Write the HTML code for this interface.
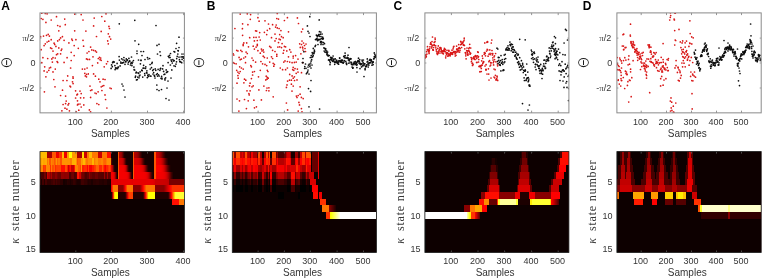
<!DOCTYPE html><html><head><meta charset="utf-8"><style>html,body{margin:0;padding:0;background:#fff;width:764px;height:280px;overflow:hidden}svg{display:block}text{font-family:"Liberation Sans",sans-serif}</style></head><body>
<svg width="764" height="280" viewBox="0 0 764 280">
<defs><filter id="bl" x="-5%" y="-5%" width="110%" height="110%"><feGaussianBlur stdDeviation="0.5"/></filter><filter id="gb" x="0" y="0" width="100%" height="100%"><feGaussianBlur stdDeviation="0.35"/></filter></defs>
<rect width="764" height="280" fill="#fff"/>
<g filter="url(#gb)">
<text x="1.2" y="9.7" font-size="12" font-weight="bold" fill="#000">A</text>
<clipPath id="cA"><rect x="40.00" y="12.90" width="144.40" height="99.95"/></clipPath>
<g clip-path="url(#cA)">
<circle cx="41.8" cy="13.2" r="0.85" fill="#d81616"/>
<circle cx="45.3" cy="13.4" r="0.85" fill="#d81616"/>
<circle cx="47.1" cy="13.8" r="0.85" fill="#d81616"/>
<circle cx="74.7" cy="14.1" r="0.85" fill="#d81616"/>
<circle cx="81.2" cy="14.6" r="0.85" fill="#d81616"/>
<circle cx="106.0" cy="13.8" r="0.85" fill="#d81616"/>
<circle cx="56.5" cy="16.7" r="0.85" fill="#d81616"/>
<circle cx="101.8" cy="16.5" r="0.85" fill="#d81616"/>
<circle cx="51.2" cy="20.0" r="0.85" fill="#d81616"/>
<circle cx="64.7" cy="19.1" r="0.85" fill="#d81616"/>
<circle cx="94.2" cy="18.1" r="0.85" fill="#d81616"/>
<circle cx="83.0" cy="20.0" r="0.85" fill="#d81616"/>
<circle cx="104.8" cy="21.2" r="0.85" fill="#d81616"/>
<circle cx="41.2" cy="18.5" r="0.85" fill="#d81616"/>
<circle cx="42.9" cy="19.3" r="0.85" fill="#d81616"/>
<circle cx="45.9" cy="22.4" r="0.85" fill="#d81616"/>
<circle cx="57.7" cy="25.5" r="0.85" fill="#d81616"/>
<circle cx="60.0" cy="26.4" r="0.85" fill="#d81616"/>
<circle cx="65.3" cy="24.7" r="0.85" fill="#d81616"/>
<circle cx="93.6" cy="25.9" r="0.85" fill="#d81616"/>
<circle cx="108.9" cy="26.4" r="0.85" fill="#d81616"/>
<circle cx="109.5" cy="28.5" r="0.85" fill="#d81616"/>
<circle cx="58.8" cy="30.8" r="0.85" fill="#d81616"/>
<circle cx="74.7" cy="30.8" r="0.85" fill="#d81616"/>
<circle cx="85.9" cy="31.1" r="0.85" fill="#d81616"/>
<circle cx="101.2" cy="31.4" r="0.85" fill="#d81616"/>
<circle cx="108.3" cy="33.8" r="0.85" fill="#d81616"/>
<circle cx="40.6" cy="36.7" r="0.85" fill="#d81616"/>
<circle cx="43.5" cy="36.1" r="0.85" fill="#d81616"/>
<circle cx="46.5" cy="35.3" r="0.85" fill="#d81616"/>
<circle cx="48.2" cy="34.4" r="0.85" fill="#d81616"/>
<circle cx="49.4" cy="36.1" r="0.85" fill="#d81616"/>
<circle cx="62.4" cy="36.7" r="0.85" fill="#d81616"/>
<circle cx="60.6" cy="37.9" r="0.85" fill="#d81616"/>
<circle cx="59.4" cy="39.7" r="0.85" fill="#d81616"/>
<circle cx="57.7" cy="40.9" r="0.85" fill="#d81616"/>
<circle cx="51.2" cy="39.7" r="0.85" fill="#d81616"/>
<circle cx="48.8" cy="41.2" r="0.85" fill="#d81616"/>
<circle cx="47.1" cy="42.0" r="0.85" fill="#d81616"/>
<circle cx="45.3" cy="43.8" r="0.85" fill="#d81616"/>
<circle cx="54.1" cy="43.2" r="0.85" fill="#d81616"/>
<circle cx="54.7" cy="44.4" r="0.85" fill="#d81616"/>
<circle cx="64.1" cy="40.3" r="0.85" fill="#d81616"/>
<circle cx="71.8" cy="39.1" r="0.85" fill="#d81616"/>
<circle cx="72.4" cy="40.3" r="0.85" fill="#d81616"/>
<circle cx="75.9" cy="39.7" r="0.85" fill="#d81616"/>
<circle cx="83.0" cy="40.3" r="0.85" fill="#d81616"/>
<circle cx="96.5" cy="36.5" r="0.85" fill="#d81616"/>
<circle cx="68.9" cy="42.9" r="0.85" fill="#d81616"/>
<circle cx="109.5" cy="36.7" r="0.85" fill="#d81616"/>
<circle cx="110.7" cy="39.1" r="0.85" fill="#d81616"/>
<circle cx="107.7" cy="40.9" r="0.85" fill="#d81616"/>
<circle cx="108.3" cy="43.8" r="0.85" fill="#d81616"/>
<circle cx="44.1" cy="45.6" r="0.85" fill="#d81616"/>
<circle cx="55.9" cy="46.4" r="0.85" fill="#d81616"/>
<circle cx="74.2" cy="45.6" r="0.85" fill="#d81616"/>
<circle cx="83.6" cy="46.2" r="0.85" fill="#d81616"/>
<circle cx="90.6" cy="47.1" r="0.85" fill="#d81616"/>
<circle cx="41.2" cy="49.7" r="0.85" fill="#d81616"/>
<circle cx="50.6" cy="47.9" r="0.85" fill="#d81616"/>
<circle cx="51.8" cy="48.5" r="0.85" fill="#d81616"/>
<circle cx="58.8" cy="47.9" r="0.85" fill="#d81616"/>
<circle cx="61.8" cy="49.1" r="0.85" fill="#d81616"/>
<circle cx="61.2" cy="50.3" r="0.85" fill="#d81616"/>
<circle cx="53.0" cy="51.1" r="0.85" fill="#d81616"/>
<circle cx="78.3" cy="48.3" r="0.85" fill="#d81616"/>
<circle cx="71.2" cy="52.3" r="0.85" fill="#d81616"/>
<circle cx="87.1" cy="53.0" r="0.85" fill="#d81616"/>
<circle cx="88.9" cy="51.5" r="0.85" fill="#d81616"/>
<circle cx="91.8" cy="49.9" r="0.85" fill="#d81616"/>
<circle cx="93.6" cy="50.3" r="0.85" fill="#d81616"/>
<circle cx="95.4" cy="50.9" r="0.85" fill="#d81616"/>
<circle cx="96.5" cy="52.1" r="0.85" fill="#d81616"/>
<circle cx="57.7" cy="53.8" r="0.85" fill="#d81616"/>
<circle cx="56.5" cy="54.7" r="0.85" fill="#d81616"/>
<circle cx="60.6" cy="53.8" r="0.85" fill="#d81616"/>
<circle cx="74.2" cy="55.6" r="0.85" fill="#d81616"/>
<circle cx="42.9" cy="57.7" r="0.85" fill="#d81616"/>
<circle cx="47.7" cy="58.5" r="0.85" fill="#d81616"/>
<circle cx="51.8" cy="58.9" r="0.85" fill="#d81616"/>
<circle cx="53.0" cy="57.7" r="0.85" fill="#d81616"/>
<circle cx="55.3" cy="58.0" r="0.85" fill="#d81616"/>
<circle cx="67.1" cy="57.7" r="0.85" fill="#d81616"/>
<circle cx="86.5" cy="58.9" r="0.85" fill="#d81616"/>
<circle cx="87.7" cy="59.4" r="0.85" fill="#d81616"/>
<circle cx="89.5" cy="59.4" r="0.85" fill="#d81616"/>
<circle cx="93.0" cy="56.8" r="0.85" fill="#d81616"/>
<circle cx="98.3" cy="58.5" r="0.85" fill="#d81616"/>
<circle cx="99.5" cy="57.4" r="0.85" fill="#d81616"/>
<circle cx="100.7" cy="58.0" r="0.85" fill="#d81616"/>
<circle cx="100.1" cy="59.7" r="0.85" fill="#d81616"/>
<circle cx="101.2" cy="60.3" r="0.85" fill="#d81616"/>
<circle cx="107.7" cy="61.5" r="0.85" fill="#d81616"/>
<circle cx="41.8" cy="62.7" r="0.85" fill="#d81616"/>
<circle cx="52.4" cy="62.1" r="0.85" fill="#d81616"/>
<circle cx="57.1" cy="61.5" r="0.85" fill="#d81616"/>
<circle cx="57.7" cy="62.4" r="0.85" fill="#d81616"/>
<circle cx="64.1" cy="62.4" r="0.85" fill="#d81616"/>
<circle cx="71.2" cy="60.5" r="0.85" fill="#d81616"/>
<circle cx="97.7" cy="62.9" r="0.85" fill="#d81616"/>
<circle cx="106.5" cy="63.8" r="0.85" fill="#d81616"/>
<circle cx="44.7" cy="66.8" r="0.85" fill="#d81616"/>
<circle cx="49.4" cy="68.0" r="0.85" fill="#d81616"/>
<circle cx="50.6" cy="67.4" r="0.85" fill="#d81616"/>
<circle cx="55.3" cy="69.1" r="0.85" fill="#d81616"/>
<circle cx="48.8" cy="70.3" r="0.85" fill="#d81616"/>
<circle cx="44.1" cy="70.9" r="0.85" fill="#d81616"/>
<circle cx="47.1" cy="72.1" r="0.85" fill="#d81616"/>
<circle cx="53.0" cy="71.9" r="0.85" fill="#d81616"/>
<circle cx="70.6" cy="68.0" r="0.85" fill="#d81616"/>
<circle cx="82.4" cy="69.1" r="0.85" fill="#d81616"/>
<circle cx="84.8" cy="69.1" r="0.85" fill="#d81616"/>
<circle cx="87.1" cy="68.0" r="0.85" fill="#d81616"/>
<circle cx="92.4" cy="65.6" r="0.85" fill="#d81616"/>
<circle cx="104.2" cy="66.8" r="0.85" fill="#d81616"/>
<circle cx="84.8" cy="73.3" r="0.85" fill="#d81616"/>
<circle cx="86.5" cy="74.4" r="0.85" fill="#d81616"/>
<circle cx="88.3" cy="73.9" r="0.85" fill="#d81616"/>
<circle cx="93.6" cy="73.9" r="0.85" fill="#d81616"/>
<circle cx="95.4" cy="76.2" r="0.85" fill="#d81616"/>
<circle cx="45.9" cy="76.8" r="0.85" fill="#d81616"/>
<circle cx="67.7" cy="75.9" r="0.85" fill="#d81616"/>
<circle cx="73.0" cy="76.8" r="0.85" fill="#d81616"/>
<circle cx="85.3" cy="75.9" r="0.85" fill="#d81616"/>
<circle cx="86.5" cy="76.8" r="0.85" fill="#d81616"/>
<circle cx="53.8" cy="79.5" r="0.85" fill="#d81616"/>
<circle cx="63.1" cy="80.5" r="0.85" fill="#d81616"/>
<circle cx="66.9" cy="80.5" r="0.85" fill="#d81616"/>
<circle cx="73.1" cy="78.2" r="0.85" fill="#d81616"/>
<circle cx="72.5" cy="81.8" r="0.85" fill="#d81616"/>
<circle cx="73.1" cy="83.6" r="0.85" fill="#d81616"/>
<circle cx="70.0" cy="86.1" r="0.85" fill="#d81616"/>
<circle cx="70.6" cy="86.8" r="0.85" fill="#d81616"/>
<circle cx="55.0" cy="86.8" r="0.85" fill="#d81616"/>
<circle cx="44.4" cy="91.8" r="0.85" fill="#d81616"/>
<circle cx="62.5" cy="90.2" r="0.85" fill="#d81616"/>
<circle cx="60.6" cy="95.5" r="0.85" fill="#d81616"/>
<circle cx="65.6" cy="96.1" r="0.85" fill="#d81616"/>
<circle cx="75.6" cy="90.8" r="0.85" fill="#d81616"/>
<circle cx="80.0" cy="91.1" r="0.85" fill="#d81616"/>
<circle cx="76.9" cy="94.9" r="0.85" fill="#d81616"/>
<circle cx="77.5" cy="94.2" r="0.85" fill="#d81616"/>
<circle cx="81.2" cy="93.6" r="0.85" fill="#d81616"/>
<circle cx="75.6" cy="98.0" r="0.85" fill="#d81616"/>
<circle cx="80.6" cy="97.8" r="0.85" fill="#d81616"/>
<circle cx="83.8" cy="97.8" r="0.85" fill="#d81616"/>
<circle cx="77.5" cy="100.8" r="0.85" fill="#d81616"/>
<circle cx="66.2" cy="101.1" r="0.85" fill="#d81616"/>
<circle cx="65.6" cy="103.6" r="0.85" fill="#d81616"/>
<circle cx="68.8" cy="103.6" r="0.85" fill="#d81616"/>
<circle cx="63.1" cy="104.5" r="0.85" fill="#d81616"/>
<circle cx="68.1" cy="104.9" r="0.85" fill="#d81616"/>
<circle cx="78.1" cy="104.2" r="0.85" fill="#d81616"/>
<circle cx="80.0" cy="104.0" r="0.85" fill="#d81616"/>
<circle cx="83.8" cy="104.9" r="0.85" fill="#d81616"/>
<circle cx="77.5" cy="104.9" r="0.85" fill="#d81616"/>
<circle cx="81.2" cy="107.0" r="0.85" fill="#d81616"/>
<circle cx="65.0" cy="108.2" r="0.85" fill="#d81616"/>
<circle cx="61.9" cy="110.8" r="0.85" fill="#d81616"/>
<circle cx="66.9" cy="109.2" r="0.85" fill="#d81616"/>
<circle cx="69.4" cy="110.8" r="0.85" fill="#d81616"/>
<circle cx="76.2" cy="111.8" r="0.85" fill="#d81616"/>
<circle cx="78.8" cy="110.2" r="0.85" fill="#d81616"/>
<circle cx="89.4" cy="109.9" r="0.85" fill="#d81616"/>
<circle cx="90.6" cy="111.8" r="0.85" fill="#d81616"/>
<circle cx="90.0" cy="86.1" r="0.85" fill="#d81616"/>
<circle cx="90.6" cy="90.5" r="0.85" fill="#d81616"/>
<circle cx="91.9" cy="89.9" r="0.85" fill="#d81616"/>
<circle cx="95.0" cy="93.0" r="0.85" fill="#d81616"/>
<circle cx="96.2" cy="93.6" r="0.85" fill="#d81616"/>
<circle cx="98.1" cy="91.8" r="0.85" fill="#d81616"/>
<circle cx="101.9" cy="90.5" r="0.85" fill="#d81616"/>
<circle cx="102.5" cy="86.1" r="0.85" fill="#d81616"/>
<circle cx="101.2" cy="86.8" r="0.85" fill="#d81616"/>
<circle cx="103.8" cy="85.5" r="0.85" fill="#d81616"/>
<circle cx="98.8" cy="79.2" r="0.85" fill="#d81616"/>
<circle cx="100.0" cy="81.8" r="0.85" fill="#d81616"/>
<circle cx="103.1" cy="79.2" r="0.85" fill="#d81616"/>
<circle cx="105.0" cy="79.5" r="0.85" fill="#d81616"/>
<circle cx="90.6" cy="97.4" r="0.85" fill="#d81616"/>
<circle cx="96.9" cy="103.6" r="0.85" fill="#d81616"/>
<circle cx="98.8" cy="104.5" r="0.85" fill="#d81616"/>
<circle cx="105.0" cy="94.9" r="0.85" fill="#d81616"/>
<circle cx="105.6" cy="99.5" r="0.85" fill="#d81616"/>
<circle cx="106.9" cy="108.0" r="0.85" fill="#d81616"/>
<circle cx="110.0" cy="88.0" r="0.85" fill="#d81616"/>
<circle cx="111.2" cy="88.6" r="0.85" fill="#d81616"/>
<circle cx="111.1" cy="68.4" r="0.85" fill="#111111"/>
<circle cx="111.6" cy="64.9" r="0.85" fill="#111111"/>
<circle cx="112.3" cy="66.7" r="0.85" fill="#111111"/>
<circle cx="112.6" cy="62.7" r="0.85" fill="#111111"/>
<circle cx="113.2" cy="61.7" r="0.85" fill="#111111"/>
<circle cx="113.6" cy="61.9" r="0.85" fill="#111111"/>
<circle cx="114.3" cy="62.0" r="0.85" fill="#111111"/>
<circle cx="114.9" cy="65.6" r="0.85" fill="#111111"/>
<circle cx="115.1" cy="69.6" r="0.85" fill="#111111"/>
<circle cx="115.6" cy="67.9" r="0.85" fill="#111111"/>
<circle cx="116.1" cy="68.6" r="0.85" fill="#111111"/>
<circle cx="116.6" cy="68.0" r="0.85" fill="#111111"/>
<circle cx="117.1" cy="63.4" r="0.85" fill="#111111"/>
<circle cx="117.6" cy="68.6" r="0.85" fill="#111111"/>
<circle cx="118.0" cy="67.3" r="0.85" fill="#111111"/>
<circle cx="118.4" cy="67.0" r="0.85" fill="#111111"/>
<circle cx="119.1" cy="56.6" r="0.85" fill="#111111"/>
<circle cx="119.4" cy="60.1" r="0.85" fill="#111111"/>
<circle cx="120.1" cy="65.9" r="0.85" fill="#111111"/>
<circle cx="120.7" cy="62.0" r="0.85" fill="#111111"/>
<circle cx="121.0" cy="63.2" r="0.85" fill="#111111"/>
<circle cx="121.7" cy="58.8" r="0.85" fill="#111111"/>
<circle cx="122.1" cy="62.8" r="0.85" fill="#111111"/>
<circle cx="122.6" cy="62.8" r="0.85" fill="#111111"/>
<circle cx="123.0" cy="59.8" r="0.85" fill="#111111"/>
<circle cx="123.6" cy="62.4" r="0.85" fill="#111111"/>
<circle cx="123.9" cy="57.5" r="0.85" fill="#111111"/>
<circle cx="124.6" cy="60.3" r="0.85" fill="#111111"/>
<circle cx="125.0" cy="64.3" r="0.85" fill="#111111"/>
<circle cx="125.6" cy="61.7" r="0.85" fill="#111111"/>
<circle cx="125.8" cy="61.7" r="0.85" fill="#111111"/>
<circle cx="126.3" cy="58.9" r="0.85" fill="#111111"/>
<circle cx="127.1" cy="60.4" r="0.85" fill="#111111"/>
<circle cx="127.3" cy="59.9" r="0.85" fill="#111111"/>
<circle cx="128.1" cy="64.1" r="0.85" fill="#111111"/>
<circle cx="128.5" cy="62.2" r="0.85" fill="#111111"/>
<circle cx="128.9" cy="58.4" r="0.85" fill="#111111"/>
<circle cx="129.4" cy="60.8" r="0.85" fill="#111111"/>
<circle cx="129.8" cy="61.2" r="0.85" fill="#111111"/>
<circle cx="130.5" cy="65.0" r="0.85" fill="#111111"/>
<circle cx="130.9" cy="63.3" r="0.85" fill="#111111"/>
<circle cx="131.4" cy="62.5" r="0.85" fill="#111111"/>
<circle cx="131.9" cy="65.6" r="0.85" fill="#111111"/>
<circle cx="132.1" cy="63.4" r="0.85" fill="#111111"/>
<circle cx="132.7" cy="62.0" r="0.85" fill="#111111"/>
<circle cx="133.4" cy="60.5" r="0.85" fill="#111111"/>
<circle cx="133.9" cy="67.1" r="0.85" fill="#111111"/>
<circle cx="134.1" cy="69.7" r="0.85" fill="#111111"/>
<circle cx="134.7" cy="70.0" r="0.85" fill="#111111"/>
<circle cx="135.3" cy="77.3" r="0.85" fill="#111111"/>
<circle cx="135.6" cy="76.2" r="0.85" fill="#111111"/>
<circle cx="136.3" cy="72.2" r="0.85" fill="#111111"/>
<circle cx="136.5" cy="79.9" r="0.85" fill="#111111"/>
<circle cx="137.3" cy="79.5" r="0.85" fill="#111111"/>
<circle cx="137.8" cy="77.1" r="0.85" fill="#111111"/>
<circle cx="138.0" cy="72.8" r="0.85" fill="#111111"/>
<circle cx="138.6" cy="73.3" r="0.85" fill="#111111"/>
<circle cx="139.0" cy="77.8" r="0.85" fill="#111111"/>
<circle cx="139.4" cy="75.9" r="0.85" fill="#111111"/>
<circle cx="140.1" cy="71.9" r="0.85" fill="#111111"/>
<circle cx="140.4" cy="63.8" r="0.85" fill="#111111"/>
<circle cx="141.0" cy="60.5" r="0.85" fill="#111111"/>
<circle cx="141.7" cy="70.2" r="0.85" fill="#111111"/>
<circle cx="142.2" cy="70.7" r="0.85" fill="#111111"/>
<circle cx="142.7" cy="77.1" r="0.85" fill="#111111"/>
<circle cx="143.1" cy="68.2" r="0.85" fill="#111111"/>
<circle cx="143.6" cy="65.3" r="0.85" fill="#111111"/>
<circle cx="144.0" cy="68.2" r="0.85" fill="#111111"/>
<circle cx="144.7" cy="73.6" r="0.85" fill="#111111"/>
<circle cx="144.9" cy="75.3" r="0.85" fill="#111111"/>
<circle cx="145.5" cy="68.4" r="0.85" fill="#111111"/>
<circle cx="145.8" cy="66.8" r="0.85" fill="#111111"/>
<circle cx="146.5" cy="72.7" r="0.85" fill="#111111"/>
<circle cx="146.9" cy="70.8" r="0.85" fill="#111111"/>
<circle cx="147.3" cy="77.6" r="0.85" fill="#111111"/>
<circle cx="147.8" cy="75.2" r="0.85" fill="#111111"/>
<circle cx="148.3" cy="76.4" r="0.85" fill="#111111"/>
<circle cx="149.0" cy="74.7" r="0.85" fill="#111111"/>
<circle cx="149.6" cy="58.5" r="0.85" fill="#111111"/>
<circle cx="150.1" cy="64.5" r="0.85" fill="#111111"/>
<circle cx="150.3" cy="69.0" r="0.85" fill="#111111"/>
<circle cx="150.9" cy="76.2" r="0.85" fill="#111111"/>
<circle cx="151.5" cy="67.7" r="0.85" fill="#111111"/>
<circle cx="151.8" cy="63.5" r="0.85" fill="#111111"/>
<circle cx="152.2" cy="62.4" r="0.85" fill="#111111"/>
<circle cx="152.7" cy="70.5" r="0.85" fill="#111111"/>
<circle cx="153.4" cy="69.5" r="0.85" fill="#111111"/>
<circle cx="153.7" cy="72.6" r="0.85" fill="#111111"/>
<circle cx="154.2" cy="75.4" r="0.85" fill="#111111"/>
<circle cx="154.7" cy="76.2" r="0.85" fill="#111111"/>
<circle cx="155.2" cy="68.9" r="0.85" fill="#111111"/>
<circle cx="155.8" cy="70.3" r="0.85" fill="#111111"/>
<circle cx="156.4" cy="74.5" r="0.85" fill="#111111"/>
<circle cx="156.8" cy="85.0" r="0.85" fill="#111111"/>
<circle cx="157.3" cy="73.6" r="0.85" fill="#111111"/>
<circle cx="157.6" cy="76.1" r="0.85" fill="#111111"/>
<circle cx="158.1" cy="69.4" r="0.85" fill="#111111"/>
<circle cx="158.5" cy="74.8" r="0.85" fill="#111111"/>
<circle cx="159.2" cy="76.0" r="0.85" fill="#111111"/>
<circle cx="159.9" cy="70.3" r="0.85" fill="#111111"/>
<circle cx="160.4" cy="68.8" r="0.85" fill="#111111"/>
<circle cx="160.6" cy="68.3" r="0.85" fill="#111111"/>
<circle cx="161.0" cy="78.3" r="0.85" fill="#111111"/>
<circle cx="161.6" cy="76.3" r="0.85" fill="#111111"/>
<circle cx="161.9" cy="78.2" r="0.85" fill="#111111"/>
<circle cx="162.6" cy="68.9" r="0.85" fill="#111111"/>
<circle cx="163.0" cy="65.7" r="0.85" fill="#111111"/>
<circle cx="163.6" cy="71.4" r="0.85" fill="#111111"/>
<circle cx="164.0" cy="74.5" r="0.85" fill="#111111"/>
<circle cx="164.8" cy="74.2" r="0.85" fill="#111111"/>
<circle cx="164.9" cy="78.9" r="0.85" fill="#111111"/>
<circle cx="165.6" cy="77.8" r="0.85" fill="#111111"/>
<circle cx="166.2" cy="69.9" r="0.85" fill="#111111"/>
<circle cx="166.5" cy="72.5" r="0.85" fill="#111111"/>
<circle cx="166.9" cy="72.1" r="0.85" fill="#111111"/>
<circle cx="167.7" cy="71.6" r="0.85" fill="#111111"/>
<circle cx="168.1" cy="62.6" r="0.85" fill="#111111"/>
<circle cx="168.3" cy="56.3" r="0.85" fill="#111111"/>
<circle cx="169.1" cy="57.4" r="0.85" fill="#111111"/>
<circle cx="169.5" cy="55.4" r="0.85" fill="#111111"/>
<circle cx="170.1" cy="57.5" r="0.85" fill="#111111"/>
<circle cx="170.4" cy="65.0" r="0.85" fill="#111111"/>
<circle cx="171.1" cy="59.9" r="0.85" fill="#111111"/>
<circle cx="171.6" cy="61.2" r="0.85" fill="#111111"/>
<circle cx="171.8" cy="69.9" r="0.85" fill="#111111"/>
<circle cx="172.3" cy="63.0" r="0.85" fill="#111111"/>
<circle cx="172.9" cy="59.5" r="0.85" fill="#111111"/>
<circle cx="173.5" cy="60.9" r="0.85" fill="#111111"/>
<circle cx="174.0" cy="65.8" r="0.85" fill="#111111"/>
<circle cx="174.2" cy="60.6" r="0.85" fill="#111111"/>
<circle cx="174.7" cy="51.9" r="0.85" fill="#111111"/>
<circle cx="175.3" cy="66.3" r="0.85" fill="#111111"/>
<circle cx="176.0" cy="64.1" r="0.85" fill="#111111"/>
<circle cx="176.5" cy="61.8" r="0.85" fill="#111111"/>
<circle cx="176.7" cy="58.6" r="0.85" fill="#111111"/>
<circle cx="177.2" cy="56.4" r="0.85" fill="#111111"/>
<circle cx="177.8" cy="54.0" r="0.85" fill="#111111"/>
<circle cx="178.3" cy="50.8" r="0.85" fill="#111111"/>
<circle cx="179.0" cy="57.1" r="0.85" fill="#111111"/>
<circle cx="179.4" cy="59.7" r="0.85" fill="#111111"/>
<circle cx="179.8" cy="61.6" r="0.85" fill="#111111"/>
<circle cx="180.1" cy="61.5" r="0.85" fill="#111111"/>
<circle cx="180.8" cy="62.0" r="0.85" fill="#111111"/>
<circle cx="181.2" cy="56.9" r="0.85" fill="#111111"/>
<circle cx="181.7" cy="62.7" r="0.85" fill="#111111"/>
<circle cx="182.1" cy="59.3" r="0.85" fill="#111111"/>
<circle cx="182.7" cy="56.9" r="0.85" fill="#111111"/>
<circle cx="183.3" cy="56.8" r="0.85" fill="#111111"/>
<circle cx="183.7" cy="58.2" r="0.85" fill="#111111"/>
<circle cx="184.1" cy="60.8" r="0.85" fill="#111111"/>
<circle cx="119.3" cy="23.8" r="0.85" fill="#111111"/>
<circle cx="134.8" cy="20.3" r="0.85" fill="#111111"/>
<circle cx="156.0" cy="25.5" r="0.85" fill="#111111"/>
<circle cx="179.0" cy="37.2" r="0.85" fill="#111111"/>
<circle cx="135.0" cy="40.8" r="0.85" fill="#111111"/>
<circle cx="138.7" cy="44.3" r="0.85" fill="#111111"/>
<circle cx="157.0" cy="45.4" r="0.85" fill="#111111"/>
<circle cx="159.0" cy="44.3" r="0.85" fill="#111111"/>
<circle cx="176.6" cy="43.3" r="0.85" fill="#111111"/>
<circle cx="137.0" cy="51.0" r="0.85" fill="#111111"/>
<circle cx="141.0" cy="51.5" r="0.85" fill="#111111"/>
<circle cx="143.5" cy="51.5" r="0.85" fill="#111111"/>
<circle cx="137.0" cy="53.5" r="0.85" fill="#111111"/>
<circle cx="142.0" cy="55.5" r="0.85" fill="#111111"/>
<circle cx="157.5" cy="54.0" r="0.85" fill="#111111"/>
<circle cx="160.0" cy="51.8" r="0.85" fill="#111111"/>
<circle cx="160.5" cy="55.5" r="0.85" fill="#111111"/>
<circle cx="170.5" cy="53.5" r="0.85" fill="#111111"/>
<circle cx="174.0" cy="51.5" r="0.85" fill="#111111"/>
<circle cx="176.0" cy="48.5" r="0.85" fill="#111111"/>
<circle cx="179.0" cy="47.5" r="0.85" fill="#111111"/>
<circle cx="178.0" cy="50.5" r="0.85" fill="#111111"/>
<circle cx="182.0" cy="54.0" r="0.85" fill="#111111"/>
<circle cx="184.0" cy="54.0" r="0.85" fill="#111111"/>
<circle cx="131.5" cy="57.0" r="0.85" fill="#111111"/>
<circle cx="138.5" cy="60.0" r="0.85" fill="#111111"/>
<circle cx="141.0" cy="60.0" r="0.85" fill="#111111"/>
<circle cx="145.0" cy="59.5" r="0.85" fill="#111111"/>
<circle cx="147.5" cy="57.5" r="0.85" fill="#111111"/>
<circle cx="148.0" cy="59.0" r="0.85" fill="#111111"/>
<circle cx="122.0" cy="84.0" r="0.85" fill="#111111"/>
<circle cx="123.0" cy="86.0" r="0.85" fill="#111111"/>
<circle cx="124.0" cy="90.0" r="0.85" fill="#111111"/>
<circle cx="125.0" cy="97.0" r="0.85" fill="#111111"/>
<circle cx="157.0" cy="89.5" r="0.85" fill="#111111"/>
<circle cx="159.0" cy="90.5" r="0.85" fill="#111111"/>
<circle cx="161.5" cy="89.5" r="0.85" fill="#111111"/>
<circle cx="162.0" cy="79.0" r="0.85" fill="#111111"/>
<circle cx="165.0" cy="80.0" r="0.85" fill="#111111"/>
<circle cx="168.0" cy="81.0" r="0.85" fill="#111111"/>
<circle cx="171.0" cy="78.0" r="0.85" fill="#111111"/>
<circle cx="166.0" cy="98.5" r="0.85" fill="#111111"/>
<circle cx="169.0" cy="100.0" r="0.85" fill="#111111"/>
<circle cx="167.0" cy="88.0" r="0.85" fill="#111111"/>
<circle cx="153.0" cy="74.0" r="0.85" fill="#111111"/>
<circle cx="150.0" cy="76.0" r="0.85" fill="#111111"/>
<circle cx="155.0" cy="78.0" r="0.85" fill="#111111"/>
<circle cx="147.0" cy="73.0" r="0.85" fill="#111111"/>
<circle cx="140.0" cy="75.0" r="0.85" fill="#111111"/>
<circle cx="136.0" cy="73.0" r="0.85" fill="#111111"/>
</g>
<rect x="40.00" y="12.90" width="144.40" height="99.95" fill="none" stroke="#8a8a8a" stroke-width="1"/>
<line x1="75.80" y1="112.85" x2="75.80" y2="110.65" stroke="#8a8a8a" stroke-width="0.9"/>
<line x1="75.80" y1="12.90" x2="75.80" y2="15.10" stroke="#8a8a8a" stroke-width="0.9"/>
<line x1="111.40" y1="112.85" x2="111.40" y2="110.65" stroke="#8a8a8a" stroke-width="0.9"/>
<line x1="111.40" y1="12.90" x2="111.40" y2="15.10" stroke="#8a8a8a" stroke-width="0.9"/>
<line x1="147.50" y1="112.85" x2="147.50" y2="110.65" stroke="#8a8a8a" stroke-width="0.9"/>
<line x1="147.50" y1="12.90" x2="147.50" y2="15.10" stroke="#8a8a8a" stroke-width="0.9"/>
<line x1="183.60" y1="112.85" x2="183.60" y2="110.65" stroke="#8a8a8a" stroke-width="0.9"/>
<line x1="183.60" y1="12.90" x2="183.60" y2="15.10" stroke="#8a8a8a" stroke-width="0.9"/>
<line x1="40.00" y1="38.10" x2="41.50" y2="38.10" stroke="#8a8a8a" stroke-width="0.8"/>
<line x1="184.40" y1="38.10" x2="182.90" y2="38.10" stroke="#8a8a8a" stroke-width="0.8"/>
<line x1="40.00" y1="63.00" x2="41.50" y2="63.00" stroke="#8a8a8a" stroke-width="0.8"/>
<line x1="184.40" y1="63.00" x2="182.90" y2="63.00" stroke="#8a8a8a" stroke-width="0.8"/>
<line x1="40.00" y1="88.00" x2="41.50" y2="88.00" stroke="#8a8a8a" stroke-width="0.8"/>
<line x1="184.40" y1="88.00" x2="182.90" y2="88.00" stroke="#8a8a8a" stroke-width="0.8"/>
<text x="75.20" y="124.6" font-size="9" fill="#353535" text-anchor="middle">100</text>
<text x="110.80" y="124.6" font-size="9" fill="#353535" text-anchor="middle">200</text>
<text x="146.90" y="124.6" font-size="9" fill="#353535" text-anchor="middle">300</text>
<text x="183.00" y="124.6" font-size="9" fill="#353535" text-anchor="middle">400</text>
<text x="34.30" y="40.9" font-size="9" fill="#353535" text-anchor="end"><tspan style="font-family:'Liberation Serif',serif" font-size="8.6">&#960;</tspan>/2</text>
<text x="35.40" y="66.2" font-size="9" fill="#353535" text-anchor="end">0</text>
<text x="34.30" y="90.9" font-size="9" fill="#353535" text-anchor="end">-<tspan style="font-family:'Liberation Serif',serif" font-size="8.6">&#960;</tspan>/2</text>
<text x="110.40" y="136.7" font-size="10" fill="#353535" text-anchor="middle">Samples</text>
<path d="M6.60,62.60 m-5.3,0 a5.3,4.6 0 1,0 10.6,0 a5.3,4.6 0 1,0 -10.6,0 z M6.60,62.60 m-4.5,0 a4.5,3.5 0 1,1 9.0,0 a4.5,3.5 0 1,1 -9.0,0 z" fill="#1e1e1e" fill-rule="evenodd"/>
<rect x="6.10" y="60.20" width="1.0" height="4.8" fill="#1e1e1e"/>
<clipPath id="hA"><rect x="40.00" y="151.60" width="144.40" height="100.90"/></clipPath>
<g clip-path="url(#hA)"><g filter="url(#bl)" shape-rendering="crispEdges">
<rect x="38.00" y="149.60" width="149.00" height="104.90" fill="#0b0103"/>
<rect x="38" y="149.60" width="9" height="8.73" fill="#ffbb00"/>
<rect x="47" y="149.60" width="5" height="8.73" fill="#aa0000"/>
<rect x="52" y="149.60" width="4" height="8.73" fill="#ff5500"/>
<rect x="56" y="149.60" width="3" height="8.73" fill="#ee0000"/>
<rect x="59" y="149.60" width="3" height="8.73" fill="#ff3300"/>
<rect x="62" y="149.60" width="2" height="8.73" fill="#ffbb00"/>
<rect x="64" y="149.60" width="3" height="8.73" fill="#ee0000"/>
<rect x="67" y="149.60" width="2" height="8.73" fill="#ff9900"/>
<rect x="69" y="149.60" width="3" height="8.73" fill="#ffff00"/>
<rect x="72" y="149.60" width="5" height="8.73" fill="#ff9900"/>
<rect x="77" y="149.60" width="5" height="8.73" fill="#aa0000"/>
<rect x="82" y="149.60" width="2" height="8.73" fill="#ffdd00"/>
<rect x="84" y="149.60" width="3" height="8.73" fill="#cc0000"/>
<rect x="87" y="149.60" width="2" height="8.73" fill="#ff7700"/>
<rect x="89" y="149.60" width="3" height="8.73" fill="#ffbb00"/>
<rect x="92" y="149.60" width="6" height="8.73" fill="#ff7700"/>
<rect x="98" y="149.60" width="4" height="8.73" fill="#cc0000"/>
<rect x="102" y="149.60" width="5" height="8.73" fill="#ff7700"/>
<rect x="107" y="149.60" width="4" height="8.73" fill="#ff1100"/>
<rect x="111" y="149.60" width="7" height="8.73" fill="#140000"/>
<rect x="118" y="149.60" width="1" height="8.73" fill="#ff5500"/>
<rect x="119" y="149.60" width="1" height="8.73" fill="#ad0000"/>
<rect x="120" y="149.60" width="1" height="8.73" fill="#a60000"/>
<rect x="121" y="149.60" width="1" height="8.73" fill="#950000"/>
<rect x="122" y="149.60" width="1" height="8.73" fill="#700000"/>
<rect x="123" y="149.60" width="1" height="8.73" fill="#400000"/>
<rect x="124" y="149.60" width="1" height="8.73" fill="#1c0000"/>
<rect x="125" y="149.60" width="8" height="8.73" fill="#140000"/>
<rect x="133" y="149.60" width="1" height="8.73" fill="#ff5500"/>
<rect x="134" y="149.60" width="1" height="8.73" fill="#ae0000"/>
<rect x="135" y="149.60" width="1" height="8.73" fill="#ab0000"/>
<rect x="136" y="149.60" width="1" height="8.73" fill="#a50000"/>
<rect x="137" y="149.60" width="1" height="8.73" fill="#9a0000"/>
<rect x="138" y="149.60" width="1" height="8.73" fill="#850000"/>
<rect x="139" y="149.60" width="1" height="8.73" fill="#680000"/>
<rect x="140" y="149.60" width="1" height="8.73" fill="#460000"/>
<rect x="141" y="149.60" width="1" height="8.73" fill="#290000"/>
<rect x="142" y="149.60" width="1" height="8.73" fill="#160000"/>
<rect x="143" y="149.60" width="11" height="8.73" fill="#140000"/>
<rect x="154" y="149.60" width="2" height="8.73" fill="#ff5500"/>
<rect x="156" y="149.60" width="1" height="8.73" fill="#d20000"/>
<rect x="157" y="149.60" width="1" height="8.73" fill="#cd0000"/>
<rect x="158" y="149.60" width="1" height="8.73" fill="#c40000"/>
<rect x="159" y="149.60" width="1" height="8.73" fill="#b60000"/>
<rect x="160" y="149.60" width="1" height="8.73" fill="#a10000"/>
<rect x="161" y="149.60" width="1" height="8.73" fill="#870000"/>
<rect x="162" y="149.60" width="1" height="8.73" fill="#680000"/>
<rect x="163" y="149.60" width="1" height="8.73" fill="#4b0000"/>
<rect x="164" y="149.60" width="1" height="8.73" fill="#320000"/>
<rect x="165" y="149.60" width="1" height="8.73" fill="#1f0000"/>
<rect x="166" y="149.60" width="21" height="8.73" fill="#140000"/>
<rect x="38" y="158.33" width="4" height="6.73" fill="#ffa200"/>
<rect x="42" y="158.33" width="1" height="6.73" fill="#ffb100"/>
<rect x="43" y="158.33" width="2" height="6.73" fill="#ffa300"/>
<rect x="45" y="158.33" width="2" height="6.73" fill="#ffab00"/>
<rect x="47" y="158.33" width="1" height="6.73" fill="#ff7500"/>
<rect x="48" y="158.33" width="1" height="6.73" fill="#ff9000"/>
<rect x="49" y="158.33" width="2" height="6.73" fill="#ff5400"/>
<rect x="51" y="158.33" width="1" height="6.73" fill="#ff8500"/>
<rect x="52" y="158.33" width="2" height="6.73" fill="#ff7800"/>
<rect x="54" y="158.33" width="1" height="6.73" fill="#ff5800"/>
<rect x="55" y="158.33" width="1" height="6.73" fill="#ff6b00"/>
<rect x="56" y="158.33" width="1" height="6.73" fill="#ff9300"/>
<rect x="57" y="158.33" width="1" height="6.73" fill="#ff6700"/>
<rect x="58" y="158.33" width="2" height="6.73" fill="#ff7b00"/>
<rect x="60" y="158.33" width="2" height="6.73" fill="#ff5300"/>
<rect x="62" y="158.33" width="2" height="6.73" fill="#ff9200"/>
<rect x="64" y="158.33" width="3" height="6.73" fill="#ff9300"/>
<rect x="67" y="158.33" width="1" height="6.73" fill="#ff9000"/>
<rect x="68" y="158.33" width="2" height="6.73" fill="#ff9100"/>
<rect x="70" y="158.33" width="2" height="6.73" fill="#ff7d00"/>
<rect x="72" y="158.33" width="2" height="6.73" fill="#ffb000"/>
<rect x="74" y="158.33" width="2" height="6.73" fill="#ffb300"/>
<rect x="76" y="158.33" width="1" height="6.73" fill="#ff8e00"/>
<rect x="77" y="158.33" width="1" height="6.73" fill="#ff5200"/>
<rect x="78" y="158.33" width="3" height="6.73" fill="#ff6500"/>
<rect x="81" y="158.33" width="2" height="6.73" fill="#ff9e00"/>
<rect x="83" y="158.33" width="2" height="6.73" fill="#ffba00"/>
<rect x="85" y="158.33" width="1" height="6.73" fill="#ff9300"/>
<rect x="86" y="158.33" width="2" height="6.73" fill="#ff7500"/>
<rect x="88" y="158.33" width="2" height="6.73" fill="#ff8c00"/>
<rect x="90" y="158.33" width="1" height="6.73" fill="#ff8e00"/>
<rect x="91" y="158.33" width="1" height="6.73" fill="#ff8800"/>
<rect x="92" y="158.33" width="2" height="6.73" fill="#ffb500"/>
<rect x="94" y="158.33" width="1" height="6.73" fill="#ff7c00"/>
<rect x="95" y="158.33" width="1" height="6.73" fill="#ff8f00"/>
<rect x="96" y="158.33" width="2" height="6.73" fill="#ff9600"/>
<rect x="98" y="158.33" width="3" height="6.73" fill="#ff7a00"/>
<rect x="101" y="158.33" width="2" height="6.73" fill="#ff8600"/>
<rect x="103" y="158.33" width="1" height="6.73" fill="#ff6d00"/>
<rect x="104" y="158.33" width="2" height="6.73" fill="#ff6500"/>
<rect x="106" y="158.33" width="1" height="6.73" fill="#ff7c00"/>
<rect x="107" y="158.33" width="3" height="6.73" fill="#ff8e00"/>
<rect x="110" y="158.33" width="1" height="6.73" fill="#ff9000"/>
<rect x="111" y="158.33" width="1" height="6.73" fill="#5b0000"/>
<rect x="112" y="158.33" width="1" height="6.73" fill="#230000"/>
<rect x="113" y="158.33" width="5" height="6.73" fill="#140000"/>
<rect x="118" y="158.33" width="1" height="6.73" fill="#ff5500"/>
<rect x="119" y="158.33" width="1" height="6.73" fill="#d90000"/>
<rect x="120" y="158.33" width="1" height="6.73" fill="#d80000"/>
<rect x="121" y="158.33" width="1" height="6.73" fill="#d40000"/>
<rect x="122" y="158.33" width="1" height="6.73" fill="#ca0000"/>
<rect x="123" y="158.33" width="1" height="6.73" fill="#b00000"/>
<rect x="124" y="158.33" width="1" height="6.73" fill="#7f0000"/>
<rect x="125" y="158.33" width="1" height="6.73" fill="#450000"/>
<rect x="126" y="158.33" width="1" height="6.73" fill="#1d0000"/>
<rect x="127" y="158.33" width="6" height="6.73" fill="#140000"/>
<rect x="133" y="158.33" width="1" height="6.73" fill="#ff5500"/>
<rect x="134" y="158.33" width="2" height="6.73" fill="#d90000"/>
<rect x="136" y="158.33" width="1" height="6.73" fill="#d80000"/>
<rect x="137" y="158.33" width="1" height="6.73" fill="#d50000"/>
<rect x="138" y="158.33" width="1" height="6.73" fill="#d00000"/>
<rect x="139" y="158.33" width="1" height="6.73" fill="#c70000"/>
<rect x="140" y="158.33" width="1" height="6.73" fill="#b40000"/>
<rect x="141" y="158.33" width="1" height="6.73" fill="#960000"/>
<rect x="142" y="158.33" width="1" height="6.73" fill="#6e0000"/>
<rect x="143" y="158.33" width="1" height="6.73" fill="#460000"/>
<rect x="144" y="158.33" width="1" height="6.73" fill="#270000"/>
<rect x="145" y="158.33" width="9" height="6.73" fill="#140000"/>
<rect x="154" y="158.33" width="2" height="6.73" fill="#ff5500"/>
<rect x="156" y="158.33" width="1" height="6.73" fill="#f20000"/>
<rect x="157" y="158.33" width="1" height="6.73" fill="#f10000"/>
<rect x="158" y="158.33" width="1" height="6.73" fill="#ee0000"/>
<rect x="159" y="158.33" width="1" height="6.73" fill="#e90000"/>
<rect x="160" y="158.33" width="1" height="6.73" fill="#e00000"/>
<rect x="161" y="158.33" width="1" height="6.73" fill="#d30000"/>
<rect x="162" y="158.33" width="1" height="6.73" fill="#be0000"/>
<rect x="163" y="158.33" width="1" height="6.73" fill="#a30000"/>
<rect x="164" y="158.33" width="1" height="6.73" fill="#810000"/>
<rect x="165" y="158.33" width="1" height="6.73" fill="#5f0000"/>
<rect x="166" y="158.33" width="1" height="6.73" fill="#410000"/>
<rect x="167" y="158.33" width="1" height="6.73" fill="#2a0000"/>
<rect x="168" y="158.33" width="1" height="6.73" fill="#190000"/>
<rect x="169" y="158.33" width="18" height="6.73" fill="#140000"/>
<rect x="38" y="165.05" width="3" height="6.73" fill="#ff7000"/>
<rect x="41" y="165.05" width="2" height="6.73" fill="#ff8600"/>
<rect x="43" y="165.05" width="1" height="6.73" fill="#ff3500"/>
<rect x="44" y="165.05" width="1" height="6.73" fill="#ff4200"/>
<rect x="45" y="165.05" width="1" height="6.73" fill="#ff3900"/>
<rect x="46" y="165.05" width="2" height="6.73" fill="#ff8600"/>
<rect x="48" y="165.05" width="2" height="6.73" fill="#ff8400"/>
<rect x="50" y="165.05" width="1" height="6.73" fill="#ff3200"/>
<rect x="51" y="165.05" width="1" height="6.73" fill="#ff7d00"/>
<rect x="52" y="165.05" width="2" height="6.73" fill="#ff4e00"/>
<rect x="54" y="165.05" width="1" height="6.73" fill="#ff6200"/>
<rect x="55" y="165.05" width="1" height="6.73" fill="#ff2a00"/>
<rect x="56" y="165.05" width="2" height="6.73" fill="#ff4300"/>
<rect x="58" y="165.05" width="3" height="6.73" fill="#ff4500"/>
<rect x="61" y="165.05" width="2" height="6.73" fill="#ff0700"/>
<rect x="63" y="165.05" width="2" height="6.73" fill="#ff0b00"/>
<rect x="65" y="165.05" width="2" height="6.73" fill="#ff4c00"/>
<rect x="67" y="165.05" width="1" height="6.73" fill="#ff1d00"/>
<rect x="68" y="165.05" width="1" height="6.73" fill="#c60000"/>
<rect x="69" y="165.05" width="1" height="6.73" fill="#f80000"/>
<rect x="70" y="165.05" width="1" height="6.73" fill="#ff1300"/>
<rect x="71" y="165.05" width="3" height="6.73" fill="#c80000"/>
<rect x="74" y="165.05" width="1" height="6.73" fill="#ff0800"/>
<rect x="75" y="165.05" width="3" height="6.73" fill="#ff8200"/>
<rect x="78" y="165.05" width="2" height="6.73" fill="#ff6000"/>
<rect x="80" y="165.05" width="1" height="6.73" fill="#ff4100"/>
<rect x="81" y="165.05" width="1" height="6.73" fill="#ff9600"/>
<rect x="82" y="165.05" width="2" height="6.73" fill="#ff1c00"/>
<rect x="84" y="165.05" width="3" height="6.73" fill="#ff2a00"/>
<rect x="87" y="165.05" width="1" height="6.73" fill="#ff0500"/>
<rect x="88" y="165.05" width="1" height="6.73" fill="#ff3e00"/>
<rect x="89" y="165.05" width="3" height="6.73" fill="#f90000"/>
<rect x="92" y="165.05" width="2" height="6.73" fill="#ff1b00"/>
<rect x="94" y="165.05" width="1" height="6.73" fill="#ff3400"/>
<rect x="95" y="165.05" width="1" height="6.73" fill="#ff3d00"/>
<rect x="96" y="165.05" width="3" height="6.73" fill="#ff6200"/>
<rect x="99" y="165.05" width="3" height="6.73" fill="#ff2700"/>
<rect x="102" y="165.05" width="1" height="6.73" fill="#ff5900"/>
<rect x="103" y="165.05" width="1" height="6.73" fill="#ff3200"/>
<rect x="104" y="165.05" width="1" height="6.73" fill="#ff1000"/>
<rect x="105" y="165.05" width="1" height="6.73" fill="#f90000"/>
<rect x="106" y="165.05" width="2" height="6.73" fill="#ff2300"/>
<rect x="108" y="165.05" width="1" height="6.73" fill="#ff3a00"/>
<rect x="109" y="165.05" width="1" height="6.73" fill="#ff4e00"/>
<rect x="110" y="165.05" width="1" height="6.73" fill="#ff2d00"/>
<rect x="111" y="165.05" width="1" height="6.73" fill="#df0000"/>
<rect x="112" y="165.05" width="1" height="6.73" fill="#b30000"/>
<rect x="113" y="165.05" width="1" height="6.73" fill="#660000"/>
<rect x="114" y="165.05" width="1" height="6.73" fill="#270000"/>
<rect x="115" y="165.05" width="3" height="6.73" fill="#140000"/>
<rect x="118" y="165.05" width="1" height="6.73" fill="#ff5500"/>
<rect x="119" y="165.05" width="2" height="6.73" fill="#f50000"/>
<rect x="121" y="165.05" width="1" height="6.73" fill="#f40000"/>
<rect x="122" y="165.05" width="1" height="6.73" fill="#f30000"/>
<rect x="123" y="165.05" width="1" height="6.73" fill="#f10000"/>
<rect x="124" y="165.05" width="1" height="6.73" fill="#e90000"/>
<rect x="125" y="165.05" width="1" height="6.73" fill="#d50000"/>
<rect x="126" y="165.05" width="1" height="6.73" fill="#a80000"/>
<rect x="127" y="165.05" width="1" height="6.73" fill="#660000"/>
<rect x="128" y="165.05" width="1" height="6.73" fill="#2f0000"/>
<rect x="129" y="165.05" width="4" height="6.73" fill="#140000"/>
<rect x="133" y="165.05" width="1" height="6.73" fill="#ff5500"/>
<rect x="134" y="165.05" width="3" height="6.73" fill="#f50000"/>
<rect x="137" y="165.05" width="2" height="6.73" fill="#f40000"/>
<rect x="139" y="165.05" width="1" height="6.73" fill="#f30000"/>
<rect x="140" y="165.05" width="1" height="6.73" fill="#f10000"/>
<rect x="141" y="165.05" width="1" height="6.73" fill="#ed0000"/>
<rect x="142" y="165.05" width="1" height="6.73" fill="#e50000"/>
<rect x="143" y="165.05" width="1" height="6.73" fill="#d50000"/>
<rect x="144" y="165.05" width="1" height="6.73" fill="#b90000"/>
<rect x="145" y="165.05" width="1" height="6.73" fill="#900000"/>
<rect x="146" y="165.05" width="1" height="6.73" fill="#620000"/>
<rect x="147" y="165.05" width="1" height="6.73" fill="#390000"/>
<rect x="148" y="165.05" width="1" height="6.73" fill="#1e0000"/>
<rect x="149" y="165.05" width="5" height="6.73" fill="#140000"/>
<rect x="154" y="165.05" width="2" height="6.73" fill="#ff5500"/>
<rect x="156" y="165.05" width="1" height="6.73" fill="#ff0300"/>
<rect x="157" y="165.05" width="1" height="6.73" fill="#ff0200"/>
<rect x="158" y="165.05" width="1" height="6.73" fill="#ff0100"/>
<rect x="159" y="165.05" width="1" height="6.73" fill="#fe0000"/>
<rect x="160" y="165.05" width="1" height="6.73" fill="#fb0000"/>
<rect x="161" y="165.05" width="1" height="6.73" fill="#f60000"/>
<rect x="162" y="165.05" width="1" height="6.73" fill="#ed0000"/>
<rect x="163" y="165.05" width="1" height="6.73" fill="#df0000"/>
<rect x="164" y="165.05" width="1" height="6.73" fill="#ca0000"/>
<rect x="165" y="165.05" width="1" height="6.73" fill="#ad0000"/>
<rect x="166" y="165.05" width="1" height="6.73" fill="#8b0000"/>
<rect x="167" y="165.05" width="1" height="6.73" fill="#660000"/>
<rect x="168" y="165.05" width="1" height="6.73" fill="#460000"/>
<rect x="169" y="165.05" width="1" height="6.73" fill="#2d0000"/>
<rect x="170" y="165.05" width="1" height="6.73" fill="#1c0000"/>
<rect x="171" y="165.05" width="16" height="6.73" fill="#140000"/>
<rect x="38" y="171.78" width="3" height="6.73" fill="#2e0000"/>
<rect x="41" y="171.78" width="2" height="6.73" fill="#4a0000"/>
<rect x="43" y="171.78" width="1" height="6.73" fill="#4d0000"/>
<rect x="44" y="171.78" width="2" height="6.73" fill="#710000"/>
<rect x="46" y="171.78" width="1" height="6.73" fill="#480000"/>
<rect x="47" y="171.78" width="1" height="6.73" fill="#c90000"/>
<rect x="48" y="171.78" width="2" height="6.73" fill="#ae0000"/>
<rect x="50" y="171.78" width="1" height="6.73" fill="#860000"/>
<rect x="51" y="171.78" width="1" height="6.73" fill="#a80000"/>
<rect x="52" y="171.78" width="3" height="6.73" fill="#760000"/>
<rect x="55" y="171.78" width="2" height="6.73" fill="#8d0000"/>
<rect x="57" y="171.78" width="1" height="6.73" fill="#760000"/>
<rect x="58" y="171.78" width="3" height="6.73" fill="#690000"/>
<rect x="61" y="171.78" width="3" height="6.73" fill="#930000"/>
<rect x="64" y="171.78" width="2" height="6.73" fill="#8c0000"/>
<rect x="66" y="171.78" width="3" height="6.73" fill="#900000"/>
<rect x="69" y="171.78" width="2" height="6.73" fill="#4c0000"/>
<rect x="71" y="171.78" width="1" height="6.73" fill="#670000"/>
<rect x="72" y="171.78" width="2" height="6.73" fill="#6e0000"/>
<rect x="74" y="171.78" width="2" height="6.73" fill="#4e0000"/>
<rect x="76" y="171.78" width="1" height="6.73" fill="#580000"/>
<rect x="77" y="171.78" width="1" height="6.73" fill="#ff0900"/>
<rect x="78" y="171.78" width="1" height="6.73" fill="#ff1500"/>
<rect x="79" y="171.78" width="2" height="6.73" fill="#ce0000"/>
<rect x="81" y="171.78" width="1" height="6.73" fill="#820000"/>
<rect x="82" y="171.78" width="2" height="6.73" fill="#710000"/>
<rect x="84" y="171.78" width="1" height="6.73" fill="#600000"/>
<rect x="85" y="171.78" width="2" height="6.73" fill="#4c0000"/>
<rect x="87" y="171.78" width="2" height="6.73" fill="#5c0000"/>
<rect x="89" y="171.78" width="1" height="6.73" fill="#890000"/>
<rect x="90" y="171.78" width="2" height="6.73" fill="#6b0000"/>
<rect x="92" y="171.78" width="3" height="6.73" fill="#5b0000"/>
<rect x="95" y="171.78" width="3" height="6.73" fill="#6d0000"/>
<rect x="98" y="171.78" width="3" height="6.73" fill="#580000"/>
<rect x="101" y="171.78" width="3" height="6.73" fill="#550000"/>
<rect x="104" y="171.78" width="1" height="6.73" fill="#9a0000"/>
<rect x="105" y="171.78" width="2" height="6.73" fill="#5d0000"/>
<rect x="107" y="171.78" width="1" height="6.73" fill="#9c0000"/>
<rect x="108" y="171.78" width="2" height="6.73" fill="#5e0000"/>
<rect x="110" y="171.78" width="1" height="6.73" fill="#6f0000"/>
<rect x="111" y="171.78" width="1" height="6.73" fill="#f40000"/>
<rect x="112" y="171.78" width="1" height="6.73" fill="#f20000"/>
<rect x="113" y="171.78" width="1" height="6.73" fill="#e90000"/>
<rect x="114" y="171.78" width="1" height="6.73" fill="#ce0000"/>
<rect x="115" y="171.78" width="1" height="6.73" fill="#8f0000"/>
<rect x="116" y="171.78" width="1" height="6.73" fill="#420000"/>
<rect x="117" y="171.78" width="1" height="6.73" fill="#160000"/>
<rect x="118" y="171.78" width="1" height="6.73" fill="#ff5500"/>
<rect x="119" y="171.78" width="5" height="6.73" fill="#f50000"/>
<rect x="124" y="171.78" width="1" height="6.73" fill="#f40000"/>
<rect x="125" y="171.78" width="1" height="6.73" fill="#f30000"/>
<rect x="126" y="171.78" width="1" height="6.73" fill="#f10000"/>
<rect x="127" y="171.78" width="1" height="6.73" fill="#e90000"/>
<rect x="128" y="171.78" width="1" height="6.73" fill="#d50000"/>
<rect x="129" y="171.78" width="1" height="6.73" fill="#a80000"/>
<rect x="130" y="171.78" width="1" height="6.73" fill="#660000"/>
<rect x="131" y="171.78" width="1" height="6.73" fill="#2f0000"/>
<rect x="132" y="171.78" width="1" height="6.73" fill="#140000"/>
<rect x="133" y="171.78" width="1" height="6.73" fill="#ff5500"/>
<rect x="134" y="171.78" width="8" height="6.73" fill="#f50000"/>
<rect x="142" y="171.78" width="2" height="6.73" fill="#f40000"/>
<rect x="144" y="171.78" width="1" height="6.73" fill="#f20000"/>
<rect x="145" y="171.78" width="1" height="6.73" fill="#ef0000"/>
<rect x="146" y="171.78" width="1" height="6.73" fill="#e80000"/>
<rect x="147" y="171.78" width="1" height="6.73" fill="#db0000"/>
<rect x="148" y="171.78" width="1" height="6.73" fill="#c30000"/>
<rect x="149" y="171.78" width="1" height="6.73" fill="#9e0000"/>
<rect x="150" y="171.78" width="1" height="6.73" fill="#700000"/>
<rect x="151" y="171.78" width="1" height="6.73" fill="#440000"/>
<rect x="152" y="171.78" width="1" height="6.73" fill="#250000"/>
<rect x="153" y="171.78" width="1" height="6.73" fill="#140000"/>
<rect x="154" y="171.78" width="2" height="6.73" fill="#ff5500"/>
<rect x="156" y="171.78" width="2" height="6.73" fill="#f50000"/>
<rect x="158" y="171.78" width="2" height="6.73" fill="#f40000"/>
<rect x="160" y="171.78" width="1" height="6.73" fill="#f30000"/>
<rect x="161" y="171.78" width="1" height="6.73" fill="#f20000"/>
<rect x="162" y="171.78" width="1" height="6.73" fill="#f10000"/>
<rect x="163" y="171.78" width="1" height="6.73" fill="#ee0000"/>
<rect x="164" y="171.78" width="1" height="6.73" fill="#e90000"/>
<rect x="165" y="171.78" width="1" height="6.73" fill="#e00000"/>
<rect x="166" y="171.78" width="1" height="6.73" fill="#d20000"/>
<rect x="167" y="171.78" width="1" height="6.73" fill="#be0000"/>
<rect x="168" y="171.78" width="1" height="6.73" fill="#a20000"/>
<rect x="169" y="171.78" width="1" height="6.73" fill="#810000"/>
<rect x="170" y="171.78" width="1" height="6.73" fill="#5f0000"/>
<rect x="171" y="171.78" width="1" height="6.73" fill="#410000"/>
<rect x="172" y="171.78" width="1" height="6.73" fill="#2a0000"/>
<rect x="173" y="171.78" width="1" height="6.73" fill="#190000"/>
<rect x="174" y="171.78" width="13" height="6.73" fill="#140000"/>
<rect x="38" y="178.51" width="3" height="6.73" fill="#4a0000"/>
<rect x="41" y="178.51" width="1" height="6.73" fill="#1d0000"/>
<rect x="42" y="178.51" width="2" height="6.73" fill="#420000"/>
<rect x="44" y="178.51" width="1" height="6.73" fill="#250000"/>
<rect x="45" y="178.51" width="2" height="6.73" fill="#460000"/>
<rect x="47" y="178.51" width="2" height="6.73" fill="#320000"/>
<rect x="49" y="178.51" width="2" height="6.73" fill="#300000"/>
<rect x="51" y="178.51" width="2" height="6.73" fill="#3c0000"/>
<rect x="53" y="178.51" width="2" height="6.73" fill="#4a0000"/>
<rect x="55" y="178.51" width="1" height="6.73" fill="#370000"/>
<rect x="56" y="178.51" width="1" height="6.73" fill="#480000"/>
<rect x="57" y="178.51" width="3" height="6.73" fill="#3b0000"/>
<rect x="60" y="178.51" width="3" height="6.73" fill="#2e0000"/>
<rect x="63" y="178.51" width="1" height="6.73" fill="#170000"/>
<rect x="64" y="178.51" width="1" height="6.73" fill="#190000"/>
<rect x="65" y="178.51" width="2" height="6.73" fill="#1f0000"/>
<rect x="67" y="178.51" width="1" height="6.73" fill="#2b0000"/>
<rect x="68" y="178.51" width="2" height="6.73" fill="#260000"/>
<rect x="70" y="178.51" width="1" height="6.73" fill="#1a0000"/>
<rect x="71" y="178.51" width="2" height="6.73" fill="#250000"/>
<rect x="73" y="178.51" width="2" height="6.73" fill="#360000"/>
<rect x="75" y="178.51" width="1" height="6.73" fill="#2e0000"/>
<rect x="76" y="178.51" width="1" height="6.73" fill="#200000"/>
<rect x="77" y="178.51" width="3" height="6.73" fill="#1d0000"/>
<rect x="80" y="178.51" width="1" height="6.73" fill="#250000"/>
<rect x="81" y="178.51" width="3" height="6.73" fill="#410000"/>
<rect x="84" y="178.51" width="3" height="6.73" fill="#350000"/>
<rect x="87" y="178.51" width="1" height="6.73" fill="#2a0000"/>
<rect x="88" y="178.51" width="1" height="6.73" fill="#220000"/>
<rect x="89" y="178.51" width="2" height="6.73" fill="#250000"/>
<rect x="91" y="178.51" width="2" height="6.73" fill="#1b0000"/>
<rect x="93" y="178.51" width="3" height="6.73" fill="#2b0000"/>
<rect x="96" y="178.51" width="3" height="6.73" fill="#2f0000"/>
<rect x="99" y="178.51" width="3" height="6.73" fill="#280000"/>
<rect x="102" y="178.51" width="2" height="6.73" fill="#210000"/>
<rect x="104" y="178.51" width="3" height="6.73" fill="#2b0000"/>
<rect x="107" y="178.51" width="3" height="6.73" fill="#1e0000"/>
<rect x="110" y="178.51" width="1" height="6.73" fill="#180000"/>
<rect x="111" y="178.51" width="5" height="6.73" fill="#e70000"/>
<rect x="116" y="178.51" width="1" height="6.73" fill="#e60000"/>
<rect x="117" y="178.51" width="1" height="6.73" fill="#e20000"/>
<rect x="118" y="178.51" width="13" height="6.73" fill="#e70000"/>
<rect x="131" y="178.51" width="1" height="6.73" fill="#e50000"/>
<rect x="132" y="178.51" width="1" height="6.73" fill="#e10000"/>
<rect x="133" y="178.51" width="18" height="6.73" fill="#e70000"/>
<rect x="151" y="178.51" width="1" height="6.73" fill="#e60000"/>
<rect x="152" y="178.51" width="1" height="6.73" fill="#e40000"/>
<rect x="153" y="178.51" width="1" height="6.73" fill="#e10000"/>
<rect x="154" y="178.51" width="1" height="6.73" fill="#db0000"/>
<rect x="155" y="178.51" width="8" height="6.73" fill="#cc0000"/>
<rect x="163" y="178.51" width="2" height="6.73" fill="#cb0000"/>
<rect x="165" y="178.51" width="1" height="6.73" fill="#c90000"/>
<rect x="166" y="178.51" width="1" height="6.73" fill="#c80000"/>
<rect x="167" y="178.51" width="1" height="6.73" fill="#c40000"/>
<rect x="168" y="178.51" width="1" height="6.73" fill="#bf0000"/>
<rect x="169" y="178.51" width="15" height="6.73" fill="#7a0000"/>
<rect x="184" y="178.51" width="3" height="6.73" fill="#140000"/>
<rect x="111" y="185.23" width="1" height="6.73" fill="#f70000"/>
<rect x="112" y="185.23" width="1" height="6.73" fill="#ff3800"/>
<rect x="113" y="185.23" width="5" height="6.73" fill="#ff7700"/>
<rect x="118" y="185.23" width="5" height="6.73" fill="#880000"/>
<rect x="123" y="185.23" width="1" height="6.73" fill="#a20000"/>
<rect x="124" y="185.23" width="1" height="6.73" fill="#d70000"/>
<rect x="125" y="185.23" width="1" height="6.73" fill="#ff0d00"/>
<rect x="126" y="185.23" width="1" height="6.73" fill="#ff4200"/>
<rect x="127" y="185.23" width="6" height="6.73" fill="#ff7700"/>
<rect x="133" y="185.23" width="7" height="6.73" fill="#880000"/>
<rect x="140" y="185.23" width="1" height="6.73" fill="#9c0000"/>
<rect x="141" y="185.23" width="1" height="6.73" fill="#c10000"/>
<rect x="142" y="185.23" width="1" height="6.73" fill="#e60000"/>
<rect x="143" y="185.23" width="1" height="6.73" fill="#ff0c00"/>
<rect x="144" y="185.23" width="1" height="6.73" fill="#ff3100"/>
<rect x="145" y="185.23" width="1" height="6.73" fill="#ff5600"/>
<rect x="146" y="185.23" width="9" height="6.73" fill="#ff7700"/>
<rect x="155" y="185.23" width="9" height="6.73" fill="#880000"/>
<rect x="164" y="185.23" width="1" height="6.73" fill="#950000"/>
<rect x="165" y="185.23" width="1" height="6.73" fill="#a80000"/>
<rect x="166" y="185.23" width="1" height="6.73" fill="#bc0000"/>
<rect x="167" y="185.23" width="1" height="6.73" fill="#cf0000"/>
<rect x="168" y="185.23" width="1" height="6.73" fill="#e20000"/>
<rect x="169" y="185.23" width="1" height="6.73" fill="#f50000"/>
<rect x="170" y="185.23" width="1" height="6.73" fill="#ff0a00"/>
<rect x="171" y="185.23" width="1" height="6.73" fill="#ff1d00"/>
<rect x="172" y="185.23" width="1" height="6.73" fill="#ff3000"/>
<rect x="173" y="185.23" width="14" height="6.73" fill="#ff3300"/>
<rect x="111" y="191.96" width="1" height="6.73" fill="#220000"/>
<rect x="112" y="191.96" width="1" height="6.73" fill="#a70000"/>
<rect x="113" y="191.96" width="1" height="6.73" fill="#ff4100"/>
<rect x="114" y="191.96" width="1" height="6.73" fill="#ffd900"/>
<rect x="115" y="191.96" width="3" height="6.73" fill="#ffff00"/>
<rect x="118" y="191.96" width="7" height="6.73" fill="#220000"/>
<rect x="125" y="191.96" width="1" height="6.73" fill="#350000"/>
<rect x="126" y="191.96" width="1" height="6.73" fill="#810000"/>
<rect x="127" y="191.96" width="1" height="6.73" fill="#cd0000"/>
<rect x="128" y="191.96" width="1" height="6.73" fill="#ff1b00"/>
<rect x="129" y="191.96" width="4" height="6.73" fill="#ff4100"/>
<rect x="133" y="191.96" width="10" height="6.73" fill="#220000"/>
<rect x="143" y="191.96" width="1" height="6.73" fill="#3f0000"/>
<rect x="144" y="191.96" width="1" height="6.73" fill="#970000"/>
<rect x="145" y="191.96" width="1" height="6.73" fill="#f00000"/>
<rect x="146" y="191.96" width="1" height="6.73" fill="#ff4900"/>
<rect x="147" y="191.96" width="1" height="6.73" fill="#ffa200"/>
<rect x="148" y="191.96" width="1" height="6.73" fill="#fffb00"/>
<rect x="149" y="191.96" width="6" height="6.73" fill="#ffff00"/>
<rect x="155" y="191.96" width="13" height="6.73" fill="#220000"/>
<rect x="168" y="191.96" width="1" height="6.73" fill="#350000"/>
<rect x="169" y="191.96" width="1" height="6.73" fill="#7a0000"/>
<rect x="170" y="191.96" width="1" height="6.73" fill="#c00000"/>
<rect x="171" y="191.96" width="1" height="6.73" fill="#ff0600"/>
<rect x="172" y="191.96" width="1" height="6.73" fill="#ff4b00"/>
<rect x="173" y="191.96" width="1" height="6.73" fill="#ff9100"/>
<rect x="174" y="191.96" width="1" height="6.73" fill="#ffd600"/>
<rect x="175" y="191.96" width="1" height="6.73" fill="#ffff2b"/>
<rect x="176" y="191.96" width="11" height="6.73" fill="#ffff33"/>
<rect x="111" y="198.69" width="61" height="6.73" fill="#0e0000"/>
<rect x="172" y="198.69" width="7" height="6.73" fill="#ff1100"/>
<rect x="179" y="198.69" width="5" height="6.73" fill="#ff7700"/>
<rect x="184" y="198.69" width="3" height="6.73" fill="#0e0000"/>
</g></g>
<rect x="40.00" y="151.60" width="144.40" height="100.90" fill="none" stroke="#1a1a1a" stroke-width="0.8"/>
<line x1="75.80" y1="152.00" x2="75.80" y2="153.60" stroke="#5a5a5a" stroke-width="0.8"/>
<line x1="75.80" y1="252.10" x2="75.80" y2="250.50" stroke="#5a5a5a" stroke-width="0.8"/>
<line x1="111.40" y1="152.00" x2="111.40" y2="153.60" stroke="#5a5a5a" stroke-width="0.8"/>
<line x1="111.40" y1="252.10" x2="111.40" y2="250.50" stroke="#5a5a5a" stroke-width="0.8"/>
<line x1="147.50" y1="152.00" x2="147.50" y2="153.60" stroke="#5a5a5a" stroke-width="0.8"/>
<line x1="147.50" y1="252.10" x2="147.50" y2="250.50" stroke="#5a5a5a" stroke-width="0.8"/>
<line x1="183.60" y1="152.00" x2="183.60" y2="153.60" stroke="#5a5a5a" stroke-width="0.8"/>
<line x1="183.60" y1="252.10" x2="183.60" y2="250.50" stroke="#5a5a5a" stroke-width="0.8"/>
<text x="75.20" y="264.2" font-size="9" fill="#353535" text-anchor="middle">100</text>
<text x="110.80" y="264.2" font-size="9" fill="#353535" text-anchor="middle">200</text>
<text x="146.90" y="264.2" font-size="9" fill="#353535" text-anchor="middle">300</text>
<text x="183.00" y="264.2" font-size="9" fill="#353535" text-anchor="middle">400</text>
<text x="35.70" y="185.07" font-size="9" fill="#353535" text-anchor="end">5</text>
<text x="35.70" y="218.70" font-size="9" fill="#353535" text-anchor="end">10</text>
<text x="35.70" y="252.34" font-size="9" fill="#353535" text-anchor="end">15</text>
<text x="110.40" y="276.0" font-size="10" fill="#353535" text-anchor="middle">Samples</text>
<text transform="translate(18.90,201.65) rotate(-90)" font-size="12" fill="#353535" text-anchor="middle" letter-spacing="0.82" style="font-family:'Liberation Serif',serif"><tspan font-style="italic">&#954;</tspan><tspan dx="2.2"> state number</tspan></text>
<text x="206.7" y="9.7" font-size="12" font-weight="bold" fill="#000">B</text>
<clipPath id="cB"><rect x="232.30" y="12.90" width="144.10" height="99.95"/></clipPath>
<g clip-path="url(#cB)">
<circle cx="240.2" cy="14.1" r="0.85" fill="#d81616"/>
<circle cx="247.3" cy="13.8" r="0.85" fill="#d81616"/>
<circle cx="250.6" cy="14.6" r="0.85" fill="#d81616"/>
<circle cx="277.3" cy="13.4" r="0.85" fill="#d81616"/>
<circle cx="257.9" cy="17.7" r="0.85" fill="#d81616"/>
<circle cx="250.3" cy="19.3" r="0.85" fill="#d81616"/>
<circle cx="259.1" cy="21.2" r="0.85" fill="#d81616"/>
<circle cx="265.0" cy="20.8" r="0.85" fill="#d81616"/>
<circle cx="276.8" cy="18.5" r="0.85" fill="#d81616"/>
<circle cx="278.5" cy="19.1" r="0.85" fill="#d81616"/>
<circle cx="287.4" cy="17.7" r="0.85" fill="#d81616"/>
<circle cx="297.4" cy="17.9" r="0.85" fill="#d81616"/>
<circle cx="284.4" cy="20.5" r="0.85" fill="#d81616"/>
<circle cx="242.6" cy="23.8" r="0.85" fill="#d81616"/>
<circle cx="247.9" cy="24.7" r="0.85" fill="#d81616"/>
<circle cx="268.5" cy="24.0" r="0.85" fill="#d81616"/>
<circle cx="272.6" cy="24.7" r="0.85" fill="#d81616"/>
<circle cx="276.2" cy="25.0" r="0.85" fill="#d81616"/>
<circle cx="275.6" cy="27.1" r="0.85" fill="#d81616"/>
<circle cx="277.3" cy="27.9" r="0.85" fill="#d81616"/>
<circle cx="279.1" cy="28.5" r="0.85" fill="#d81616"/>
<circle cx="280.9" cy="30.6" r="0.85" fill="#d81616"/>
<circle cx="298.5" cy="23.5" r="0.85" fill="#d81616"/>
<circle cx="234.9" cy="28.5" r="0.85" fill="#d81616"/>
<circle cx="242.4" cy="28.7" r="0.85" fill="#d81616"/>
<circle cx="269.7" cy="28.7" r="0.85" fill="#d81616"/>
<circle cx="267.3" cy="30.3" r="0.85" fill="#d81616"/>
<circle cx="264.4" cy="32.3" r="0.85" fill="#d81616"/>
<circle cx="255.6" cy="30.8" r="0.85" fill="#d81616"/>
<circle cx="256.7" cy="31.1" r="0.85" fill="#d81616"/>
<circle cx="259.7" cy="32.6" r="0.85" fill="#d81616"/>
<circle cx="288.5" cy="31.8" r="0.85" fill="#d81616"/>
<circle cx="301.5" cy="31.8" r="0.85" fill="#d81616"/>
<circle cx="302.7" cy="29.1" r="0.85" fill="#d81616"/>
<circle cx="242.6" cy="35.3" r="0.85" fill="#d81616"/>
<circle cx="266.7" cy="34.6" r="0.85" fill="#d81616"/>
<circle cx="275.0" cy="34.1" r="0.85" fill="#d81616"/>
<circle cx="279.7" cy="34.6" r="0.85" fill="#d81616"/>
<circle cx="249.7" cy="37.7" r="0.85" fill="#d81616"/>
<circle cx="253.8" cy="37.3" r="0.85" fill="#d81616"/>
<circle cx="256.1" cy="37.3" r="0.85" fill="#d81616"/>
<circle cx="259.1" cy="37.0" r="0.85" fill="#d81616"/>
<circle cx="271.5" cy="37.7" r="0.85" fill="#d81616"/>
<circle cx="276.2" cy="38.5" r="0.85" fill="#d81616"/>
<circle cx="281.5" cy="36.7" r="0.85" fill="#d81616"/>
<circle cx="283.2" cy="37.7" r="0.85" fill="#d81616"/>
<circle cx="279.1" cy="39.1" r="0.85" fill="#d81616"/>
<circle cx="280.3" cy="39.7" r="0.85" fill="#d81616"/>
<circle cx="254.4" cy="40.9" r="0.85" fill="#d81616"/>
<circle cx="257.3" cy="40.5" r="0.85" fill="#d81616"/>
<circle cx="260.3" cy="40.0" r="0.85" fill="#d81616"/>
<circle cx="275.0" cy="40.9" r="0.85" fill="#d81616"/>
<circle cx="243.8" cy="42.9" r="0.85" fill="#d81616"/>
<circle cx="246.7" cy="42.9" r="0.85" fill="#d81616"/>
<circle cx="243.2" cy="44.4" r="0.85" fill="#d81616"/>
<circle cx="278.5" cy="42.6" r="0.85" fill="#d81616"/>
<circle cx="282.1" cy="43.6" r="0.85" fill="#d81616"/>
<circle cx="299.7" cy="43.8" r="0.85" fill="#d81616"/>
<circle cx="257.3" cy="44.4" r="0.85" fill="#d81616"/>
<circle cx="243.2" cy="45.6" r="0.85" fill="#d81616"/>
<circle cx="248.5" cy="46.8" r="0.85" fill="#d81616"/>
<circle cx="253.2" cy="46.2" r="0.85" fill="#d81616"/>
<circle cx="256.1" cy="47.1" r="0.85" fill="#d81616"/>
<circle cx="257.3" cy="45.6" r="0.85" fill="#d81616"/>
<circle cx="269.7" cy="46.4" r="0.85" fill="#d81616"/>
<circle cx="270.9" cy="47.4" r="0.85" fill="#d81616"/>
<circle cx="277.9" cy="47.1" r="0.85" fill="#d81616"/>
<circle cx="279.7" cy="46.8" r="0.85" fill="#d81616"/>
<circle cx="281.5" cy="47.6" r="0.85" fill="#d81616"/>
<circle cx="284.4" cy="46.4" r="0.85" fill="#d81616"/>
<circle cx="285.6" cy="46.8" r="0.85" fill="#d81616"/>
<circle cx="300.3" cy="47.4" r="0.85" fill="#d81616"/>
<circle cx="302.7" cy="47.9" r="0.85" fill="#d81616"/>
<circle cx="236.7" cy="50.3" r="0.85" fill="#d81616"/>
<circle cx="237.9" cy="50.9" r="0.85" fill="#d81616"/>
<circle cx="240.8" cy="50.3" r="0.85" fill="#d81616"/>
<circle cx="242.0" cy="51.5" r="0.85" fill="#d81616"/>
<circle cx="246.1" cy="52.1" r="0.85" fill="#d81616"/>
<circle cx="247.3" cy="53.5" r="0.85" fill="#d81616"/>
<circle cx="254.4" cy="49.1" r="0.85" fill="#d81616"/>
<circle cx="257.9" cy="50.7" r="0.85" fill="#d81616"/>
<circle cx="261.4" cy="49.1" r="0.85" fill="#d81616"/>
<circle cx="263.2" cy="49.9" r="0.85" fill="#d81616"/>
<circle cx="262.0" cy="50.9" r="0.85" fill="#d81616"/>
<circle cx="263.8" cy="52.1" r="0.85" fill="#d81616"/>
<circle cx="272.6" cy="50.3" r="0.85" fill="#d81616"/>
<circle cx="275.0" cy="51.5" r="0.85" fill="#d81616"/>
<circle cx="283.8" cy="50.3" r="0.85" fill="#d81616"/>
<circle cx="286.8" cy="50.9" r="0.85" fill="#d81616"/>
<circle cx="289.7" cy="49.7" r="0.85" fill="#d81616"/>
<circle cx="290.9" cy="52.1" r="0.85" fill="#d81616"/>
<circle cx="300.9" cy="53.8" r="0.85" fill="#d81616"/>
<circle cx="233.2" cy="53.8" r="0.85" fill="#d81616"/>
<circle cx="233.8" cy="55.0" r="0.85" fill="#d81616"/>
<circle cx="239.1" cy="57.4" r="0.85" fill="#d81616"/>
<circle cx="240.2" cy="59.7" r="0.85" fill="#d81616"/>
<circle cx="241.4" cy="59.1" r="0.85" fill="#d81616"/>
<circle cx="243.8" cy="58.0" r="0.85" fill="#d81616"/>
<circle cx="245.5" cy="56.8" r="0.85" fill="#d81616"/>
<circle cx="252.0" cy="58.0" r="0.85" fill="#d81616"/>
<circle cx="260.3" cy="53.2" r="0.85" fill="#d81616"/>
<circle cx="263.2" cy="56.2" r="0.85" fill="#d81616"/>
<circle cx="264.4" cy="57.4" r="0.85" fill="#d81616"/>
<circle cx="267.3" cy="58.0" r="0.85" fill="#d81616"/>
<circle cx="271.5" cy="56.8" r="0.85" fill="#d81616"/>
<circle cx="272.6" cy="58.5" r="0.85" fill="#d81616"/>
<circle cx="276.8" cy="54.4" r="0.85" fill="#d81616"/>
<circle cx="276.8" cy="56.2" r="0.85" fill="#d81616"/>
<circle cx="283.2" cy="53.2" r="0.85" fill="#d81616"/>
<circle cx="288.5" cy="56.8" r="0.85" fill="#d81616"/>
<circle cx="293.2" cy="56.2" r="0.85" fill="#d81616"/>
<circle cx="295.6" cy="55.6" r="0.85" fill="#d81616"/>
<circle cx="293.2" cy="58.0" r="0.85" fill="#d81616"/>
<circle cx="233.2" cy="62.7" r="0.85" fill="#d81616"/>
<circle cx="234.4" cy="63.3" r="0.85" fill="#d81616"/>
<circle cx="236.1" cy="63.8" r="0.85" fill="#d81616"/>
<circle cx="245.5" cy="62.7" r="0.85" fill="#d81616"/>
<circle cx="253.2" cy="60.3" r="0.85" fill="#d81616"/>
<circle cx="255.6" cy="62.1" r="0.85" fill="#d81616"/>
<circle cx="260.9" cy="61.5" r="0.85" fill="#d81616"/>
<circle cx="262.6" cy="63.8" r="0.85" fill="#d81616"/>
<circle cx="265.0" cy="64.4" r="0.85" fill="#d81616"/>
<circle cx="266.7" cy="65.6" r="0.85" fill="#d81616"/>
<circle cx="269.7" cy="62.1" r="0.85" fill="#d81616"/>
<circle cx="273.2" cy="63.3" r="0.85" fill="#d81616"/>
<circle cx="274.4" cy="64.4" r="0.85" fill="#d81616"/>
<circle cx="273.8" cy="66.2" r="0.85" fill="#d81616"/>
<circle cx="283.8" cy="62.1" r="0.85" fill="#d81616"/>
<circle cx="285.0" cy="60.9" r="0.85" fill="#d81616"/>
<circle cx="287.4" cy="61.5" r="0.85" fill="#d81616"/>
<circle cx="289.7" cy="62.1" r="0.85" fill="#d81616"/>
<circle cx="292.1" cy="62.7" r="0.85" fill="#d81616"/>
<circle cx="294.4" cy="62.4" r="0.85" fill="#d81616"/>
<circle cx="296.2" cy="62.1" r="0.85" fill="#d81616"/>
<circle cx="298.0" cy="59.1" r="0.85" fill="#d81616"/>
<circle cx="302.7" cy="62.7" r="0.85" fill="#d81616"/>
<circle cx="239.7" cy="66.8" r="0.85" fill="#d81616"/>
<circle cx="241.4" cy="68.0" r="0.85" fill="#d81616"/>
<circle cx="243.2" cy="69.1" r="0.85" fill="#d81616"/>
<circle cx="236.7" cy="70.3" r="0.85" fill="#d81616"/>
<circle cx="237.9" cy="72.1" r="0.85" fill="#d81616"/>
<circle cx="239.1" cy="73.3" r="0.85" fill="#d81616"/>
<circle cx="240.2" cy="71.5" r="0.85" fill="#d81616"/>
<circle cx="250.8" cy="65.6" r="0.85" fill="#d81616"/>
<circle cx="251.4" cy="66.8" r="0.85" fill="#d81616"/>
<circle cx="252.6" cy="72.1" r="0.85" fill="#d81616"/>
<circle cx="254.4" cy="71.5" r="0.85" fill="#d81616"/>
<circle cx="260.3" cy="70.3" r="0.85" fill="#d81616"/>
<circle cx="267.3" cy="70.3" r="0.85" fill="#d81616"/>
<circle cx="267.9" cy="71.5" r="0.85" fill="#d81616"/>
<circle cx="280.3" cy="68.0" r="0.85" fill="#d81616"/>
<circle cx="282.6" cy="69.7" r="0.85" fill="#d81616"/>
<circle cx="285.6" cy="69.7" r="0.85" fill="#d81616"/>
<circle cx="287.4" cy="68.0" r="0.85" fill="#d81616"/>
<circle cx="293.2" cy="67.4" r="0.85" fill="#d81616"/>
<circle cx="292.7" cy="69.7" r="0.85" fill="#d81616"/>
<circle cx="293.8" cy="70.3" r="0.85" fill="#d81616"/>
<circle cx="295.0" cy="68.6" r="0.85" fill="#d81616"/>
<circle cx="297.4" cy="69.1" r="0.85" fill="#d81616"/>
<circle cx="298.0" cy="72.1" r="0.85" fill="#d81616"/>
<circle cx="296.2" cy="73.3" r="0.85" fill="#d81616"/>
<circle cx="301.5" cy="72.7" r="0.85" fill="#d81616"/>
<circle cx="237.9" cy="75.6" r="0.85" fill="#d81616"/>
<circle cx="252.6" cy="75.0" r="0.85" fill="#d81616"/>
<circle cx="258.5" cy="76.8" r="0.85" fill="#d81616"/>
<circle cx="266.2" cy="76.2" r="0.85" fill="#d81616"/>
<circle cx="267.3" cy="77.4" r="0.85" fill="#d81616"/>
<circle cx="289.7" cy="74.4" r="0.85" fill="#d81616"/>
<circle cx="292.1" cy="75.9" r="0.85" fill="#d81616"/>
<circle cx="294.4" cy="76.8" r="0.85" fill="#d81616"/>
<circle cx="238.2" cy="78.2" r="0.85" fill="#d81616"/>
<circle cx="244.5" cy="79.2" r="0.85" fill="#d81616"/>
<circle cx="245.8" cy="80.2" r="0.85" fill="#d81616"/>
<circle cx="251.4" cy="78.6" r="0.85" fill="#d81616"/>
<circle cx="265.8" cy="79.9" r="0.85" fill="#d81616"/>
<circle cx="267.0" cy="79.2" r="0.85" fill="#d81616"/>
<circle cx="268.2" cy="78.2" r="0.85" fill="#d81616"/>
<circle cx="237.0" cy="83.2" r="0.85" fill="#d81616"/>
<circle cx="243.9" cy="82.8" r="0.85" fill="#d81616"/>
<circle cx="250.1" cy="83.2" r="0.85" fill="#d81616"/>
<circle cx="249.5" cy="85.8" r="0.85" fill="#d81616"/>
<circle cx="252.0" cy="86.8" r="0.85" fill="#d81616"/>
<circle cx="253.2" cy="85.8" r="0.85" fill="#d81616"/>
<circle cx="263.9" cy="86.1" r="0.85" fill="#d81616"/>
<circle cx="267.0" cy="88.0" r="0.85" fill="#d81616"/>
<circle cx="268.9" cy="87.8" r="0.85" fill="#d81616"/>
<circle cx="266.4" cy="90.5" r="0.85" fill="#d81616"/>
<circle cx="268.9" cy="90.8" r="0.85" fill="#d81616"/>
<circle cx="258.9" cy="89.9" r="0.85" fill="#d81616"/>
<circle cx="247.0" cy="90.8" r="0.85" fill="#d81616"/>
<circle cx="250.1" cy="90.8" r="0.85" fill="#d81616"/>
<circle cx="248.9" cy="93.6" r="0.85" fill="#d81616"/>
<circle cx="249.2" cy="94.9" r="0.85" fill="#d81616"/>
<circle cx="273.2" cy="96.8" r="0.85" fill="#d81616"/>
<circle cx="237.0" cy="99.0" r="0.85" fill="#d81616"/>
<circle cx="239.5" cy="100.8" r="0.85" fill="#d81616"/>
<circle cx="244.5" cy="99.5" r="0.85" fill="#d81616"/>
<circle cx="248.2" cy="100.8" r="0.85" fill="#d81616"/>
<circle cx="253.9" cy="100.2" r="0.85" fill="#d81616"/>
<circle cx="261.4" cy="99.9" r="0.85" fill="#d81616"/>
<circle cx="246.4" cy="108.6" r="0.85" fill="#d81616"/>
<circle cx="254.5" cy="107.8" r="0.85" fill="#d81616"/>
<circle cx="256.4" cy="106.8" r="0.85" fill="#d81616"/>
<circle cx="238.9" cy="111.1" r="0.85" fill="#d81616"/>
<circle cx="287.6" cy="81.1" r="0.85" fill="#d81616"/>
<circle cx="289.5" cy="80.2" r="0.85" fill="#d81616"/>
<circle cx="291.4" cy="80.2" r="0.85" fill="#d81616"/>
<circle cx="294.5" cy="80.5" r="0.85" fill="#d81616"/>
<circle cx="297.0" cy="79.9" r="0.85" fill="#d81616"/>
<circle cx="293.2" cy="78.2" r="0.85" fill="#d81616"/>
<circle cx="287.0" cy="84.9" r="0.85" fill="#d81616"/>
<circle cx="286.4" cy="87.4" r="0.85" fill="#d81616"/>
<circle cx="291.4" cy="84.2" r="0.85" fill="#d81616"/>
<circle cx="293.2" cy="86.1" r="0.85" fill="#d81616"/>
<circle cx="300.1" cy="86.8" r="0.85" fill="#d81616"/>
<circle cx="292.0" cy="91.1" r="0.85" fill="#d81616"/>
<circle cx="296.4" cy="96.1" r="0.85" fill="#d81616"/>
<circle cx="297.0" cy="97.4" r="0.85" fill="#d81616"/>
<circle cx="298.2" cy="95.5" r="0.85" fill="#d81616"/>
<circle cx="300.1" cy="94.2" r="0.85" fill="#d81616"/>
<circle cx="301.4" cy="97.4" r="0.85" fill="#d81616"/>
<circle cx="303.2" cy="98.6" r="0.85" fill="#d81616"/>
<circle cx="286.4" cy="103.0" r="0.85" fill="#d81616"/>
<circle cx="298.9" cy="102.4" r="0.85" fill="#d81616"/>
<circle cx="299.5" cy="104.9" r="0.85" fill="#d81616"/>
<circle cx="287.6" cy="109.9" r="0.85" fill="#d81616"/>
<circle cx="301.4" cy="108.6" r="0.85" fill="#d81616"/>
<circle cx="298.2" cy="111.1" r="0.85" fill="#d81616"/>
<circle cx="302.0" cy="111.8" r="0.85" fill="#d81616"/>
<circle cx="302.0" cy="41.0" r="0.85" fill="#d81616"/>
<circle cx="303.5" cy="43.0" r="0.85" fill="#d81616"/>
<circle cx="304.5" cy="45.5" r="0.85" fill="#d81616"/>
<circle cx="302.5" cy="47.0" r="0.85" fill="#d81616"/>
<circle cx="305.0" cy="48.5" r="0.85" fill="#d81616"/>
<circle cx="306.0" cy="44.0" r="0.85" fill="#d81616"/>
<circle cx="303.0" cy="50.0" r="0.85" fill="#d81616"/>
<circle cx="305.5" cy="51.5" r="0.85" fill="#d81616"/>
<circle cx="301.5" cy="44.5" r="0.85" fill="#d81616"/>
<circle cx="302.4" cy="62.6" r="0.85" fill="#111111"/>
<circle cx="303.0" cy="58.5" r="0.85" fill="#111111"/>
<circle cx="303.1" cy="62.6" r="0.85" fill="#111111"/>
<circle cx="303.9" cy="51.7" r="0.85" fill="#111111"/>
<circle cx="304.6" cy="68.3" r="0.85" fill="#111111"/>
<circle cx="304.8" cy="66.5" r="0.85" fill="#111111"/>
<circle cx="305.5" cy="64.0" r="0.85" fill="#111111"/>
<circle cx="306.0" cy="68.3" r="0.85" fill="#111111"/>
<circle cx="306.4" cy="73.7" r="0.85" fill="#111111"/>
<circle cx="307.2" cy="72.6" r="0.85" fill="#111111"/>
<circle cx="307.7" cy="71.8" r="0.85" fill="#111111"/>
<circle cx="308.0" cy="67.0" r="0.85" fill="#111111"/>
<circle cx="308.5" cy="65.1" r="0.85" fill="#111111"/>
<circle cx="309.3" cy="64.0" r="0.85" fill="#111111"/>
<circle cx="309.9" cy="66.5" r="0.85" fill="#111111"/>
<circle cx="310.1" cy="65.0" r="0.85" fill="#111111"/>
<circle cx="310.3" cy="57.5" r="0.85" fill="#111111"/>
<circle cx="310.7" cy="63.0" r="0.85" fill="#111111"/>
<circle cx="311.1" cy="61.1" r="0.85" fill="#111111"/>
<circle cx="311.2" cy="55.6" r="0.85" fill="#111111"/>
<circle cx="311.7" cy="59.7" r="0.85" fill="#111111"/>
<circle cx="311.9" cy="57.3" r="0.85" fill="#111111"/>
<circle cx="312.2" cy="52.5" r="0.85" fill="#111111"/>
<circle cx="312.6" cy="53.9" r="0.85" fill="#111111"/>
<circle cx="312.6" cy="56.7" r="0.85" fill="#111111"/>
<circle cx="313.2" cy="55.7" r="0.85" fill="#111111"/>
<circle cx="313.3" cy="48.4" r="0.85" fill="#111111"/>
<circle cx="313.7" cy="53.0" r="0.85" fill="#111111"/>
<circle cx="313.9" cy="53.6" r="0.85" fill="#111111"/>
<circle cx="314.2" cy="52.1" r="0.85" fill="#111111"/>
<circle cx="314.4" cy="50.2" r="0.85" fill="#111111"/>
<circle cx="314.6" cy="51.5" r="0.85" fill="#111111"/>
<circle cx="315.1" cy="46.4" r="0.85" fill="#111111"/>
<circle cx="315.5" cy="39.5" r="0.85" fill="#111111"/>
<circle cx="315.6" cy="45.3" r="0.85" fill="#111111"/>
<circle cx="316.0" cy="39.6" r="0.85" fill="#111111"/>
<circle cx="316.4" cy="35.2" r="0.85" fill="#111111"/>
<circle cx="316.5" cy="39.2" r="0.85" fill="#111111"/>
<circle cx="316.7" cy="38.9" r="0.85" fill="#111111"/>
<circle cx="317.2" cy="36.8" r="0.85" fill="#111111"/>
<circle cx="317.4" cy="35.7" r="0.85" fill="#111111"/>
<circle cx="317.6" cy="39.0" r="0.85" fill="#111111"/>
<circle cx="317.8" cy="40.4" r="0.85" fill="#111111"/>
<circle cx="318.1" cy="36.0" r="0.85" fill="#111111"/>
<circle cx="318.7" cy="35.1" r="0.85" fill="#111111"/>
<circle cx="318.9" cy="34.7" r="0.85" fill="#111111"/>
<circle cx="318.9" cy="34.6" r="0.85" fill="#111111"/>
<circle cx="319.4" cy="31.7" r="0.85" fill="#111111"/>
<circle cx="319.6" cy="39.6" r="0.85" fill="#111111"/>
<circle cx="319.8" cy="36.3" r="0.85" fill="#111111"/>
<circle cx="320.4" cy="39.0" r="0.85" fill="#111111"/>
<circle cx="320.6" cy="41.7" r="0.85" fill="#111111"/>
<circle cx="320.8" cy="41.5" r="0.85" fill="#111111"/>
<circle cx="321.3" cy="43.0" r="0.85" fill="#111111"/>
<circle cx="321.6" cy="41.7" r="0.85" fill="#111111"/>
<circle cx="321.7" cy="38.4" r="0.85" fill="#111111"/>
<circle cx="322.1" cy="34.0" r="0.85" fill="#111111"/>
<circle cx="322.3" cy="38.8" r="0.85" fill="#111111"/>
<circle cx="322.6" cy="37.1" r="0.85" fill="#111111"/>
<circle cx="322.9" cy="39.1" r="0.85" fill="#111111"/>
<circle cx="323.0" cy="42.5" r="0.85" fill="#111111"/>
<circle cx="323.3" cy="38.5" r="0.85" fill="#111111"/>
<circle cx="323.5" cy="42.5" r="0.85" fill="#111111"/>
<circle cx="323.9" cy="47.9" r="0.85" fill="#111111"/>
<circle cx="324.2" cy="51.1" r="0.85" fill="#111111"/>
<circle cx="324.5" cy="43.7" r="0.85" fill="#111111"/>
<circle cx="324.8" cy="48.3" r="0.85" fill="#111111"/>
<circle cx="325.1" cy="52.2" r="0.85" fill="#111111"/>
<circle cx="325.4" cy="49.2" r="0.85" fill="#111111"/>
<circle cx="325.7" cy="48.8" r="0.85" fill="#111111"/>
<circle cx="325.9" cy="50.6" r="0.85" fill="#111111"/>
<circle cx="326.4" cy="52.5" r="0.85" fill="#111111"/>
<circle cx="326.8" cy="51.1" r="0.85" fill="#111111"/>
<circle cx="326.9" cy="54.7" r="0.85" fill="#111111"/>
<circle cx="327.1" cy="53.7" r="0.85" fill="#111111"/>
<circle cx="327.6" cy="52.1" r="0.85" fill="#111111"/>
<circle cx="327.9" cy="55.1" r="0.85" fill="#111111"/>
<circle cx="328.0" cy="55.4" r="0.85" fill="#111111"/>
<circle cx="328.2" cy="56.0" r="0.85" fill="#111111"/>
<circle cx="328.5" cy="60.0" r="0.85" fill="#111111"/>
<circle cx="329.0" cy="59.5" r="0.85" fill="#111111"/>
<circle cx="329.3" cy="55.5" r="0.85" fill="#111111"/>
<circle cx="329.3" cy="60.2" r="0.85" fill="#111111"/>
<circle cx="329.8" cy="61.1" r="0.85" fill="#111111"/>
<circle cx="330.0" cy="64.6" r="0.85" fill="#111111"/>
<circle cx="330.3" cy="62.7" r="0.85" fill="#111111"/>
<circle cx="330.6" cy="57.3" r="0.85" fill="#111111"/>
<circle cx="330.8" cy="59.2" r="0.85" fill="#111111"/>
<circle cx="331.3" cy="59.9" r="0.85" fill="#111111"/>
<circle cx="331.6" cy="58.4" r="0.85" fill="#111111"/>
<circle cx="331.6" cy="57.7" r="0.85" fill="#111111"/>
<circle cx="332.1" cy="60.2" r="0.85" fill="#111111"/>
<circle cx="332.5" cy="61.3" r="0.85" fill="#111111"/>
<circle cx="332.5" cy="58.0" r="0.85" fill="#111111"/>
<circle cx="333.1" cy="56.0" r="0.85" fill="#111111"/>
<circle cx="333.4" cy="59.4" r="0.85" fill="#111111"/>
<circle cx="333.7" cy="60.5" r="0.85" fill="#111111"/>
<circle cx="333.9" cy="61.5" r="0.85" fill="#111111"/>
<circle cx="334.2" cy="59.0" r="0.85" fill="#111111"/>
<circle cx="334.6" cy="62.0" r="0.85" fill="#111111"/>
<circle cx="334.7" cy="64.3" r="0.85" fill="#111111"/>
<circle cx="334.9" cy="62.5" r="0.85" fill="#111111"/>
<circle cx="335.3" cy="58.9" r="0.85" fill="#111111"/>
<circle cx="335.7" cy="62.2" r="0.85" fill="#111111"/>
<circle cx="335.8" cy="62.3" r="0.85" fill="#111111"/>
<circle cx="336.3" cy="61.8" r="0.85" fill="#111111"/>
<circle cx="336.3" cy="60.4" r="0.85" fill="#111111"/>
<circle cx="336.9" cy="61.9" r="0.85" fill="#111111"/>
<circle cx="336.8" cy="60.3" r="0.85" fill="#111111"/>
<circle cx="337.3" cy="63.0" r="0.85" fill="#111111"/>
<circle cx="337.6" cy="63.4" r="0.85" fill="#111111"/>
<circle cx="337.8" cy="62.9" r="0.85" fill="#111111"/>
<circle cx="338.0" cy="61.7" r="0.85" fill="#111111"/>
<circle cx="338.6" cy="64.2" r="0.85" fill="#111111"/>
<circle cx="338.8" cy="62.1" r="0.85" fill="#111111"/>
<circle cx="339.1" cy="60.6" r="0.85" fill="#111111"/>
<circle cx="339.1" cy="60.8" r="0.85" fill="#111111"/>
<circle cx="339.6" cy="58.1" r="0.85" fill="#111111"/>
<circle cx="339.7" cy="58.1" r="0.85" fill="#111111"/>
<circle cx="340.0" cy="60.8" r="0.85" fill="#111111"/>
<circle cx="340.5" cy="61.4" r="0.85" fill="#111111"/>
<circle cx="340.6" cy="61.7" r="0.85" fill="#111111"/>
<circle cx="341.1" cy="62.2" r="0.85" fill="#111111"/>
<circle cx="341.2" cy="60.2" r="0.85" fill="#111111"/>
<circle cx="341.6" cy="60.9" r="0.85" fill="#111111"/>
<circle cx="341.8" cy="62.3" r="0.85" fill="#111111"/>
<circle cx="342.1" cy="60.2" r="0.85" fill="#111111"/>
<circle cx="342.6" cy="60.3" r="0.85" fill="#111111"/>
<circle cx="342.8" cy="62.7" r="0.85" fill="#111111"/>
<circle cx="343.0" cy="62.3" r="0.85" fill="#111111"/>
<circle cx="343.3" cy="63.1" r="0.85" fill="#111111"/>
<circle cx="343.7" cy="56.3" r="0.85" fill="#111111"/>
<circle cx="344.0" cy="62.0" r="0.85" fill="#111111"/>
<circle cx="344.3" cy="60.7" r="0.85" fill="#111111"/>
<circle cx="344.4" cy="57.7" r="0.85" fill="#111111"/>
<circle cx="344.7" cy="56.0" r="0.85" fill="#111111"/>
<circle cx="345.1" cy="53.1" r="0.85" fill="#111111"/>
<circle cx="345.2" cy="55.5" r="0.85" fill="#111111"/>
<circle cx="345.8" cy="57.9" r="0.85" fill="#111111"/>
<circle cx="345.8" cy="61.3" r="0.85" fill="#111111"/>
<circle cx="346.2" cy="63.1" r="0.85" fill="#111111"/>
<circle cx="346.6" cy="64.5" r="0.85" fill="#111111"/>
<circle cx="346.7" cy="63.4" r="0.85" fill="#111111"/>
<circle cx="347.0" cy="58.2" r="0.85" fill="#111111"/>
<circle cx="347.4" cy="57.4" r="0.85" fill="#111111"/>
<circle cx="347.5" cy="58.1" r="0.85" fill="#111111"/>
<circle cx="348.0" cy="55.2" r="0.85" fill="#111111"/>
<circle cx="348.4" cy="58.1" r="0.85" fill="#111111"/>
<circle cx="348.4" cy="59.9" r="0.85" fill="#111111"/>
<circle cx="348.9" cy="63.2" r="0.85" fill="#111111"/>
<circle cx="349.2" cy="60.7" r="0.85" fill="#111111"/>
<circle cx="349.4" cy="59.8" r="0.85" fill="#111111"/>
<circle cx="349.6" cy="59.0" r="0.85" fill="#111111"/>
<circle cx="350.1" cy="62.0" r="0.85" fill="#111111"/>
<circle cx="350.2" cy="59.0" r="0.85" fill="#111111"/>
<circle cx="350.7" cy="58.6" r="0.85" fill="#111111"/>
<circle cx="350.9" cy="58.9" r="0.85" fill="#111111"/>
<circle cx="351.2" cy="63.0" r="0.85" fill="#111111"/>
<circle cx="351.5" cy="62.3" r="0.85" fill="#111111"/>
<circle cx="351.5" cy="64.2" r="0.85" fill="#111111"/>
<circle cx="352.0" cy="64.7" r="0.85" fill="#111111"/>
<circle cx="352.1" cy="67.1" r="0.85" fill="#111111"/>
<circle cx="352.8" cy="68.2" r="0.85" fill="#111111"/>
<circle cx="353.0" cy="67.7" r="0.85" fill="#111111"/>
<circle cx="353.0" cy="64.7" r="0.85" fill="#111111"/>
<circle cx="353.3" cy="63.8" r="0.85" fill="#111111"/>
<circle cx="353.5" cy="63.3" r="0.85" fill="#111111"/>
<circle cx="354.1" cy="63.2" r="0.85" fill="#111111"/>
<circle cx="354.2" cy="62.1" r="0.85" fill="#111111"/>
<circle cx="354.5" cy="63.5" r="0.85" fill="#111111"/>
<circle cx="355.1" cy="64.6" r="0.85" fill="#111111"/>
<circle cx="355.2" cy="61.7" r="0.85" fill="#111111"/>
<circle cx="355.5" cy="63.8" r="0.85" fill="#111111"/>
<circle cx="355.6" cy="61.7" r="0.85" fill="#111111"/>
<circle cx="356.2" cy="62.3" r="0.85" fill="#111111"/>
<circle cx="356.5" cy="63.2" r="0.85" fill="#111111"/>
<circle cx="356.7" cy="65.1" r="0.85" fill="#111111"/>
<circle cx="356.9" cy="67.6" r="0.85" fill="#111111"/>
<circle cx="357.0" cy="64.6" r="0.85" fill="#111111"/>
<circle cx="357.6" cy="62.0" r="0.85" fill="#111111"/>
<circle cx="357.8" cy="61.2" r="0.85" fill="#111111"/>
<circle cx="358.1" cy="60.7" r="0.85" fill="#111111"/>
<circle cx="358.5" cy="58.2" r="0.85" fill="#111111"/>
<circle cx="358.8" cy="61.1" r="0.85" fill="#111111"/>
<circle cx="359.1" cy="61.3" r="0.85" fill="#111111"/>
<circle cx="359.1" cy="63.2" r="0.85" fill="#111111"/>
<circle cx="359.4" cy="61.8" r="0.85" fill="#111111"/>
<circle cx="359.7" cy="59.7" r="0.85" fill="#111111"/>
<circle cx="359.9" cy="64.0" r="0.85" fill="#111111"/>
<circle cx="360.4" cy="63.4" r="0.85" fill="#111111"/>
<circle cx="360.8" cy="64.2" r="0.85" fill="#111111"/>
<circle cx="360.9" cy="64.7" r="0.85" fill="#111111"/>
<circle cx="361.1" cy="63.8" r="0.85" fill="#111111"/>
<circle cx="361.5" cy="66.9" r="0.85" fill="#111111"/>
<circle cx="362.0" cy="63.5" r="0.85" fill="#111111"/>
<circle cx="362.1" cy="60.1" r="0.85" fill="#111111"/>
<circle cx="362.3" cy="61.1" r="0.85" fill="#111111"/>
<circle cx="362.7" cy="65.9" r="0.85" fill="#111111"/>
<circle cx="363.1" cy="64.9" r="0.85" fill="#111111"/>
<circle cx="363.1" cy="62.3" r="0.85" fill="#111111"/>
<circle cx="363.4" cy="60.0" r="0.85" fill="#111111"/>
<circle cx="363.9" cy="63.6" r="0.85" fill="#111111"/>
<circle cx="364.0" cy="65.4" r="0.85" fill="#111111"/>
<circle cx="364.5" cy="63.8" r="0.85" fill="#111111"/>
<circle cx="364.8" cy="63.8" r="0.85" fill="#111111"/>
<circle cx="365.1" cy="68.6" r="0.85" fill="#111111"/>
<circle cx="365.1" cy="69.7" r="0.85" fill="#111111"/>
<circle cx="365.7" cy="66.7" r="0.85" fill="#111111"/>
<circle cx="366.0" cy="66.6" r="0.85" fill="#111111"/>
<circle cx="366.2" cy="66.0" r="0.85" fill="#111111"/>
<circle cx="366.6" cy="66.2" r="0.85" fill="#111111"/>
<circle cx="366.6" cy="64.9" r="0.85" fill="#111111"/>
<circle cx="367.1" cy="62.0" r="0.85" fill="#111111"/>
<circle cx="367.3" cy="58.9" r="0.85" fill="#111111"/>
<circle cx="367.7" cy="61.4" r="0.85" fill="#111111"/>
<circle cx="368.0" cy="64.7" r="0.85" fill="#111111"/>
<circle cx="368.1" cy="63.3" r="0.85" fill="#111111"/>
<circle cx="368.3" cy="67.0" r="0.85" fill="#111111"/>
<circle cx="368.9" cy="65.1" r="0.85" fill="#111111"/>
<circle cx="368.9" cy="63.1" r="0.85" fill="#111111"/>
<circle cx="369.4" cy="62.8" r="0.85" fill="#111111"/>
<circle cx="369.5" cy="60.2" r="0.85" fill="#111111"/>
<circle cx="370.0" cy="62.5" r="0.85" fill="#111111"/>
<circle cx="370.1" cy="59.4" r="0.85" fill="#111111"/>
<circle cx="370.5" cy="62.7" r="0.85" fill="#111111"/>
<circle cx="370.6" cy="60.0" r="0.85" fill="#111111"/>
<circle cx="371.1" cy="60.7" r="0.85" fill="#111111"/>
<circle cx="371.3" cy="61.1" r="0.85" fill="#111111"/>
<circle cx="371.4" cy="59.9" r="0.85" fill="#111111"/>
<circle cx="372.0" cy="65.2" r="0.85" fill="#111111"/>
<circle cx="372.2" cy="62.9" r="0.85" fill="#111111"/>
<circle cx="372.6" cy="62.5" r="0.85" fill="#111111"/>
<circle cx="372.9" cy="61.7" r="0.85" fill="#111111"/>
<circle cx="373.1" cy="64.6" r="0.85" fill="#111111"/>
<circle cx="373.3" cy="62.1" r="0.85" fill="#111111"/>
<circle cx="373.7" cy="58.9" r="0.85" fill="#111111"/>
<circle cx="374.1" cy="58.3" r="0.85" fill="#111111"/>
<circle cx="374.3" cy="52.9" r="0.85" fill="#111111"/>
<circle cx="374.3" cy="56.6" r="0.85" fill="#111111"/>
<circle cx="374.9" cy="57.0" r="0.85" fill="#111111"/>
<circle cx="374.9" cy="54.3" r="0.85" fill="#111111"/>
<circle cx="375.4" cy="57.3" r="0.85" fill="#111111"/>
<circle cx="375.5" cy="55.6" r="0.85" fill="#111111"/>
<circle cx="375.9" cy="56.5" r="0.85" fill="#111111"/>
<circle cx="376.2" cy="56.7" r="0.85" fill="#111111"/>
<circle cx="309.8" cy="16.7" r="0.85" fill="#111111"/>
<circle cx="319.2" cy="19.9" r="0.85" fill="#111111"/>
<circle cx="307.4" cy="25.9" r="0.85" fill="#111111"/>
<circle cx="308.0" cy="31.3" r="0.85" fill="#111111"/>
<circle cx="309.0" cy="33.0" r="0.85" fill="#111111"/>
<circle cx="310.0" cy="36.5" r="0.85" fill="#111111"/>
<circle cx="320.8" cy="32.0" r="0.85" fill="#111111"/>
<circle cx="320.5" cy="34.2" r="0.85" fill="#111111"/>
<circle cx="321.0" cy="36.5" r="0.85" fill="#111111"/>
<circle cx="323.0" cy="38.0" r="0.85" fill="#111111"/>
<circle cx="318.6" cy="39.7" r="0.85" fill="#111111"/>
<circle cx="317.5" cy="40.6" r="0.85" fill="#111111"/>
<circle cx="320.5" cy="42.5" r="0.85" fill="#111111"/>
<circle cx="318.0" cy="44.5" r="0.85" fill="#111111"/>
<circle cx="321.0" cy="44.5" r="0.85" fill="#111111"/>
<circle cx="323.0" cy="44.5" r="0.85" fill="#111111"/>
<circle cx="349.0" cy="47.5" r="0.85" fill="#111111"/>
<circle cx="357.0" cy="72.0" r="0.85" fill="#111111"/>
<circle cx="360.0" cy="68.6" r="0.85" fill="#111111"/>
<circle cx="364.0" cy="76.5" r="0.85" fill="#111111"/>
<circle cx="311.0" cy="80.5" r="0.85" fill="#111111"/>
<circle cx="308.5" cy="88.6" r="0.85" fill="#111111"/>
<circle cx="310.6" cy="91.4" r="0.85" fill="#111111"/>
<circle cx="309.0" cy="106.8" r="0.85" fill="#111111"/>
<circle cx="319.6" cy="109.0" r="0.85" fill="#111111"/>
<circle cx="308.0" cy="70.0" r="0.85" fill="#111111"/>
<circle cx="309.0" cy="74.0" r="0.85" fill="#111111"/>
<circle cx="311.0" cy="68.0" r="0.85" fill="#111111"/>
<circle cx="312.0" cy="65.0" r="0.85" fill="#111111"/>
</g>
<rect x="232.30" y="12.90" width="144.10" height="99.95" fill="none" stroke="#8a8a8a" stroke-width="1"/>
<line x1="258.10" y1="112.85" x2="258.10" y2="110.65" stroke="#8a8a8a" stroke-width="0.9"/>
<line x1="258.10" y1="12.90" x2="258.10" y2="15.10" stroke="#8a8a8a" stroke-width="0.9"/>
<line x1="284.40" y1="112.85" x2="284.40" y2="110.65" stroke="#8a8a8a" stroke-width="0.9"/>
<line x1="284.40" y1="12.90" x2="284.40" y2="15.10" stroke="#8a8a8a" stroke-width="0.9"/>
<line x1="310.40" y1="112.85" x2="310.40" y2="110.65" stroke="#8a8a8a" stroke-width="0.9"/>
<line x1="310.40" y1="12.90" x2="310.40" y2="15.10" stroke="#8a8a8a" stroke-width="0.9"/>
<line x1="337.10" y1="112.85" x2="337.10" y2="110.65" stroke="#8a8a8a" stroke-width="0.9"/>
<line x1="337.10" y1="12.90" x2="337.10" y2="15.10" stroke="#8a8a8a" stroke-width="0.9"/>
<line x1="363.50" y1="112.85" x2="363.50" y2="110.65" stroke="#8a8a8a" stroke-width="0.9"/>
<line x1="363.50" y1="12.90" x2="363.50" y2="15.10" stroke="#8a8a8a" stroke-width="0.9"/>
<line x1="232.30" y1="38.10" x2="233.80" y2="38.10" stroke="#8a8a8a" stroke-width="0.8"/>
<line x1="376.40" y1="38.10" x2="374.90" y2="38.10" stroke="#8a8a8a" stroke-width="0.8"/>
<line x1="232.30" y1="63.00" x2="233.80" y2="63.00" stroke="#8a8a8a" stroke-width="0.8"/>
<line x1="376.40" y1="63.00" x2="374.90" y2="63.00" stroke="#8a8a8a" stroke-width="0.8"/>
<line x1="232.30" y1="88.00" x2="233.80" y2="88.00" stroke="#8a8a8a" stroke-width="0.8"/>
<line x1="376.40" y1="88.00" x2="374.90" y2="88.00" stroke="#8a8a8a" stroke-width="0.8"/>
<text x="257.50" y="124.6" font-size="9" fill="#353535" text-anchor="middle">100</text>
<text x="283.80" y="124.6" font-size="9" fill="#353535" text-anchor="middle">200</text>
<text x="309.80" y="124.6" font-size="9" fill="#353535" text-anchor="middle">300</text>
<text x="336.50" y="124.6" font-size="9" fill="#353535" text-anchor="middle">400</text>
<text x="362.90" y="124.6" font-size="9" fill="#353535" text-anchor="middle">500</text>
<text x="226.60" y="40.9" font-size="9" fill="#353535" text-anchor="end"><tspan style="font-family:'Liberation Serif',serif" font-size="8.6">&#960;</tspan>/2</text>
<text x="227.70" y="66.2" font-size="9" fill="#353535" text-anchor="end">0</text>
<text x="226.60" y="90.9" font-size="9" fill="#353535" text-anchor="end">-<tspan style="font-family:'Liberation Serif',serif" font-size="8.6">&#960;</tspan>/2</text>
<text x="302.55" y="136.7" font-size="10" fill="#353535" text-anchor="middle">Samples</text>
<path d="M198.90,62.60 m-5.3,0 a5.3,4.6 0 1,0 10.6,0 a5.3,4.6 0 1,0 -10.6,0 z M198.90,62.60 m-4.5,0 a4.5,3.5 0 1,1 9.0,0 a4.5,3.5 0 1,1 -9.0,0 z" fill="#1e1e1e" fill-rule="evenodd"/>
<rect x="198.40" y="60.20" width="1.0" height="4.8" fill="#1e1e1e"/>
<clipPath id="hB"><rect x="232.30" y="151.60" width="144.10" height="100.90"/></clipPath>
<g clip-path="url(#hB)"><g filter="url(#bl)" shape-rendering="crispEdges">
<rect x="230.00" y="149.60" width="149.00" height="104.90" fill="#0b0103"/>
<rect x="230" y="149.60" width="4" height="8.73" fill="#ff4d00"/>
<rect x="234" y="149.60" width="2" height="8.73" fill="#900000"/>
<rect x="236" y="149.60" width="4" height="8.73" fill="#ff4d00"/>
<rect x="240" y="149.60" width="2" height="8.73" fill="#c40000"/>
<rect x="242" y="149.60" width="1" height="8.73" fill="#e30000"/>
<rect x="243" y="149.60" width="2" height="8.73" fill="#bb0000"/>
<rect x="245" y="149.60" width="2" height="8.73" fill="#ff4d00"/>
<rect x="247" y="149.60" width="1" height="8.73" fill="#d00000"/>
<rect x="248" y="149.60" width="2" height="8.73" fill="#b60000"/>
<rect x="250" y="149.60" width="1" height="8.73" fill="#7a0000"/>
<rect x="251" y="149.60" width="2" height="8.73" fill="#f00000"/>
<rect x="253" y="149.60" width="2" height="8.73" fill="#ab0000"/>
<rect x="255" y="149.60" width="2" height="8.73" fill="#aa0000"/>
<rect x="257" y="149.60" width="1" height="8.73" fill="#5c0000"/>
<rect x="258" y="149.60" width="2" height="8.73" fill="#ff4d00"/>
<rect x="260" y="149.60" width="2" height="8.73" fill="#b20000"/>
<rect x="262" y="149.60" width="2" height="8.73" fill="#1d0000"/>
<rect x="264" y="149.60" width="2" height="8.73" fill="#b10000"/>
<rect x="266" y="149.60" width="2" height="8.73" fill="#ff4d00"/>
<rect x="268" y="149.60" width="1" height="8.73" fill="#b30000"/>
<rect x="269" y="149.60" width="1" height="8.73" fill="#ff4d00"/>
<rect x="270" y="149.60" width="2" height="8.73" fill="#190000"/>
<rect x="272" y="149.60" width="4" height="8.73" fill="#ff4d00"/>
<rect x="276" y="149.60" width="1" height="8.73" fill="#6d0000"/>
<rect x="277" y="149.60" width="1" height="8.73" fill="#9a0000"/>
<rect x="278" y="149.60" width="6" height="8.73" fill="#4b0000"/>
<rect x="284" y="149.60" width="2" height="8.73" fill="#710000"/>
<rect x="286" y="149.60" width="1" height="8.73" fill="#b50000"/>
<rect x="287" y="149.60" width="3" height="8.73" fill="#d80000"/>
<rect x="290" y="149.60" width="1" height="8.73" fill="#a10000"/>
<rect x="291" y="149.60" width="4" height="8.73" fill="#170000"/>
<rect x="295" y="149.60" width="1" height="8.73" fill="#9e0000"/>
<rect x="296" y="149.60" width="2" height="8.73" fill="#960000"/>
<rect x="298" y="149.60" width="2" height="8.73" fill="#3a0000"/>
<rect x="300" y="149.60" width="2" height="8.73" fill="#c40000"/>
<rect x="302" y="149.60" width="3" height="8.73" fill="#ff4d00"/>
<rect x="305" y="149.60" width="1" height="8.73" fill="#b00000"/>
<rect x="306" y="149.60" width="5" height="8.73" fill="#ff5500"/>
<rect x="312" y="149.60" width="6" height="8.73" fill="#660000"/>
<rect x="318" y="149.60" width="1" height="8.73" fill="#ee0000"/>
<rect x="230" y="158.33" width="4" height="6.73" fill="#ff2d00"/>
<rect x="234" y="158.33" width="2" height="6.73" fill="#f10000"/>
<rect x="236" y="158.33" width="4" height="6.73" fill="#ff2d00"/>
<rect x="240" y="158.33" width="2" height="6.73" fill="#ff0f00"/>
<rect x="242" y="158.33" width="1" height="6.73" fill="#fb0000"/>
<rect x="243" y="158.33" width="2" height="6.73" fill="#ff0b00"/>
<rect x="245" y="158.33" width="2" height="6.73" fill="#ff2d00"/>
<rect x="247" y="158.33" width="1" height="6.73" fill="#ff0d00"/>
<rect x="248" y="158.33" width="2" height="6.73" fill="#ff1100"/>
<rect x="250" y="158.33" width="1" height="6.73" fill="#e20000"/>
<rect x="251" y="158.33" width="2" height="6.73" fill="#ff1a00"/>
<rect x="253" y="158.33" width="2" height="6.73" fill="#ff1100"/>
<rect x="255" y="158.33" width="2" height="6.73" fill="#ff0700"/>
<rect x="257" y="158.33" width="1" height="6.73" fill="#c30000"/>
<rect x="258" y="158.33" width="2" height="6.73" fill="#ff2d00"/>
<rect x="260" y="158.33" width="2" height="6.73" fill="#d70000"/>
<rect x="262" y="158.33" width="2" height="6.73" fill="#660000"/>
<rect x="264" y="158.33" width="2" height="6.73" fill="#ff0400"/>
<rect x="266" y="158.33" width="2" height="6.73" fill="#ff2d00"/>
<rect x="268" y="158.33" width="1" height="6.73" fill="#ff1d00"/>
<rect x="269" y="158.33" width="1" height="6.73" fill="#ff2d00"/>
<rect x="270" y="158.33" width="2" height="6.73" fill="#630000"/>
<rect x="272" y="158.33" width="4" height="6.73" fill="#ff2d00"/>
<rect x="276" y="158.33" width="1" height="6.73" fill="#c40000"/>
<rect x="277" y="158.33" width="1" height="6.73" fill="#ff0000"/>
<rect x="278" y="158.33" width="6" height="6.73" fill="#b60000"/>
<rect x="284" y="158.33" width="2" height="6.73" fill="#ca0000"/>
<rect x="286" y="158.33" width="1" height="6.73" fill="#ff1800"/>
<rect x="287" y="158.33" width="3" height="6.73" fill="#ff0d00"/>
<rect x="290" y="158.33" width="1" height="6.73" fill="#f20000"/>
<rect x="291" y="158.33" width="4" height="6.73" fill="#5d0000"/>
<rect x="295" y="158.33" width="1" height="6.73" fill="#ee0000"/>
<rect x="296" y="158.33" width="2" height="6.73" fill="#ff1100"/>
<rect x="298" y="158.33" width="2" height="6.73" fill="#a00000"/>
<rect x="300" y="158.33" width="2" height="6.73" fill="#ff0000"/>
<rect x="302" y="158.33" width="3" height="6.73" fill="#ff2d00"/>
<rect x="305" y="158.33" width="1" height="6.73" fill="#e30000"/>
<rect x="306" y="158.33" width="1" height="6.73" fill="#ff0d00"/>
<rect x="307" y="158.33" width="2" height="6.73" fill="#ff0200"/>
<rect x="309" y="158.33" width="2" height="6.73" fill="#ff1f00"/>
<rect x="312" y="158.33" width="6" height="6.73" fill="#660000"/>
<rect x="318" y="158.33" width="1" height="6.73" fill="#ee0000"/>
<rect x="230" y="165.05" width="4" height="6.73" fill="#a30000"/>
<rect x="234" y="165.05" width="2" height="6.73" fill="#f20000"/>
<rect x="236" y="165.05" width="4" height="6.73" fill="#a30000"/>
<rect x="240" y="165.05" width="2" height="6.73" fill="#df0000"/>
<rect x="242" y="165.05" width="1" height="6.73" fill="#a70000"/>
<rect x="243" y="165.05" width="2" height="6.73" fill="#e30000"/>
<rect x="245" y="165.05" width="2" height="6.73" fill="#a30000"/>
<rect x="247" y="165.05" width="1" height="6.73" fill="#cf0000"/>
<rect x="248" y="165.05" width="2" height="6.73" fill="#f40000"/>
<rect x="250" y="165.05" width="1" height="6.73" fill="#fb0000"/>
<rect x="251" y="165.05" width="2" height="6.73" fill="#c50000"/>
<rect x="253" y="165.05" width="2" height="6.73" fill="#ff0400"/>
<rect x="255" y="165.05" width="2" height="6.73" fill="#f30000"/>
<rect x="257" y="165.05" width="1" height="6.73" fill="#f70000"/>
<rect x="258" y="165.05" width="2" height="6.73" fill="#a30000"/>
<rect x="260" y="165.05" width="2" height="6.73" fill="#9b0000"/>
<rect x="262" y="165.05" width="2" height="6.73" fill="#c40000"/>
<rect x="264" y="165.05" width="2" height="6.73" fill="#e40000"/>
<rect x="266" y="165.05" width="2" height="6.73" fill="#a30000"/>
<rect x="268" y="165.05" width="1" height="6.73" fill="#ff1000"/>
<rect x="269" y="165.05" width="1" height="6.73" fill="#a30000"/>
<rect x="270" y="165.05" width="2" height="6.73" fill="#d60000"/>
<rect x="272" y="165.05" width="4" height="6.73" fill="#a30000"/>
<rect x="276" y="165.05" width="1" height="6.73" fill="#d40000"/>
<rect x="277" y="165.05" width="1" height="6.73" fill="#ff0000"/>
<rect x="278" y="165.05" width="6" height="6.73" fill="#f50000"/>
<rect x="284" y="165.05" width="2" height="6.73" fill="#d70000"/>
<rect x="286" y="165.05" width="1" height="6.73" fill="#ff0300"/>
<rect x="287" y="165.05" width="3" height="6.73" fill="#c70000"/>
<rect x="290" y="165.05" width="1" height="6.73" fill="#db0000"/>
<rect x="291" y="165.05" width="4" height="6.73" fill="#d60000"/>
<rect x="295" y="165.05" width="1" height="6.73" fill="#d70000"/>
<rect x="296" y="165.05" width="2" height="6.73" fill="#ff2900"/>
<rect x="298" y="165.05" width="2" height="6.73" fill="#f20000"/>
<rect x="300" y="165.05" width="2" height="6.73" fill="#c60000"/>
<rect x="302" y="165.05" width="3" height="6.73" fill="#a30000"/>
<rect x="305" y="165.05" width="1" height="6.73" fill="#b00000"/>
<rect x="306" y="165.05" width="1" height="6.73" fill="#ff2200"/>
<rect x="307" y="165.05" width="2" height="6.73" fill="#e60000"/>
<rect x="309" y="165.05" width="2" height="6.73" fill="#e10000"/>
<rect x="312" y="165.05" width="6" height="6.73" fill="#660000"/>
<rect x="318" y="165.05" width="1" height="6.73" fill="#ee0000"/>
<rect x="230" y="171.78" width="4" height="6.73" fill="#350000"/>
<rect x="234" y="171.78" width="2" height="6.73" fill="#920000"/>
<rect x="236" y="171.78" width="4" height="6.73" fill="#350000"/>
<rect x="240" y="171.78" width="2" height="6.73" fill="#6f0000"/>
<rect x="242" y="171.78" width="1" height="6.73" fill="#430000"/>
<rect x="243" y="171.78" width="2" height="6.73" fill="#740000"/>
<rect x="245" y="171.78" width="2" height="6.73" fill="#350000"/>
<rect x="247" y="171.78" width="1" height="6.73" fill="#600000"/>
<rect x="248" y="171.78" width="2" height="6.73" fill="#840000"/>
<rect x="250" y="171.78" width="1" height="6.73" fill="#a70000"/>
<rect x="251" y="171.78" width="2" height="6.73" fill="#530000"/>
<rect x="253" y="171.78" width="2" height="6.73" fill="#950000"/>
<rect x="255" y="171.78" width="2" height="6.73" fill="#870000"/>
<rect x="257" y="171.78" width="1" height="6.73" fill="#bc0000"/>
<rect x="258" y="171.78" width="2" height="6.73" fill="#350000"/>
<rect x="260" y="171.78" width="2" height="6.73" fill="#440000"/>
<rect x="262" y="171.78" width="2" height="6.73" fill="#d00000"/>
<rect x="264" y="171.78" width="2" height="6.73" fill="#780000"/>
<rect x="266" y="171.78" width="2" height="6.73" fill="#350000"/>
<rect x="268" y="171.78" width="1" height="6.73" fill="#9b0000"/>
<rect x="269" y="171.78" width="1" height="6.73" fill="#350000"/>
<rect x="270" y="171.78" width="2" height="6.73" fill="#ff0000"/>
<rect x="272" y="171.78" width="4" height="6.73" fill="#350000"/>
<rect x="276" y="171.78" width="1" height="6.73" fill="#8a0000"/>
<rect x="277" y="171.78" width="1" height="6.73" fill="#990000"/>
<rect x="278" y="171.78" width="6" height="6.73" fill="#b60000"/>
<rect x="284" y="171.78" width="2" height="6.73" fill="#8a0000"/>
<rect x="286" y="171.78" width="1" height="6.73" fill="#8f0000"/>
<rect x="287" y="171.78" width="3" height="6.73" fill="#590000"/>
<rect x="290" y="171.78" width="1" height="6.73" fill="#760000"/>
<rect x="291" y="171.78" width="4" height="6.73" fill="#ff1000"/>
<rect x="295" y="171.78" width="1" height="6.73" fill="#750000"/>
<rect x="296" y="171.78" width="2" height="6.73" fill="#c10000"/>
<rect x="298" y="171.78" width="2" height="6.73" fill="#cb0000"/>
<rect x="300" y="171.78" width="2" height="6.73" fill="#5d0000"/>
<rect x="302" y="171.78" width="3" height="6.73" fill="#350000"/>
<rect x="305" y="171.78" width="1" height="6.73" fill="#520000"/>
<rect x="306" y="171.78" width="1" height="6.73" fill="#ba0000"/>
<rect x="307" y="171.78" width="2" height="6.73" fill="#7c0000"/>
<rect x="309" y="171.78" width="5" height="6.73" fill="#cc0000"/>
<rect x="318" y="171.78" width="1" height="6.73" fill="#ee0000"/>
<rect x="234" y="178.51" width="2" height="6.73" fill="#350000"/>
<rect x="240" y="178.51" width="2" height="6.73" fill="#210000"/>
<rect x="242" y="178.51" width="1" height="6.73" fill="#100000"/>
<rect x="243" y="178.51" width="2" height="6.73" fill="#240000"/>
<rect x="247" y="178.51" width="1" height="6.73" fill="#1b0000"/>
<rect x="248" y="178.51" width="2" height="6.73" fill="#2b0000"/>
<rect x="250" y="178.51" width="1" height="6.73" fill="#430000"/>
<rect x="251" y="178.51" width="2" height="6.73" fill="#150000"/>
<rect x="253" y="178.51" width="2" height="6.73" fill="#330000"/>
<rect x="255" y="178.51" width="2" height="6.73" fill="#2d0000"/>
<rect x="257" y="178.51" width="1" height="6.73" fill="#560000"/>
<rect x="260" y="178.51" width="2" height="6.73" fill="#120000"/>
<rect x="262" y="178.51" width="2" height="6.73" fill="#7a0000"/>
<rect x="264" y="178.51" width="2" height="6.73" fill="#260000"/>
<rect x="268" y="178.51" width="1" height="6.73" fill="#350000"/>
<rect x="270" y="178.51" width="2" height="6.73" fill="#a90000"/>
<rect x="276" y="178.51" width="1" height="6.73" fill="#360000"/>
<rect x="277" y="178.51" width="1" height="6.73" fill="#370000"/>
<rect x="278" y="178.51" width="6" height="6.73" fill="#4b0000"/>
<rect x="284" y="178.51" width="2" height="6.73" fill="#350000"/>
<rect x="286" y="178.51" width="1" height="6.73" fill="#300000"/>
<rect x="287" y="178.51" width="3" height="6.73" fill="#180000"/>
<rect x="290" y="178.51" width="1" height="6.73" fill="#260000"/>
<rect x="291" y="178.51" width="4" height="6.73" fill="#be0000"/>
<rect x="295" y="178.51" width="1" height="6.73" fill="#260000"/>
<rect x="296" y="178.51" width="2" height="6.73" fill="#4c0000"/>
<rect x="298" y="178.51" width="2" height="6.73" fill="#5e0000"/>
<rect x="300" y="178.51" width="2" height="6.73" fill="#1a0000"/>
<rect x="305" y="178.51" width="1" height="6.73" fill="#170000"/>
<rect x="306" y="178.51" width="1" height="6.73" fill="#480000"/>
<rect x="307" y="178.51" width="2" height="6.73" fill="#280000"/>
<rect x="309" y="178.51" width="1" height="6.73" fill="#1e0000"/>
<rect x="310" y="178.51" width="6" height="6.73" fill="#da0000"/>
<rect x="230" y="185.23" width="4" height="6.73" fill="#010000"/>
<rect x="234" y="185.23" width="2" height="6.73" fill="#0c0000"/>
<rect x="236" y="185.23" width="4" height="6.73" fill="#010000"/>
<rect x="240" y="185.23" width="2" height="6.73" fill="#060000"/>
<rect x="242" y="185.23" width="1" height="6.73" fill="#020000"/>
<rect x="243" y="185.23" width="2" height="6.73" fill="#070000"/>
<rect x="245" y="185.23" width="2" height="6.73" fill="#010000"/>
<rect x="247" y="185.23" width="1" height="6.73" fill="#040000"/>
<rect x="248" y="185.23" width="2" height="6.73" fill="#080000"/>
<rect x="250" y="185.23" width="1" height="6.73" fill="#100000"/>
<rect x="251" y="185.23" width="2" height="6.73" fill="#030000"/>
<rect x="253" y="185.23" width="2" height="6.73" fill="#0b0000"/>
<rect x="255" y="185.23" width="2" height="6.73" fill="#090000"/>
<rect x="257" y="185.23" width="1" height="6.73" fill="#180000"/>
<rect x="258" y="185.23" width="2" height="6.73" fill="#010000"/>
<rect x="260" y="185.23" width="2" height="6.73" fill="#030000"/>
<rect x="262" y="185.23" width="2" height="6.73" fill="#280000"/>
<rect x="264" y="185.23" width="2" height="6.73" fill="#070000"/>
<rect x="266" y="185.23" width="2" height="6.73" fill="#010000"/>
<rect x="268" y="185.23" width="1" height="6.73" fill="#0b0000"/>
<rect x="269" y="185.23" width="1" height="6.73" fill="#010000"/>
<rect x="270" y="185.23" width="2" height="6.73" fill="#3e0000"/>
<rect x="272" y="185.23" width="4" height="6.73" fill="#010000"/>
<rect x="276" y="185.23" width="1" height="6.73" fill="#0d0000"/>
<rect x="277" y="185.23" width="1" height="6.73" fill="#0c0000"/>
<rect x="278" y="185.23" width="6" height="6.73" fill="#110000"/>
<rect x="284" y="185.23" width="2" height="6.73" fill="#0c0000"/>
<rect x="287" y="185.23" width="3" height="6.73" fill="#040000"/>
<rect x="290" y="185.23" width="1" height="6.73" fill="#080000"/>
<rect x="291" y="185.23" width="4" height="6.73" fill="#4a0000"/>
<rect x="295" y="185.23" width="1" height="6.73" fill="#070000"/>
<rect x="296" y="185.23" width="2" height="6.73" fill="#120000"/>
<rect x="298" y="185.23" width="2" height="6.73" fill="#180000"/>
<rect x="300" y="185.23" width="2" height="6.73" fill="#040000"/>
<rect x="302" y="185.23" width="3" height="6.73" fill="#010000"/>
<rect x="305" y="185.23" width="1" height="6.73" fill="#040000"/>
<rect x="306" y="185.23" width="1" height="6.73" fill="#110000"/>
<rect x="307" y="185.23" width="2" height="6.73" fill="#080000"/>
<rect x="309" y="185.23" width="2" height="6.73" fill="#050000"/>
<rect x="312" y="185.23" width="6" height="6.73" fill="#ff0300"/>
<rect x="262" y="191.96" width="2" height="6.73" fill="#070000"/>
<rect x="270" y="191.96" width="2" height="6.73" fill="#0c0000"/>
<rect x="278" y="191.96" width="6" height="6.73" fill="#020000"/>
<rect x="291" y="191.96" width="4" height="6.73" fill="#100000"/>
<rect x="298" y="191.96" width="2" height="6.73" fill="#030000"/>
<rect x="313" y="191.96" width="5" height="6.73" fill="#ff1100"/>
<rect x="319" y="191.96" width="3" height="6.73" fill="#ee0000"/>
<rect x="320" y="198.69" width="6" height="6.73" fill="#ff3300"/>
<rect x="322" y="205.41" width="7" height="6.73" fill="#ff7700"/>
<rect x="329" y="205.41" width="1" height="6.73" fill="#880000"/>
<rect x="330" y="205.41" width="1" height="6.73" fill="#770000"/>
<rect x="331" y="205.41" width="1" height="6.73" fill="#660000"/>
<rect x="332" y="205.41" width="1" height="6.73" fill="#550000"/>
<rect x="333" y="205.41" width="1" height="6.73" fill="#440000"/>
<rect x="334" y="205.41" width="1" height="6.73" fill="#330000"/>
<rect x="335" y="205.41" width="1" height="6.73" fill="#220000"/>
<rect x="326" y="212.14" width="4" height="6.73" fill="#ff3300"/>
<rect x="330" y="212.14" width="1" height="6.73" fill="#fff800"/>
<rect x="331" y="212.14" width="1" height="6.73" fill="#ffff10"/>
<rect x="332" y="212.14" width="1" height="6.73" fill="#ffff2a"/>
<rect x="333" y="212.14" width="1" height="6.73" fill="#ffff44"/>
<rect x="334" y="212.14" width="1" height="6.73" fill="#ffff5e"/>
<rect x="335" y="212.14" width="1" height="6.73" fill="#ffff78"/>
<rect x="336" y="212.14" width="1" height="6.73" fill="#ffff92"/>
<rect x="337" y="212.14" width="1" height="6.73" fill="#ffffac"/>
<rect x="338" y="212.14" width="1" height="6.73" fill="#ffffc6"/>
<rect x="339" y="212.14" width="1" height="6.73" fill="#ffffe0"/>
<rect x="340" y="212.14" width="36" height="6.73" fill="#ffffff"/>
</g></g>
<rect x="232.30" y="151.60" width="144.10" height="100.90" fill="none" stroke="#1a1a1a" stroke-width="0.8"/>
<line x1="258.10" y1="152.00" x2="258.10" y2="153.60" stroke="#5a5a5a" stroke-width="0.8"/>
<line x1="258.10" y1="252.10" x2="258.10" y2="250.50" stroke="#5a5a5a" stroke-width="0.8"/>
<line x1="284.40" y1="152.00" x2="284.40" y2="153.60" stroke="#5a5a5a" stroke-width="0.8"/>
<line x1="284.40" y1="252.10" x2="284.40" y2="250.50" stroke="#5a5a5a" stroke-width="0.8"/>
<line x1="310.40" y1="152.00" x2="310.40" y2="153.60" stroke="#5a5a5a" stroke-width="0.8"/>
<line x1="310.40" y1="252.10" x2="310.40" y2="250.50" stroke="#5a5a5a" stroke-width="0.8"/>
<line x1="337.10" y1="152.00" x2="337.10" y2="153.60" stroke="#5a5a5a" stroke-width="0.8"/>
<line x1="337.10" y1="252.10" x2="337.10" y2="250.50" stroke="#5a5a5a" stroke-width="0.8"/>
<line x1="363.50" y1="152.00" x2="363.50" y2="153.60" stroke="#5a5a5a" stroke-width="0.8"/>
<line x1="363.50" y1="252.10" x2="363.50" y2="250.50" stroke="#5a5a5a" stroke-width="0.8"/>
<text x="257.50" y="264.2" font-size="9" fill="#353535" text-anchor="middle">100</text>
<text x="283.80" y="264.2" font-size="9" fill="#353535" text-anchor="middle">200</text>
<text x="309.80" y="264.2" font-size="9" fill="#353535" text-anchor="middle">300</text>
<text x="336.50" y="264.2" font-size="9" fill="#353535" text-anchor="middle">400</text>
<text x="362.90" y="264.2" font-size="9" fill="#353535" text-anchor="middle">500</text>
<text x="228.00" y="185.07" font-size="9" fill="#353535" text-anchor="end">5</text>
<text x="228.00" y="218.70" font-size="9" fill="#353535" text-anchor="end">10</text>
<text x="228.00" y="252.34" font-size="9" fill="#353535" text-anchor="end">15</text>
<text x="302.55" y="276.0" font-size="10" fill="#353535" text-anchor="middle">Samples</text>
<text transform="translate(211.20,201.65) rotate(-90)" font-size="12" fill="#353535" text-anchor="middle" letter-spacing="0.82" style="font-family:'Liberation Serif',serif"><tspan font-style="italic">&#954;</tspan><tspan dx="2.2"> state number</tspan></text>
<text x="393.4" y="9.7" font-size="12" font-weight="bold" fill="#000">C</text>
<clipPath id="cC"><rect x="424.90" y="12.90" width="144.00" height="99.95"/></clipPath>
<g clip-path="url(#cC)">
<circle cx="425.2" cy="57.2" r="0.85" fill="#d81616"/>
<circle cx="425.2" cy="57.9" r="0.85" fill="#d81616"/>
<circle cx="425.5" cy="55.2" r="0.85" fill="#d81616"/>
<circle cx="425.9" cy="54.8" r="0.85" fill="#d81616"/>
<circle cx="426.0" cy="56.9" r="0.85" fill="#d81616"/>
<circle cx="426.3" cy="56.4" r="0.85" fill="#d81616"/>
<circle cx="426.6" cy="51.7" r="0.85" fill="#d81616"/>
<circle cx="426.9" cy="54.1" r="0.85" fill="#d81616"/>
<circle cx="427.3" cy="49.7" r="0.85" fill="#d81616"/>
<circle cx="427.5" cy="46.7" r="0.85" fill="#d81616"/>
<circle cx="428.0" cy="49.3" r="0.85" fill="#d81616"/>
<circle cx="428.0" cy="49.8" r="0.85" fill="#d81616"/>
<circle cx="428.3" cy="50.8" r="0.85" fill="#d81616"/>
<circle cx="428.8" cy="51.4" r="0.85" fill="#d81616"/>
<circle cx="429.0" cy="51.9" r="0.85" fill="#d81616"/>
<circle cx="429.1" cy="53.4" r="0.85" fill="#d81616"/>
<circle cx="429.3" cy="50.4" r="0.85" fill="#d81616"/>
<circle cx="429.6" cy="48.8" r="0.85" fill="#d81616"/>
<circle cx="429.9" cy="46.8" r="0.85" fill="#d81616"/>
<circle cx="430.3" cy="44.1" r="0.85" fill="#d81616"/>
<circle cx="430.7" cy="42.6" r="0.85" fill="#d81616"/>
<circle cx="430.9" cy="43.9" r="0.85" fill="#d81616"/>
<circle cx="431.1" cy="44.3" r="0.85" fill="#d81616"/>
<circle cx="431.5" cy="48.0" r="0.85" fill="#d81616"/>
<circle cx="431.8" cy="46.9" r="0.85" fill="#d81616"/>
<circle cx="431.7" cy="44.6" r="0.85" fill="#d81616"/>
<circle cx="432.0" cy="41.6" r="0.85" fill="#d81616"/>
<circle cx="432.4" cy="45.6" r="0.85" fill="#d81616"/>
<circle cx="432.8" cy="49.7" r="0.85" fill="#d81616"/>
<circle cx="433.0" cy="49.5" r="0.85" fill="#d81616"/>
<circle cx="433.3" cy="50.2" r="0.85" fill="#d81616"/>
<circle cx="433.6" cy="47.5" r="0.85" fill="#d81616"/>
<circle cx="433.9" cy="45.1" r="0.85" fill="#d81616"/>
<circle cx="434.2" cy="44.9" r="0.85" fill="#d81616"/>
<circle cx="434.2" cy="42.4" r="0.85" fill="#d81616"/>
<circle cx="434.7" cy="45.4" r="0.85" fill="#d81616"/>
<circle cx="435.0" cy="41.7" r="0.85" fill="#d81616"/>
<circle cx="435.1" cy="38.1" r="0.85" fill="#d81616"/>
<circle cx="435.2" cy="39.5" r="0.85" fill="#d81616"/>
<circle cx="435.7" cy="45.8" r="0.85" fill="#d81616"/>
<circle cx="435.8" cy="47.8" r="0.85" fill="#d81616"/>
<circle cx="436.3" cy="49.6" r="0.85" fill="#d81616"/>
<circle cx="436.4" cy="51.0" r="0.85" fill="#d81616"/>
<circle cx="436.9" cy="51.9" r="0.85" fill="#d81616"/>
<circle cx="437.1" cy="53.6" r="0.85" fill="#d81616"/>
<circle cx="437.5" cy="53.6" r="0.85" fill="#d81616"/>
<circle cx="437.5" cy="54.5" r="0.85" fill="#d81616"/>
<circle cx="437.8" cy="48.4" r="0.85" fill="#d81616"/>
<circle cx="438.3" cy="45.9" r="0.85" fill="#d81616"/>
<circle cx="438.2" cy="51.9" r="0.85" fill="#d81616"/>
<circle cx="438.5" cy="52.2" r="0.85" fill="#d81616"/>
<circle cx="438.9" cy="53.2" r="0.85" fill="#d81616"/>
<circle cx="439.0" cy="50.5" r="0.85" fill="#d81616"/>
<circle cx="439.4" cy="49.5" r="0.85" fill="#d81616"/>
<circle cx="439.9" cy="47.7" r="0.85" fill="#d81616"/>
<circle cx="440.1" cy="51.3" r="0.85" fill="#d81616"/>
<circle cx="440.3" cy="47.6" r="0.85" fill="#d81616"/>
<circle cx="440.4" cy="48.5" r="0.85" fill="#d81616"/>
<circle cx="441.0" cy="53.0" r="0.85" fill="#d81616"/>
<circle cx="441.2" cy="49.5" r="0.85" fill="#d81616"/>
<circle cx="441.2" cy="48.0" r="0.85" fill="#d81616"/>
<circle cx="441.7" cy="50.8" r="0.85" fill="#d81616"/>
<circle cx="441.8" cy="51.7" r="0.85" fill="#d81616"/>
<circle cx="442.0" cy="51.7" r="0.85" fill="#d81616"/>
<circle cx="442.2" cy="50.9" r="0.85" fill="#d81616"/>
<circle cx="442.6" cy="51.6" r="0.85" fill="#d81616"/>
<circle cx="442.8" cy="53.3" r="0.85" fill="#d81616"/>
<circle cx="443.4" cy="53.8" r="0.85" fill="#d81616"/>
<circle cx="443.4" cy="51.6" r="0.85" fill="#d81616"/>
<circle cx="443.7" cy="50.4" r="0.85" fill="#d81616"/>
<circle cx="444.2" cy="49.8" r="0.85" fill="#d81616"/>
<circle cx="444.5" cy="51.3" r="0.85" fill="#d81616"/>
<circle cx="444.4" cy="48.3" r="0.85" fill="#d81616"/>
<circle cx="444.7" cy="50.1" r="0.85" fill="#d81616"/>
<circle cx="445.3" cy="49.4" r="0.85" fill="#d81616"/>
<circle cx="445.3" cy="51.8" r="0.85" fill="#d81616"/>
<circle cx="445.7" cy="57.8" r="0.85" fill="#d81616"/>
<circle cx="445.8" cy="56.0" r="0.85" fill="#d81616"/>
<circle cx="446.2" cy="53.5" r="0.85" fill="#d81616"/>
<circle cx="446.7" cy="52.5" r="0.85" fill="#d81616"/>
<circle cx="446.7" cy="54.6" r="0.85" fill="#d81616"/>
<circle cx="447.0" cy="50.3" r="0.85" fill="#d81616"/>
<circle cx="447.3" cy="52.9" r="0.85" fill="#d81616"/>
<circle cx="447.7" cy="56.1" r="0.85" fill="#d81616"/>
<circle cx="448.0" cy="53.3" r="0.85" fill="#d81616"/>
<circle cx="448.3" cy="54.1" r="0.85" fill="#d81616"/>
<circle cx="448.5" cy="55.8" r="0.85" fill="#d81616"/>
<circle cx="448.8" cy="50.4" r="0.85" fill="#d81616"/>
<circle cx="448.9" cy="51.2" r="0.85" fill="#d81616"/>
<circle cx="449.0" cy="54.4" r="0.85" fill="#d81616"/>
<circle cx="449.4" cy="55.3" r="0.85" fill="#d81616"/>
<circle cx="449.8" cy="54.1" r="0.85" fill="#d81616"/>
<circle cx="450.2" cy="55.8" r="0.85" fill="#d81616"/>
<circle cx="450.5" cy="53.2" r="0.85" fill="#d81616"/>
<circle cx="450.4" cy="54.7" r="0.85" fill="#d81616"/>
<circle cx="450.7" cy="52.6" r="0.85" fill="#d81616"/>
<circle cx="451.1" cy="52.5" r="0.85" fill="#d81616"/>
<circle cx="451.5" cy="53.5" r="0.85" fill="#d81616"/>
<circle cx="451.7" cy="54.0" r="0.85" fill="#d81616"/>
<circle cx="452.0" cy="50.2" r="0.85" fill="#d81616"/>
<circle cx="452.3" cy="53.6" r="0.85" fill="#d81616"/>
<circle cx="452.6" cy="54.3" r="0.85" fill="#d81616"/>
<circle cx="452.6" cy="52.7" r="0.85" fill="#d81616"/>
<circle cx="453.1" cy="48.8" r="0.85" fill="#d81616"/>
<circle cx="453.4" cy="47.1" r="0.85" fill="#d81616"/>
<circle cx="453.5" cy="52.3" r="0.85" fill="#d81616"/>
<circle cx="453.9" cy="46.3" r="0.85" fill="#d81616"/>
<circle cx="453.9" cy="51.4" r="0.85" fill="#d81616"/>
<circle cx="454.5" cy="51.8" r="0.85" fill="#d81616"/>
<circle cx="454.7" cy="52.0" r="0.85" fill="#d81616"/>
<circle cx="455.1" cy="53.9" r="0.85" fill="#d81616"/>
<circle cx="455.2" cy="56.0" r="0.85" fill="#d81616"/>
<circle cx="455.3" cy="51.5" r="0.85" fill="#d81616"/>
<circle cx="455.5" cy="53.2" r="0.85" fill="#d81616"/>
<circle cx="456.0" cy="55.3" r="0.85" fill="#d81616"/>
<circle cx="456.4" cy="52.1" r="0.85" fill="#d81616"/>
<circle cx="456.6" cy="46.1" r="0.85" fill="#d81616"/>
<circle cx="456.7" cy="49.4" r="0.85" fill="#d81616"/>
<circle cx="456.9" cy="49.1" r="0.85" fill="#d81616"/>
<circle cx="457.3" cy="51.1" r="0.85" fill="#d81616"/>
<circle cx="457.4" cy="49.9" r="0.85" fill="#d81616"/>
<circle cx="458.0" cy="51.9" r="0.85" fill="#d81616"/>
<circle cx="458.2" cy="48.7" r="0.85" fill="#d81616"/>
<circle cx="458.6" cy="50.7" r="0.85" fill="#d81616"/>
<circle cx="458.7" cy="44.6" r="0.85" fill="#d81616"/>
<circle cx="458.9" cy="48.6" r="0.85" fill="#d81616"/>
<circle cx="459.2" cy="47.8" r="0.85" fill="#d81616"/>
<circle cx="459.3" cy="47.6" r="0.85" fill="#d81616"/>
<circle cx="459.6" cy="52.1" r="0.85" fill="#d81616"/>
<circle cx="460.0" cy="50.3" r="0.85" fill="#d81616"/>
<circle cx="460.2" cy="48.5" r="0.85" fill="#d81616"/>
<circle cx="460.6" cy="44.7" r="0.85" fill="#d81616"/>
<circle cx="460.7" cy="41.4" r="0.85" fill="#d81616"/>
<circle cx="461.1" cy="42.1" r="0.85" fill="#d81616"/>
<circle cx="461.5" cy="44.2" r="0.85" fill="#d81616"/>
<circle cx="461.6" cy="47.5" r="0.85" fill="#d81616"/>
<circle cx="462.1" cy="43.5" r="0.85" fill="#d81616"/>
<circle cx="462.2" cy="43.5" r="0.85" fill="#d81616"/>
<circle cx="462.5" cy="42.8" r="0.85" fill="#d81616"/>
<circle cx="462.8" cy="42.8" r="0.85" fill="#d81616"/>
<circle cx="463.0" cy="41.8" r="0.85" fill="#d81616"/>
<circle cx="463.4" cy="45.2" r="0.85" fill="#d81616"/>
<circle cx="463.7" cy="44.6" r="0.85" fill="#d81616"/>
<circle cx="463.7" cy="41.0" r="0.85" fill="#d81616"/>
<circle cx="464.2" cy="38.2" r="0.85" fill="#d81616"/>
<circle cx="464.2" cy="40.0" r="0.85" fill="#d81616"/>
<circle cx="464.4" cy="45.5" r="0.85" fill="#d81616"/>
<circle cx="464.8" cy="48.8" r="0.85" fill="#d81616"/>
<circle cx="465.3" cy="52.5" r="0.85" fill="#d81616"/>
<circle cx="465.6" cy="53.0" r="0.85" fill="#d81616"/>
<circle cx="465.8" cy="54.0" r="0.85" fill="#d81616"/>
<circle cx="465.8" cy="55.8" r="0.85" fill="#d81616"/>
<circle cx="466.1" cy="58.8" r="0.85" fill="#d81616"/>
<circle cx="466.7" cy="50.6" r="0.85" fill="#d81616"/>
<circle cx="467.0" cy="48.0" r="0.85" fill="#d81616"/>
<circle cx="467.2" cy="50.9" r="0.85" fill="#d81616"/>
<circle cx="467.3" cy="52.4" r="0.85" fill="#d81616"/>
<circle cx="467.5" cy="54.4" r="0.85" fill="#d81616"/>
<circle cx="467.9" cy="53.9" r="0.85" fill="#d81616"/>
<circle cx="467.9" cy="55.2" r="0.85" fill="#d81616"/>
<circle cx="468.2" cy="50.9" r="0.85" fill="#d81616"/>
<circle cx="468.6" cy="50.3" r="0.85" fill="#d81616"/>
<circle cx="468.8" cy="48.5" r="0.85" fill="#d81616"/>
<circle cx="469.4" cy="47.6" r="0.85" fill="#d81616"/>
<circle cx="469.3" cy="51.4" r="0.85" fill="#d81616"/>
<circle cx="469.7" cy="44.3" r="0.85" fill="#d81616"/>
<circle cx="469.9" cy="52.7" r="0.85" fill="#d81616"/>
<circle cx="470.1" cy="54.2" r="0.85" fill="#d81616"/>
<circle cx="470.7" cy="48.0" r="0.85" fill="#d81616"/>
<circle cx="470.7" cy="53.3" r="0.85" fill="#d81616"/>
<circle cx="471.1" cy="57.6" r="0.85" fill="#d81616"/>
<circle cx="471.4" cy="61.7" r="0.85" fill="#d81616"/>
<circle cx="471.7" cy="59.7" r="0.85" fill="#d81616"/>
<circle cx="471.9" cy="58.2" r="0.85" fill="#d81616"/>
<circle cx="472.2" cy="63.4" r="0.85" fill="#d81616"/>
<circle cx="472.6" cy="63.3" r="0.85" fill="#d81616"/>
<circle cx="472.5" cy="65.5" r="0.85" fill="#d81616"/>
<circle cx="473.1" cy="64.6" r="0.85" fill="#d81616"/>
<circle cx="473.3" cy="58.2" r="0.85" fill="#d81616"/>
<circle cx="473.7" cy="58.0" r="0.85" fill="#d81616"/>
<circle cx="473.8" cy="56.8" r="0.85" fill="#d81616"/>
<circle cx="474.0" cy="58.2" r="0.85" fill="#d81616"/>
<circle cx="474.2" cy="58.9" r="0.85" fill="#d81616"/>
<circle cx="474.5" cy="59.1" r="0.85" fill="#d81616"/>
<circle cx="475.0" cy="56.7" r="0.85" fill="#d81616"/>
<circle cx="475.1" cy="59.5" r="0.85" fill="#d81616"/>
<circle cx="475.4" cy="55.7" r="0.85" fill="#d81616"/>
<circle cx="475.5" cy="55.9" r="0.85" fill="#d81616"/>
<circle cx="476.1" cy="56.1" r="0.85" fill="#d81616"/>
<circle cx="476.3" cy="57.0" r="0.85" fill="#d81616"/>
<circle cx="476.7" cy="58.6" r="0.85" fill="#d81616"/>
<circle cx="476.6" cy="62.5" r="0.85" fill="#d81616"/>
<circle cx="477.0" cy="62.3" r="0.85" fill="#d81616"/>
<circle cx="477.5" cy="55.8" r="0.85" fill="#d81616"/>
<circle cx="477.7" cy="51.9" r="0.85" fill="#d81616"/>
<circle cx="478.1" cy="57.5" r="0.85" fill="#d81616"/>
<circle cx="478.2" cy="52.3" r="0.85" fill="#d81616"/>
<circle cx="478.5" cy="62.0" r="0.85" fill="#d81616"/>
<circle cx="478.5" cy="56.5" r="0.85" fill="#d81616"/>
<circle cx="478.8" cy="59.5" r="0.85" fill="#d81616"/>
<circle cx="479.1" cy="66.3" r="0.85" fill="#d81616"/>
<circle cx="479.3" cy="66.6" r="0.85" fill="#d81616"/>
<circle cx="479.9" cy="71.8" r="0.85" fill="#d81616"/>
<circle cx="480.1" cy="71.5" r="0.85" fill="#d81616"/>
<circle cx="480.2" cy="65.5" r="0.85" fill="#d81616"/>
<circle cx="480.5" cy="66.6" r="0.85" fill="#d81616"/>
<circle cx="480.7" cy="66.6" r="0.85" fill="#d81616"/>
<circle cx="481.3" cy="68.4" r="0.85" fill="#d81616"/>
<circle cx="481.3" cy="71.5" r="0.85" fill="#d81616"/>
<circle cx="481.8" cy="65.3" r="0.85" fill="#d81616"/>
<circle cx="481.7" cy="60.8" r="0.85" fill="#d81616"/>
<circle cx="482.1" cy="65.1" r="0.85" fill="#d81616"/>
<circle cx="482.3" cy="55.9" r="0.85" fill="#d81616"/>
<circle cx="482.7" cy="58.3" r="0.85" fill="#d81616"/>
<circle cx="482.8" cy="63.4" r="0.85" fill="#d81616"/>
<circle cx="483.2" cy="62.0" r="0.85" fill="#d81616"/>
<circle cx="483.5" cy="62.3" r="0.85" fill="#d81616"/>
<circle cx="483.7" cy="61.6" r="0.85" fill="#d81616"/>
<circle cx="484.2" cy="54.3" r="0.85" fill="#d81616"/>
<circle cx="484.4" cy="52.6" r="0.85" fill="#d81616"/>
<circle cx="484.6" cy="52.8" r="0.85" fill="#d81616"/>
<circle cx="484.8" cy="42.9" r="0.85" fill="#d81616"/>
<circle cx="485.2" cy="53.4" r="0.85" fill="#d81616"/>
<circle cx="485.5" cy="55.8" r="0.85" fill="#d81616"/>
<circle cx="485.9" cy="69.5" r="0.85" fill="#d81616"/>
<circle cx="486.0" cy="69.4" r="0.85" fill="#d81616"/>
<circle cx="486.1" cy="64.7" r="0.85" fill="#d81616"/>
<circle cx="486.5" cy="51.1" r="0.85" fill="#d81616"/>
<circle cx="486.9" cy="42.3" r="0.85" fill="#d81616"/>
<circle cx="487.2" cy="49.3" r="0.85" fill="#d81616"/>
<circle cx="487.4" cy="41.6" r="0.85" fill="#d81616"/>
<circle cx="487.7" cy="42.1" r="0.85" fill="#d81616"/>
<circle cx="487.7" cy="49.9" r="0.85" fill="#d81616"/>
<circle cx="488.1" cy="56.2" r="0.85" fill="#d81616"/>
<circle cx="488.4" cy="68.8" r="0.85" fill="#d81616"/>
<circle cx="488.7" cy="74.1" r="0.85" fill="#d81616"/>
<circle cx="488.9" cy="61.7" r="0.85" fill="#d81616"/>
<circle cx="489.0" cy="54.2" r="0.85" fill="#d81616"/>
<circle cx="489.5" cy="60.7" r="0.85" fill="#d81616"/>
<circle cx="489.8" cy="49.9" r="0.85" fill="#d81616"/>
<circle cx="490.1" cy="53.3" r="0.85" fill="#d81616"/>
<circle cx="490.2" cy="54.6" r="0.85" fill="#d81616"/>
<circle cx="490.7" cy="62.7" r="0.85" fill="#d81616"/>
<circle cx="490.7" cy="65.1" r="0.85" fill="#d81616"/>
<circle cx="491.1" cy="62.8" r="0.85" fill="#d81616"/>
<circle cx="491.3" cy="43.0" r="0.85" fill="#d81616"/>
<circle cx="491.8" cy="40.0" r="0.85" fill="#d81616"/>
<circle cx="492.0" cy="50.5" r="0.85" fill="#d81616"/>
<circle cx="492.0" cy="53.5" r="0.85" fill="#d81616"/>
<circle cx="492.4" cy="54.9" r="0.85" fill="#d81616"/>
<circle cx="492.8" cy="57.8" r="0.85" fill="#d81616"/>
<circle cx="492.8" cy="53.7" r="0.85" fill="#d81616"/>
<circle cx="493.3" cy="62.7" r="0.85" fill="#d81616"/>
<circle cx="493.6" cy="64.9" r="0.85" fill="#d81616"/>
<circle cx="493.8" cy="61.5" r="0.85" fill="#d81616"/>
<circle cx="494.1" cy="56.8" r="0.85" fill="#d81616"/>
<circle cx="494.5" cy="55.8" r="0.85" fill="#d81616"/>
<circle cx="494.5" cy="59.6" r="0.85" fill="#d81616"/>
<circle cx="494.7" cy="77.8" r="0.85" fill="#d81616"/>
<circle cx="495.1" cy="69.7" r="0.85" fill="#d81616"/>
<circle cx="495.4" cy="75.3" r="0.85" fill="#d81616"/>
<circle cx="495.6" cy="53.5" r="0.85" fill="#d81616"/>
<circle cx="495.9" cy="61.8" r="0.85" fill="#d81616"/>
<circle cx="496.3" cy="79.4" r="0.85" fill="#d81616"/>
<circle cx="496.7" cy="78.6" r="0.85" fill="#d81616"/>
<circle cx="496.6" cy="79.5" r="0.85" fill="#d81616"/>
<circle cx="497.2" cy="76.9" r="0.85" fill="#d81616"/>
<circle cx="497.4" cy="64.0" r="0.85" fill="#d81616"/>
<circle cx="497.6" cy="65.8" r="0.85" fill="#d81616"/>
<circle cx="497.7" cy="80.4" r="0.85" fill="#d81616"/>
<circle cx="432.5" cy="37.0" r="0.85" fill="#d81616"/>
<circle cx="485.0" cy="66.0" r="0.85" fill="#d81616"/>
<circle cx="486.0" cy="70.0" r="0.85" fill="#d81616"/>
<circle cx="487.0" cy="74.0" r="0.85" fill="#d81616"/>
<circle cx="490.0" cy="66.0" r="0.85" fill="#d81616"/>
<circle cx="494.0" cy="69.0" r="0.85" fill="#d81616"/>
<circle cx="494.0" cy="77.0" r="0.85" fill="#d81616"/>
<circle cx="496.0" cy="80.0" r="0.85" fill="#d81616"/>
<circle cx="497.0" cy="76.0" r="0.85" fill="#d81616"/>
<circle cx="493.0" cy="60.0" r="0.85" fill="#d81616"/>
<circle cx="489.0" cy="80.0" r="0.85" fill="#d81616"/>
<circle cx="491.0" cy="78.0" r="0.85" fill="#d81616"/>
<circle cx="497.0" cy="48.2" r="0.85" fill="#111111"/>
<circle cx="497.5" cy="61.4" r="0.85" fill="#111111"/>
<circle cx="497.8" cy="49.0" r="0.85" fill="#111111"/>
<circle cx="498.1" cy="63.5" r="0.85" fill="#111111"/>
<circle cx="498.3" cy="57.4" r="0.85" fill="#111111"/>
<circle cx="498.8" cy="60.3" r="0.85" fill="#111111"/>
<circle cx="499.1" cy="57.5" r="0.85" fill="#111111"/>
<circle cx="499.4" cy="64.8" r="0.85" fill="#111111"/>
<circle cx="499.5" cy="62.2" r="0.85" fill="#111111"/>
<circle cx="499.9" cy="64.4" r="0.85" fill="#111111"/>
<circle cx="500.3" cy="65.3" r="0.85" fill="#111111"/>
<circle cx="500.7" cy="60.7" r="0.85" fill="#111111"/>
<circle cx="500.9" cy="70.9" r="0.85" fill="#111111"/>
<circle cx="501.0" cy="55.6" r="0.85" fill="#111111"/>
<circle cx="501.5" cy="63.0" r="0.85" fill="#111111"/>
<circle cx="501.7" cy="63.2" r="0.85" fill="#111111"/>
<circle cx="502.2" cy="59.6" r="0.85" fill="#111111"/>
<circle cx="502.5" cy="61.9" r="0.85" fill="#111111"/>
<circle cx="502.8" cy="64.3" r="0.85" fill="#111111"/>
<circle cx="503.0" cy="70.6" r="0.85" fill="#111111"/>
<circle cx="503.4" cy="69.8" r="0.85" fill="#111111"/>
<circle cx="503.8" cy="70.2" r="0.85" fill="#111111"/>
<circle cx="504.0" cy="62.8" r="0.85" fill="#111111"/>
<circle cx="504.2" cy="55.1" r="0.85" fill="#111111"/>
<circle cx="504.5" cy="59.3" r="0.85" fill="#111111"/>
<circle cx="504.8" cy="61.8" r="0.85" fill="#111111"/>
<circle cx="505.2" cy="54.4" r="0.85" fill="#111111"/>
<circle cx="505.7" cy="58.5" r="0.85" fill="#111111"/>
<circle cx="505.9" cy="49.9" r="0.85" fill="#111111"/>
<circle cx="506.2" cy="48.8" r="0.85" fill="#111111"/>
<circle cx="506.5" cy="49.4" r="0.85" fill="#111111"/>
<circle cx="507.1" cy="47.5" r="0.85" fill="#111111"/>
<circle cx="507.2" cy="49.8" r="0.85" fill="#111111"/>
<circle cx="507.8" cy="49.9" r="0.85" fill="#111111"/>
<circle cx="508.0" cy="45.8" r="0.85" fill="#111111"/>
<circle cx="508.4" cy="48.3" r="0.85" fill="#111111"/>
<circle cx="508.7" cy="48.4" r="0.85" fill="#111111"/>
<circle cx="509.0" cy="50.2" r="0.85" fill="#111111"/>
<circle cx="509.3" cy="48.8" r="0.85" fill="#111111"/>
<circle cx="509.9" cy="42.1" r="0.85" fill="#111111"/>
<circle cx="510.0" cy="44.7" r="0.85" fill="#111111"/>
<circle cx="510.6" cy="45.7" r="0.85" fill="#111111"/>
<circle cx="510.9" cy="44.3" r="0.85" fill="#111111"/>
<circle cx="511.2" cy="50.7" r="0.85" fill="#111111"/>
<circle cx="511.3" cy="44.1" r="0.85" fill="#111111"/>
<circle cx="511.8" cy="48.2" r="0.85" fill="#111111"/>
<circle cx="512.3" cy="49.5" r="0.85" fill="#111111"/>
<circle cx="512.4" cy="47.0" r="0.85" fill="#111111"/>
<circle cx="512.7" cy="52.1" r="0.85" fill="#111111"/>
<circle cx="513.2" cy="46.9" r="0.85" fill="#111111"/>
<circle cx="513.5" cy="49.5" r="0.85" fill="#111111"/>
<circle cx="513.8" cy="52.2" r="0.85" fill="#111111"/>
<circle cx="514.0" cy="49.5" r="0.85" fill="#111111"/>
<circle cx="514.6" cy="50.5" r="0.85" fill="#111111"/>
<circle cx="514.7" cy="56.0" r="0.85" fill="#111111"/>
<circle cx="515.2" cy="56.0" r="0.85" fill="#111111"/>
<circle cx="515.5" cy="54.9" r="0.85" fill="#111111"/>
<circle cx="515.8" cy="52.2" r="0.85" fill="#111111"/>
<circle cx="516.3" cy="57.3" r="0.85" fill="#111111"/>
<circle cx="516.5" cy="58.4" r="0.85" fill="#111111"/>
<circle cx="516.9" cy="53.7" r="0.85" fill="#111111"/>
<circle cx="517.1" cy="59.2" r="0.85" fill="#111111"/>
<circle cx="517.6" cy="62.6" r="0.85" fill="#111111"/>
<circle cx="517.9" cy="55.2" r="0.85" fill="#111111"/>
<circle cx="518.3" cy="54.3" r="0.85" fill="#111111"/>
<circle cx="518.6" cy="61.6" r="0.85" fill="#111111"/>
<circle cx="518.7" cy="64.6" r="0.85" fill="#111111"/>
<circle cx="519.0" cy="63.2" r="0.85" fill="#111111"/>
<circle cx="519.5" cy="67.2" r="0.85" fill="#111111"/>
<circle cx="519.7" cy="57.7" r="0.85" fill="#111111"/>
<circle cx="520.0" cy="64.0" r="0.85" fill="#111111"/>
<circle cx="520.3" cy="69.9" r="0.85" fill="#111111"/>
<circle cx="520.7" cy="65.6" r="0.85" fill="#111111"/>
<circle cx="521.2" cy="66.2" r="0.85" fill="#111111"/>
<circle cx="521.4" cy="60.7" r="0.85" fill="#111111"/>
<circle cx="521.9" cy="69.5" r="0.85" fill="#111111"/>
<circle cx="522.1" cy="67.9" r="0.85" fill="#111111"/>
<circle cx="522.6" cy="63.3" r="0.85" fill="#111111"/>
<circle cx="522.7" cy="64.9" r="0.85" fill="#111111"/>
<circle cx="523.3" cy="72.5" r="0.85" fill="#111111"/>
<circle cx="523.5" cy="66.9" r="0.85" fill="#111111"/>
<circle cx="523.8" cy="70.4" r="0.85" fill="#111111"/>
<circle cx="524.1" cy="77.8" r="0.85" fill="#111111"/>
<circle cx="524.6" cy="71.0" r="0.85" fill="#111111"/>
<circle cx="524.8" cy="71.2" r="0.85" fill="#111111"/>
<circle cx="525.2" cy="69.8" r="0.85" fill="#111111"/>
<circle cx="525.4" cy="70.7" r="0.85" fill="#111111"/>
<circle cx="525.7" cy="74.9" r="0.85" fill="#111111"/>
<circle cx="526.3" cy="80.0" r="0.85" fill="#111111"/>
<circle cx="526.6" cy="78.9" r="0.85" fill="#111111"/>
<circle cx="526.7" cy="64.0" r="0.85" fill="#111111"/>
<circle cx="527.3" cy="77.8" r="0.85" fill="#111111"/>
<circle cx="527.5" cy="77.8" r="0.85" fill="#111111"/>
<circle cx="527.8" cy="72.1" r="0.85" fill="#111111"/>
<circle cx="528.2" cy="81.7" r="0.85" fill="#111111"/>
<circle cx="528.3" cy="77.5" r="0.85" fill="#111111"/>
<circle cx="528.6" cy="80.7" r="0.85" fill="#111111"/>
<circle cx="528.8" cy="79.0" r="0.85" fill="#111111"/>
<circle cx="529.0" cy="85.0" r="0.85" fill="#111111"/>
<circle cx="529.4" cy="85.9" r="0.85" fill="#111111"/>
<circle cx="529.6" cy="85.1" r="0.85" fill="#111111"/>
<circle cx="529.9" cy="86.2" r="0.85" fill="#111111"/>
<circle cx="531.3" cy="50.1" r="0.85" fill="#111111"/>
<circle cx="531.6" cy="58.5" r="0.85" fill="#111111"/>
<circle cx="531.7" cy="54.4" r="0.85" fill="#111111"/>
<circle cx="531.9" cy="51.6" r="0.85" fill="#111111"/>
<circle cx="532.3" cy="55.1" r="0.85" fill="#111111"/>
<circle cx="532.7" cy="53.9" r="0.85" fill="#111111"/>
<circle cx="532.9" cy="57.7" r="0.85" fill="#111111"/>
<circle cx="533.2" cy="59.5" r="0.85" fill="#111111"/>
<circle cx="533.5" cy="62.3" r="0.85" fill="#111111"/>
<circle cx="533.7" cy="52.5" r="0.85" fill="#111111"/>
<circle cx="534.3" cy="52.0" r="0.85" fill="#111111"/>
<circle cx="534.5" cy="53.3" r="0.85" fill="#111111"/>
<circle cx="534.7" cy="58.9" r="0.85" fill="#111111"/>
<circle cx="535.2" cy="67.0" r="0.85" fill="#111111"/>
<circle cx="535.3" cy="64.3" r="0.85" fill="#111111"/>
<circle cx="535.7" cy="64.4" r="0.85" fill="#111111"/>
<circle cx="536.0" cy="69.6" r="0.85" fill="#111111"/>
<circle cx="536.3" cy="60.1" r="0.85" fill="#111111"/>
<circle cx="536.5" cy="58.0" r="0.85" fill="#111111"/>
<circle cx="536.9" cy="61.6" r="0.85" fill="#111111"/>
<circle cx="537.1" cy="64.5" r="0.85" fill="#111111"/>
<circle cx="537.4" cy="59.8" r="0.85" fill="#111111"/>
<circle cx="537.8" cy="65.8" r="0.85" fill="#111111"/>
<circle cx="538.0" cy="57.0" r="0.85" fill="#111111"/>
<circle cx="538.2" cy="62.1" r="0.85" fill="#111111"/>
<circle cx="538.5" cy="66.2" r="0.85" fill="#111111"/>
<circle cx="538.8" cy="68.2" r="0.85" fill="#111111"/>
<circle cx="539.3" cy="68.5" r="0.85" fill="#111111"/>
<circle cx="539.6" cy="70.8" r="0.85" fill="#111111"/>
<circle cx="539.6" cy="65.8" r="0.85" fill="#111111"/>
<circle cx="540.0" cy="73.3" r="0.85" fill="#111111"/>
<circle cx="540.3" cy="70.1" r="0.85" fill="#111111"/>
<circle cx="540.7" cy="64.4" r="0.85" fill="#111111"/>
<circle cx="541.1" cy="70.3" r="0.85" fill="#111111"/>
<circle cx="541.3" cy="73.4" r="0.85" fill="#111111"/>
<circle cx="541.5" cy="71.8" r="0.85" fill="#111111"/>
<circle cx="541.9" cy="70.1" r="0.85" fill="#111111"/>
<circle cx="542.3" cy="68.4" r="0.85" fill="#111111"/>
<circle cx="542.6" cy="74.2" r="0.85" fill="#111111"/>
<circle cx="542.9" cy="69.9" r="0.85" fill="#111111"/>
<circle cx="543.0" cy="70.7" r="0.85" fill="#111111"/>
<circle cx="543.4" cy="66.1" r="0.85" fill="#111111"/>
<circle cx="543.8" cy="63.8" r="0.85" fill="#111111"/>
<circle cx="544.0" cy="60.2" r="0.85" fill="#111111"/>
<circle cx="544.4" cy="66.6" r="0.85" fill="#111111"/>
<circle cx="544.7" cy="66.3" r="0.85" fill="#111111"/>
<circle cx="544.9" cy="60.1" r="0.85" fill="#111111"/>
<circle cx="545.2" cy="68.4" r="0.85" fill="#111111"/>
<circle cx="545.6" cy="68.0" r="0.85" fill="#111111"/>
<circle cx="545.8" cy="63.3" r="0.85" fill="#111111"/>
<circle cx="546.2" cy="61.2" r="0.85" fill="#111111"/>
<circle cx="546.6" cy="56.7" r="0.85" fill="#111111"/>
<circle cx="546.9" cy="56.2" r="0.85" fill="#111111"/>
<circle cx="547.1" cy="59.6" r="0.85" fill="#111111"/>
<circle cx="547.4" cy="59.7" r="0.85" fill="#111111"/>
<circle cx="547.8" cy="60.7" r="0.85" fill="#111111"/>
<circle cx="548.3" cy="57.7" r="0.85" fill="#111111"/>
<circle cx="548.4" cy="58.8" r="0.85" fill="#111111"/>
<circle cx="548.6" cy="60.6" r="0.85" fill="#111111"/>
<circle cx="549.2" cy="47.9" r="0.85" fill="#111111"/>
<circle cx="549.5" cy="51.1" r="0.85" fill="#111111"/>
<circle cx="549.7" cy="53.3" r="0.85" fill="#111111"/>
<circle cx="550.1" cy="54.0" r="0.85" fill="#111111"/>
<circle cx="550.3" cy="57.5" r="0.85" fill="#111111"/>
<circle cx="550.7" cy="56.0" r="0.85" fill="#111111"/>
<circle cx="550.8" cy="48.5" r="0.85" fill="#111111"/>
<circle cx="551.3" cy="50.8" r="0.85" fill="#111111"/>
<circle cx="551.5" cy="46.7" r="0.85" fill="#111111"/>
<circle cx="551.8" cy="45.0" r="0.85" fill="#111111"/>
<circle cx="552.2" cy="48.2" r="0.85" fill="#111111"/>
<circle cx="552.6" cy="42.6" r="0.85" fill="#111111"/>
<circle cx="552.8" cy="46.5" r="0.85" fill="#111111"/>
<circle cx="553.1" cy="42.0" r="0.85" fill="#111111"/>
<circle cx="553.5" cy="45.4" r="0.85" fill="#111111"/>
<circle cx="553.7" cy="48.9" r="0.85" fill="#111111"/>
<circle cx="554.1" cy="51.4" r="0.85" fill="#111111"/>
<circle cx="554.4" cy="50.0" r="0.85" fill="#111111"/>
<circle cx="554.6" cy="54.3" r="0.85" fill="#111111"/>
<circle cx="555.0" cy="50.0" r="0.85" fill="#111111"/>
<circle cx="555.1" cy="53.1" r="0.85" fill="#111111"/>
<circle cx="555.5" cy="55.2" r="0.85" fill="#111111"/>
<circle cx="555.6" cy="48.7" r="0.85" fill="#111111"/>
<circle cx="556.0" cy="52.8" r="0.85" fill="#111111"/>
<circle cx="556.3" cy="52.3" r="0.85" fill="#111111"/>
<circle cx="556.5" cy="51.3" r="0.85" fill="#111111"/>
<circle cx="556.8" cy="54.1" r="0.85" fill="#111111"/>
<circle cx="555.1" cy="58.7" r="0.85" fill="#111111"/>
<circle cx="555.5" cy="37.8" r="0.85" fill="#111111"/>
<circle cx="555.9" cy="54.6" r="0.85" fill="#111111"/>
<circle cx="556.3" cy="57.2" r="0.85" fill="#111111"/>
<circle cx="556.6" cy="57.8" r="0.85" fill="#111111"/>
<circle cx="557.0" cy="51.2" r="0.85" fill="#111111"/>
<circle cx="557.7" cy="59.6" r="0.85" fill="#111111"/>
<circle cx="557.8" cy="54.8" r="0.85" fill="#111111"/>
<circle cx="558.5" cy="49.1" r="0.85" fill="#111111"/>
<circle cx="558.8" cy="65.3" r="0.85" fill="#111111"/>
<circle cx="559.1" cy="70.9" r="0.85" fill="#111111"/>
<circle cx="559.6" cy="63.9" r="0.85" fill="#111111"/>
<circle cx="559.8" cy="52.7" r="0.85" fill="#111111"/>
<circle cx="560.4" cy="71.5" r="0.85" fill="#111111"/>
<circle cx="560.8" cy="65.6" r="0.85" fill="#111111"/>
<circle cx="561.0" cy="74.8" r="0.85" fill="#111111"/>
<circle cx="561.6" cy="71.9" r="0.85" fill="#111111"/>
<circle cx="562.0" cy="61.7" r="0.85" fill="#111111"/>
<circle cx="562.3" cy="70.3" r="0.85" fill="#111111"/>
<circle cx="562.8" cy="70.0" r="0.85" fill="#111111"/>
<circle cx="562.9" cy="54.5" r="0.85" fill="#111111"/>
<circle cx="563.3" cy="69.9" r="0.85" fill="#111111"/>
<circle cx="563.9" cy="71.0" r="0.85" fill="#111111"/>
<circle cx="564.2" cy="76.9" r="0.85" fill="#111111"/>
<circle cx="564.3" cy="71.0" r="0.85" fill="#111111"/>
<circle cx="565.1" cy="54.9" r="0.85" fill="#111111"/>
<circle cx="565.2" cy="64.2" r="0.85" fill="#111111"/>
<circle cx="565.8" cy="68.8" r="0.85" fill="#111111"/>
<circle cx="566.1" cy="73.6" r="0.85" fill="#111111"/>
<circle cx="566.4" cy="68.0" r="0.85" fill="#111111"/>
<circle cx="566.7" cy="81.5" r="0.85" fill="#111111"/>
<circle cx="567.1" cy="66.8" r="0.85" fill="#111111"/>
<circle cx="567.7" cy="65.3" r="0.85" fill="#111111"/>
<circle cx="568.1" cy="76.3" r="0.85" fill="#111111"/>
<circle cx="568.5" cy="67.6" r="0.85" fill="#111111"/>
<circle cx="568.8" cy="75.2" r="0.85" fill="#111111"/>
<circle cx="519.7" cy="39.3" r="0.85" fill="#111111"/>
<circle cx="525.2" cy="39.8" r="0.85" fill="#111111"/>
<circle cx="554.4" cy="36.5" r="0.85" fill="#111111"/>
<circle cx="565.5" cy="29.4" r="0.85" fill="#111111"/>
<circle cx="566.4" cy="30.4" r="0.85" fill="#111111"/>
<circle cx="555.4" cy="43.7" r="0.85" fill="#111111"/>
<circle cx="564.1" cy="43.0" r="0.85" fill="#111111"/>
<circle cx="567.5" cy="40.0" r="0.85" fill="#111111"/>
<circle cx="512.4" cy="44.5" r="0.85" fill="#111111"/>
<circle cx="524.4" cy="80.5" r="0.85" fill="#111111"/>
<circle cx="526.0" cy="80.5" r="0.85" fill="#111111"/>
<circle cx="522.5" cy="103.6" r="0.85" fill="#111111"/>
<circle cx="529.4" cy="105.0" r="0.85" fill="#111111"/>
<circle cx="528.0" cy="110.0" r="0.85" fill="#111111"/>
<circle cx="560.0" cy="80.5" r="0.85" fill="#111111"/>
<circle cx="563.0" cy="81.0" r="0.85" fill="#111111"/>
<circle cx="566.0" cy="83.0" r="0.85" fill="#111111"/>
<circle cx="564.0" cy="87.4" r="0.85" fill="#111111"/>
<circle cx="567.0" cy="87.4" r="0.85" fill="#111111"/>
<circle cx="569.0" cy="88.5" r="0.85" fill="#111111"/>
<circle cx="568.5" cy="100.6" r="0.85" fill="#111111"/>
<circle cx="542.0" cy="78.5" r="0.85" fill="#111111"/>
</g>
<rect x="424.90" y="12.90" width="144.00" height="99.95" fill="none" stroke="#8a8a8a" stroke-width="1"/>
<line x1="451.40" y1="112.85" x2="451.40" y2="110.65" stroke="#8a8a8a" stroke-width="0.9"/>
<line x1="451.40" y1="12.90" x2="451.40" y2="15.10" stroke="#8a8a8a" stroke-width="0.9"/>
<line x1="478.00" y1="112.85" x2="478.00" y2="110.65" stroke="#8a8a8a" stroke-width="0.9"/>
<line x1="478.00" y1="12.90" x2="478.00" y2="15.10" stroke="#8a8a8a" stroke-width="0.9"/>
<line x1="504.60" y1="112.85" x2="504.60" y2="110.65" stroke="#8a8a8a" stroke-width="0.9"/>
<line x1="504.60" y1="12.90" x2="504.60" y2="15.10" stroke="#8a8a8a" stroke-width="0.9"/>
<line x1="531.60" y1="112.85" x2="531.60" y2="110.65" stroke="#8a8a8a" stroke-width="0.9"/>
<line x1="531.60" y1="12.90" x2="531.60" y2="15.10" stroke="#8a8a8a" stroke-width="0.9"/>
<line x1="558.20" y1="112.85" x2="558.20" y2="110.65" stroke="#8a8a8a" stroke-width="0.9"/>
<line x1="558.20" y1="12.90" x2="558.20" y2="15.10" stroke="#8a8a8a" stroke-width="0.9"/>
<line x1="424.90" y1="38.10" x2="426.40" y2="38.10" stroke="#8a8a8a" stroke-width="0.8"/>
<line x1="568.90" y1="38.10" x2="567.40" y2="38.10" stroke="#8a8a8a" stroke-width="0.8"/>
<line x1="424.90" y1="63.00" x2="426.40" y2="63.00" stroke="#8a8a8a" stroke-width="0.8"/>
<line x1="568.90" y1="63.00" x2="567.40" y2="63.00" stroke="#8a8a8a" stroke-width="0.8"/>
<line x1="424.90" y1="88.00" x2="426.40" y2="88.00" stroke="#8a8a8a" stroke-width="0.8"/>
<line x1="568.90" y1="88.00" x2="567.40" y2="88.00" stroke="#8a8a8a" stroke-width="0.8"/>
<text x="450.80" y="124.6" font-size="9" fill="#353535" text-anchor="middle">100</text>
<text x="477.40" y="124.6" font-size="9" fill="#353535" text-anchor="middle">200</text>
<text x="504.00" y="124.6" font-size="9" fill="#353535" text-anchor="middle">300</text>
<text x="531.00" y="124.6" font-size="9" fill="#353535" text-anchor="middle">400</text>
<text x="557.60" y="124.6" font-size="9" fill="#353535" text-anchor="middle">500</text>
<text x="419.20" y="40.9" font-size="9" fill="#353535" text-anchor="end"><tspan style="font-family:'Liberation Serif',serif" font-size="8.6">&#960;</tspan>/2</text>
<text x="420.30" y="66.2" font-size="9" fill="#353535" text-anchor="end">0</text>
<text x="419.20" y="90.9" font-size="9" fill="#353535" text-anchor="end">-<tspan style="font-family:'Liberation Serif',serif" font-size="8.6">&#960;</tspan>/2</text>
<text x="495.10" y="136.7" font-size="10" fill="#353535" text-anchor="middle">Samples</text>
<path d="M391.50,62.60 m-5.3,0 a5.3,4.6 0 1,0 10.6,0 a5.3,4.6 0 1,0 -10.6,0 z M391.50,62.60 m-4.5,0 a4.5,3.5 0 1,1 9.0,0 a4.5,3.5 0 1,1 -9.0,0 z" fill="#1e1e1e" fill-rule="evenodd"/>
<rect x="391.00" y="60.20" width="1.0" height="4.8" fill="#1e1e1e"/>
<clipPath id="hC"><rect x="424.90" y="151.60" width="144.00" height="100.90"/></clipPath>
<g clip-path="url(#hC)"><g filter="url(#bl)" shape-rendering="crispEdges">
<rect x="422.00" y="149.60" width="149.00" height="104.90" fill="#0b0103"/>
<rect x="521" y="149.60" width="1" height="8.73" fill="#280000"/>
<rect x="522" y="149.60" width="4" height="8.73" fill="#580000"/>
<rect x="526" y="149.60" width="2" height="8.73" fill="#280000"/>
<rect x="560" y="149.60" width="2" height="8.73" fill="#520000"/>
<rect x="562" y="149.60" width="9" height="8.73" fill="#ff1100"/>
<rect x="491" y="158.33" width="1" height="6.73" fill="#120000"/>
<rect x="492" y="158.33" width="3" height="6.73" fill="#290000"/>
<rect x="495" y="158.33" width="2" height="6.73" fill="#120000"/>
<rect x="520" y="158.33" width="2" height="6.73" fill="#330000"/>
<rect x="522" y="158.33" width="5" height="6.73" fill="#720000"/>
<rect x="527" y="158.33" width="1" height="6.73" fill="#330000"/>
<rect x="558" y="158.33" width="2" height="6.73" fill="#520000"/>
<rect x="560" y="158.33" width="11" height="6.73" fill="#ff1100"/>
<rect x="490" y="165.05" width="1" height="6.73" fill="#260000"/>
<rect x="491" y="165.05" width="5" height="6.73" fill="#550000"/>
<rect x="496" y="165.05" width="2" height="6.73" fill="#260000"/>
<rect x="519" y="165.05" width="2" height="6.73" fill="#3f0000"/>
<rect x="521" y="165.05" width="7" height="6.73" fill="#8c0000"/>
<rect x="528" y="165.05" width="1" height="6.73" fill="#3f0000"/>
<rect x="557" y="165.05" width="2" height="6.73" fill="#520000"/>
<rect x="559" y="165.05" width="7" height="6.73" fill="#ff0300"/>
<rect x="489" y="171.78" width="1" height="6.73" fill="#3a0000"/>
<rect x="490" y="171.78" width="7" height="6.73" fill="#810000"/>
<rect x="497" y="171.78" width="1" height="6.73" fill="#3a0000"/>
<rect x="518" y="171.78" width="2" height="6.73" fill="#4b0000"/>
<rect x="520" y="171.78" width="9" height="6.73" fill="#a60000"/>
<rect x="529" y="171.78" width="1" height="6.73" fill="#4b0000"/>
<rect x="554" y="171.78" width="2" height="6.73" fill="#520000"/>
<rect x="556" y="171.78" width="8" height="6.73" fill="#ee0000"/>
<rect x="488" y="178.51" width="2" height="6.73" fill="#4e0000"/>
<rect x="490" y="178.51" width="8" height="6.73" fill="#ad0000"/>
<rect x="498" y="178.51" width="1" height="6.73" fill="#4e0000"/>
<rect x="518" y="178.51" width="1" height="6.73" fill="#560000"/>
<rect x="519" y="178.51" width="10" height="6.73" fill="#c00000"/>
<rect x="529" y="178.51" width="2" height="6.73" fill="#560000"/>
<rect x="551" y="178.51" width="2" height="6.73" fill="#520000"/>
<rect x="553" y="178.51" width="9" height="6.73" fill="#cc0000"/>
<rect x="487" y="185.23" width="2" height="6.73" fill="#620000"/>
<rect x="489" y="185.23" width="10" height="6.73" fill="#da0000"/>
<rect x="499" y="185.23" width="1" height="6.73" fill="#620000"/>
<rect x="517" y="185.23" width="1" height="6.73" fill="#620000"/>
<rect x="518" y="185.23" width="12" height="6.73" fill="#da0000"/>
<rect x="530" y="185.23" width="2" height="6.73" fill="#620000"/>
<rect x="549" y="185.23" width="2" height="6.73" fill="#520000"/>
<rect x="551" y="185.23" width="8" height="6.73" fill="#cc0000"/>
<rect x="481" y="191.96" width="4" height="6.73" fill="#880000"/>
<rect x="485" y="191.96" width="14" height="6.73" fill="#ff1100"/>
<rect x="499" y="191.96" width="16" height="6.73" fill="#880000"/>
<rect x="515" y="191.96" width="5" height="6.73" fill="#ee0000"/>
<rect x="520" y="191.96" width="9" height="6.73" fill="#220000"/>
<rect x="529" y="191.96" width="6" height="6.73" fill="#ee0000"/>
<rect x="535" y="191.96" width="16" height="6.73" fill="#880000"/>
<rect x="551" y="191.96" width="9" height="6.73" fill="#ff0300"/>
<rect x="479" y="198.69" width="5" height="6.73" fill="#ff1100"/>
<rect x="484" y="198.69" width="5" height="6.73" fill="#ff8b00"/>
<rect x="489" y="198.69" width="8" height="6.73" fill="#660000"/>
<rect x="497" y="198.69" width="1" height="6.73" fill="#ff3300"/>
<rect x="498" y="198.69" width="2" height="6.73" fill="#ffff33"/>
<rect x="500" y="198.69" width="16" height="6.73" fill="#ffff99"/>
<rect x="516" y="198.69" width="2" height="6.73" fill="#ffff33"/>
<rect x="518" y="198.69" width="12" height="6.73" fill="#1b0000"/>
<rect x="530" y="198.69" width="2" height="6.73" fill="#ffeb00"/>
<rect x="532" y="198.69" width="18" height="6.73" fill="#ffff33"/>
<rect x="550" y="198.69" width="1" height="6.73" fill="#ffdd00"/>
<rect x="551" y="198.69" width="1" height="6.73" fill="#ff0300"/>
<rect x="552" y="198.69" width="1" height="6.73" fill="#e90000"/>
<rect x="553" y="198.69" width="1" height="6.73" fill="#d00000"/>
<rect x="554" y="198.69" width="1" height="6.73" fill="#b70000"/>
<rect x="555" y="198.69" width="1" height="6.73" fill="#9d0000"/>
<rect x="556" y="198.69" width="1" height="6.73" fill="#840000"/>
<rect x="557" y="198.69" width="1" height="6.73" fill="#6b0000"/>
<rect x="558" y="198.69" width="1" height="6.73" fill="#520000"/>
<rect x="464" y="205.41" width="6" height="6.73" fill="#880000"/>
<rect x="470" y="205.41" width="5" height="6.73" fill="#ff7700"/>
<rect x="475" y="205.41" width="7" height="6.73" fill="#ffa700"/>
<rect x="482" y="205.41" width="5" height="6.73" fill="#ff0300"/>
<rect x="425" y="212.14" width="42" height="6.73" fill="#ffffff"/>
<rect x="467" y="212.14" width="1" height="6.73" fill="#ffff99"/>
<rect x="468" y="212.14" width="1" height="6.73" fill="#ffff5c"/>
<rect x="469" y="212.14" width="1" height="6.73" fill="#ffff1f"/>
<rect x="470" y="212.14" width="1" height="6.73" fill="#ffeb00"/>
<rect x="471" y="212.14" width="4" height="6.73" fill="#ff3300"/>
<rect x="475" y="212.14" width="1" height="6.73" fill="#ee0000"/>
<rect x="476" y="212.14" width="1" height="6.73" fill="#cc0000"/>
<rect x="477" y="212.14" width="1" height="6.73" fill="#aa0000"/>
<rect x="478" y="212.14" width="1" height="6.73" fill="#880000"/>
<rect x="479" y="212.14" width="1" height="6.73" fill="#660000"/>
</g></g>
<rect x="424.90" y="151.60" width="144.00" height="100.90" fill="none" stroke="#1a1a1a" stroke-width="0.8"/>
<line x1="451.40" y1="152.00" x2="451.40" y2="153.60" stroke="#5a5a5a" stroke-width="0.8"/>
<line x1="451.40" y1="252.10" x2="451.40" y2="250.50" stroke="#5a5a5a" stroke-width="0.8"/>
<line x1="478.00" y1="152.00" x2="478.00" y2="153.60" stroke="#5a5a5a" stroke-width="0.8"/>
<line x1="478.00" y1="252.10" x2="478.00" y2="250.50" stroke="#5a5a5a" stroke-width="0.8"/>
<line x1="504.60" y1="152.00" x2="504.60" y2="153.60" stroke="#5a5a5a" stroke-width="0.8"/>
<line x1="504.60" y1="252.10" x2="504.60" y2="250.50" stroke="#5a5a5a" stroke-width="0.8"/>
<line x1="531.60" y1="152.00" x2="531.60" y2="153.60" stroke="#5a5a5a" stroke-width="0.8"/>
<line x1="531.60" y1="252.10" x2="531.60" y2="250.50" stroke="#5a5a5a" stroke-width="0.8"/>
<line x1="558.20" y1="152.00" x2="558.20" y2="153.60" stroke="#5a5a5a" stroke-width="0.8"/>
<line x1="558.20" y1="252.10" x2="558.20" y2="250.50" stroke="#5a5a5a" stroke-width="0.8"/>
<text x="450.80" y="264.2" font-size="9" fill="#353535" text-anchor="middle">100</text>
<text x="477.40" y="264.2" font-size="9" fill="#353535" text-anchor="middle">200</text>
<text x="504.00" y="264.2" font-size="9" fill="#353535" text-anchor="middle">300</text>
<text x="531.00" y="264.2" font-size="9" fill="#353535" text-anchor="middle">400</text>
<text x="557.60" y="264.2" font-size="9" fill="#353535" text-anchor="middle">500</text>
<text x="420.60" y="185.07" font-size="9" fill="#353535" text-anchor="end">5</text>
<text x="420.60" y="218.70" font-size="9" fill="#353535" text-anchor="end">10</text>
<text x="420.60" y="252.34" font-size="9" fill="#353535" text-anchor="end">15</text>
<text x="495.10" y="276.0" font-size="10" fill="#353535" text-anchor="middle">Samples</text>
<text transform="translate(403.80,201.65) rotate(-90)" font-size="12" fill="#353535" text-anchor="middle" letter-spacing="0.82" style="font-family:'Liberation Serif',serif"><tspan font-style="italic">&#954;</tspan><tspan dx="2.2"> state number</tspan></text>
<text x="582.8" y="9.7" font-size="12" font-weight="bold" fill="#000">D</text>
<clipPath id="cD"><rect x="616.90" y="12.90" width="144.30" height="99.95"/></clipPath>
<g clip-path="url(#cD)">
<circle cx="623.5" cy="46.1" r="0.85" fill="#d81616"/>
<circle cx="625.0" cy="47.8" r="0.85" fill="#d81616"/>
<circle cx="623.6" cy="49.7" r="0.85" fill="#d81616"/>
<circle cx="632.6" cy="46.4" r="0.85" fill="#d81616"/>
<circle cx="633.1" cy="47.6" r="0.85" fill="#d81616"/>
<circle cx="634.8" cy="49.2" r="0.85" fill="#d81616"/>
<circle cx="635.9" cy="50.6" r="0.85" fill="#d81616"/>
<circle cx="637.3" cy="51.5" r="0.85" fill="#d81616"/>
<circle cx="638.4" cy="52.7" r="0.85" fill="#d81616"/>
<circle cx="639.0" cy="52.3" r="0.85" fill="#d81616"/>
<circle cx="640.1" cy="54.0" r="0.85" fill="#d81616"/>
<circle cx="642.0" cy="53.2" r="0.85" fill="#d81616"/>
<circle cx="643.2" cy="52.4" r="0.85" fill="#d81616"/>
<circle cx="635.0" cy="51.6" r="0.85" fill="#d81616"/>
<circle cx="636.5" cy="53.1" r="0.85" fill="#d81616"/>
<circle cx="637.1" cy="55.1" r="0.85" fill="#d81616"/>
<circle cx="639.7" cy="56.7" r="0.85" fill="#d81616"/>
<circle cx="637.6" cy="57.5" r="0.85" fill="#d81616"/>
<circle cx="640.7" cy="56.1" r="0.85" fill="#d81616"/>
<circle cx="649.5" cy="46.7" r="0.85" fill="#d81616"/>
<circle cx="649.0" cy="46.3" r="0.85" fill="#d81616"/>
<circle cx="651.2" cy="52.0" r="0.85" fill="#d81616"/>
<circle cx="653.8" cy="52.5" r="0.85" fill="#d81616"/>
<circle cx="656.2" cy="52.6" r="0.85" fill="#d81616"/>
<circle cx="624.8" cy="57.7" r="0.85" fill="#d81616"/>
<circle cx="623.5" cy="60.6" r="0.85" fill="#d81616"/>
<circle cx="621.3" cy="60.9" r="0.85" fill="#d81616"/>
<circle cx="621.8" cy="63.1" r="0.85" fill="#d81616"/>
<circle cx="625.9" cy="60.1" r="0.85" fill="#d81616"/>
<circle cx="628.5" cy="59.4" r="0.85" fill="#d81616"/>
<circle cx="628.9" cy="55.9" r="0.85" fill="#d81616"/>
<circle cx="628.1" cy="64.8" r="0.85" fill="#d81616"/>
<circle cx="629.5" cy="64.2" r="0.85" fill="#d81616"/>
<circle cx="633.1" cy="60.7" r="0.85" fill="#d81616"/>
<circle cx="637.7" cy="60.3" r="0.85" fill="#d81616"/>
<circle cx="641.0" cy="61.9" r="0.85" fill="#d81616"/>
<circle cx="641.6" cy="63.0" r="0.85" fill="#d81616"/>
<circle cx="643.6" cy="65.9" r="0.85" fill="#d81616"/>
<circle cx="644.9" cy="66.7" r="0.85" fill="#d81616"/>
<circle cx="645.6" cy="66.5" r="0.85" fill="#d81616"/>
<circle cx="646.6" cy="67.3" r="0.85" fill="#d81616"/>
<circle cx="648.2" cy="66.4" r="0.85" fill="#d81616"/>
<circle cx="640.5" cy="69.5" r="0.85" fill="#d81616"/>
<circle cx="644.4" cy="68.4" r="0.85" fill="#d81616"/>
<circle cx="645.3" cy="70.9" r="0.85" fill="#d81616"/>
<circle cx="646.6" cy="72.0" r="0.85" fill="#d81616"/>
<circle cx="646.2" cy="74.4" r="0.85" fill="#d81616"/>
<circle cx="646.6" cy="75.5" r="0.85" fill="#d81616"/>
<circle cx="647.0" cy="58.9" r="0.85" fill="#d81616"/>
<circle cx="648.6" cy="59.1" r="0.85" fill="#d81616"/>
<circle cx="650.0" cy="61.3" r="0.85" fill="#d81616"/>
<circle cx="651.1" cy="61.7" r="0.85" fill="#d81616"/>
<circle cx="651.3" cy="62.2" r="0.85" fill="#d81616"/>
<circle cx="653.1" cy="63.1" r="0.85" fill="#d81616"/>
<circle cx="653.9" cy="64.6" r="0.85" fill="#d81616"/>
<circle cx="654.5" cy="66.1" r="0.85" fill="#d81616"/>
<circle cx="650.8" cy="58.7" r="0.85" fill="#d81616"/>
<circle cx="652.4" cy="57.0" r="0.85" fill="#d81616"/>
<circle cx="653.7" cy="56.0" r="0.85" fill="#d81616"/>
<circle cx="655.5" cy="59.7" r="0.85" fill="#d81616"/>
<circle cx="656.3" cy="61.5" r="0.85" fill="#d81616"/>
<circle cx="656.1" cy="63.0" r="0.85" fill="#d81616"/>
<circle cx="657.0" cy="63.2" r="0.85" fill="#d81616"/>
<circle cx="658.4" cy="64.8" r="0.85" fill="#d81616"/>
<circle cx="661.2" cy="57.3" r="0.85" fill="#d81616"/>
<circle cx="663.1" cy="59.6" r="0.85" fill="#d81616"/>
<circle cx="663.3" cy="62.2" r="0.85" fill="#d81616"/>
<circle cx="665.5" cy="63.4" r="0.85" fill="#d81616"/>
<circle cx="665.8" cy="64.7" r="0.85" fill="#d81616"/>
<circle cx="667.1" cy="59.5" r="0.85" fill="#d81616"/>
<circle cx="668.2" cy="60.1" r="0.85" fill="#d81616"/>
<circle cx="668.4" cy="58.5" r="0.85" fill="#d81616"/>
<circle cx="662.4" cy="66.3" r="0.85" fill="#d81616"/>
<circle cx="663.1" cy="67.2" r="0.85" fill="#d81616"/>
<circle cx="664.9" cy="68.3" r="0.85" fill="#d81616"/>
<circle cx="665.9" cy="69.9" r="0.85" fill="#d81616"/>
<circle cx="661.1" cy="68.2" r="0.85" fill="#d81616"/>
<circle cx="657.7" cy="70.7" r="0.85" fill="#d81616"/>
<circle cx="659.0" cy="71.2" r="0.85" fill="#d81616"/>
<circle cx="661.8" cy="71.8" r="0.85" fill="#d81616"/>
<circle cx="667.3" cy="67.6" r="0.85" fill="#d81616"/>
<circle cx="667.9" cy="70.7" r="0.85" fill="#d81616"/>
<circle cx="668.3" cy="70.5" r="0.85" fill="#d81616"/>
<circle cx="661.7" cy="76.4" r="0.85" fill="#d81616"/>
<circle cx="617.4" cy="63.3" r="0.85" fill="#d81616"/>
<circle cx="617.4" cy="64.3" r="0.85" fill="#d81616"/>
<circle cx="619.1" cy="66.5" r="0.85" fill="#d81616"/>
<circle cx="619.0" cy="70.0" r="0.85" fill="#d81616"/>
<circle cx="620.3" cy="70.7" r="0.85" fill="#d81616"/>
<circle cx="621.0" cy="72.4" r="0.85" fill="#d81616"/>
<circle cx="621.2" cy="75.3" r="0.85" fill="#d81616"/>
<circle cx="625.4" cy="71.2" r="0.85" fill="#d81616"/>
<circle cx="626.4" cy="72.0" r="0.85" fill="#d81616"/>
<circle cx="627.0" cy="74.2" r="0.85" fill="#d81616"/>
<circle cx="626.0" cy="73.6" r="0.85" fill="#d81616"/>
<circle cx="627.0" cy="74.7" r="0.85" fill="#d81616"/>
<circle cx="630.6" cy="71.8" r="0.85" fill="#d81616"/>
<circle cx="630.6" cy="69.2" r="0.85" fill="#d81616"/>
<circle cx="631.8" cy="77.7" r="0.85" fill="#d81616"/>
<circle cx="623.3" cy="77.5" r="0.85" fill="#d81616"/>
<circle cx="676.1" cy="60.6" r="0.85" fill="#d81616"/>
<circle cx="676.0" cy="65.7" r="0.85" fill="#d81616"/>
<circle cx="678.0" cy="67.2" r="0.85" fill="#d81616"/>
<circle cx="678.2" cy="67.9" r="0.85" fill="#d81616"/>
<circle cx="679.0" cy="69.8" r="0.85" fill="#d81616"/>
<circle cx="680.0" cy="71.1" r="0.85" fill="#d81616"/>
<circle cx="680.1" cy="72.6" r="0.85" fill="#d81616"/>
<circle cx="677.4" cy="72.4" r="0.85" fill="#d81616"/>
<circle cx="681.2" cy="75.4" r="0.85" fill="#d81616"/>
<circle cx="675.0" cy="67.9" r="0.85" fill="#d81616"/>
<circle cx="681.7" cy="53.8" r="0.85" fill="#d81616"/>
<circle cx="682.7" cy="56.6" r="0.85" fill="#d81616"/>
<circle cx="683.4" cy="57.1" r="0.85" fill="#d81616"/>
<circle cx="684.6" cy="58.2" r="0.85" fill="#d81616"/>
<circle cx="685.6" cy="56.8" r="0.85" fill="#d81616"/>
<circle cx="687.1" cy="55.0" r="0.85" fill="#d81616"/>
<circle cx="687.6" cy="53.9" r="0.85" fill="#d81616"/>
<circle cx="686.7" cy="50.6" r="0.85" fill="#d81616"/>
<circle cx="686.0" cy="51.5" r="0.85" fill="#d81616"/>
<circle cx="688.9" cy="46.4" r="0.85" fill="#d81616"/>
<circle cx="683.3" cy="60.6" r="0.85" fill="#d81616"/>
<circle cx="681.9" cy="63.0" r="0.85" fill="#d81616"/>
<circle cx="684.0" cy="63.2" r="0.85" fill="#d81616"/>
<circle cx="688.8" cy="56.4" r="0.85" fill="#d81616"/>
<circle cx="691.3" cy="57.4" r="0.85" fill="#d81616"/>
<circle cx="692.7" cy="62.5" r="0.85" fill="#d81616"/>
<circle cx="682.6" cy="66.8" r="0.85" fill="#d81616"/>
<circle cx="685.2" cy="66.8" r="0.85" fill="#d81616"/>
<circle cx="690.9" cy="72.0" r="0.85" fill="#d81616"/>
<circle cx="692.6" cy="74.1" r="0.85" fill="#d81616"/>
<circle cx="693.0" cy="75.2" r="0.85" fill="#d81616"/>
<circle cx="694.2" cy="76.1" r="0.85" fill="#d81616"/>
<circle cx="690.6" cy="76.4" r="0.85" fill="#d81616"/>
<circle cx="694.5" cy="72.0" r="0.85" fill="#d81616"/>
<circle cx="695.5" cy="77.2" r="0.85" fill="#d81616"/>
<circle cx="630.5" cy="24.2" r="0.85" fill="#d81616"/>
<circle cx="623.0" cy="34.7" r="0.85" fill="#d81616"/>
<circle cx="630.4" cy="36.1" r="0.85" fill="#d81616"/>
<circle cx="633.1" cy="41.5" r="0.85" fill="#d81616"/>
<circle cx="633.4" cy="42.9" r="0.85" fill="#d81616"/>
<circle cx="670.4" cy="12.8" r="0.85" fill="#d81616"/>
<circle cx="675.0" cy="13.1" r="0.85" fill="#d81616"/>
<circle cx="675.3" cy="13.2" r="0.85" fill="#d81616"/>
<circle cx="670.7" cy="15.5" r="0.85" fill="#d81616"/>
<circle cx="670.3" cy="17.3" r="0.85" fill="#d81616"/>
<circle cx="669.7" cy="20.0" r="0.85" fill="#d81616"/>
<circle cx="674.1" cy="19.0" r="0.85" fill="#d81616"/>
<circle cx="674.4" cy="19.9" r="0.85" fill="#d81616"/>
<circle cx="679.0" cy="29.4" r="0.85" fill="#d81616"/>
<circle cx="689.9" cy="20.8" r="0.85" fill="#d81616"/>
<circle cx="690.2" cy="33.6" r="0.85" fill="#d81616"/>
<circle cx="691.7" cy="36.9" r="0.85" fill="#d81616"/>
<circle cx="675.2" cy="40.0" r="0.85" fill="#d81616"/>
<circle cx="682.1" cy="42.9" r="0.85" fill="#d81616"/>
<circle cx="685.1" cy="42.8" r="0.85" fill="#d81616"/>
<circle cx="690.0" cy="43.5" r="0.85" fill="#d81616"/>
<circle cx="663.1" cy="43.6" r="0.85" fill="#d81616"/>
<circle cx="623.7" cy="34.2" r="0.85" fill="#d81616"/>
<circle cx="630.3" cy="35.0" r="0.85" fill="#d81616"/>
<circle cx="631.0" cy="41.6" r="0.85" fill="#d81616"/>
<circle cx="631.1" cy="43.4" r="0.85" fill="#d81616"/>
<circle cx="632.3" cy="44.1" r="0.85" fill="#d81616"/>
<circle cx="622.3" cy="46.0" r="0.85" fill="#d81616"/>
<circle cx="625.9" cy="47.4" r="0.85" fill="#d81616"/>
<circle cx="623.7" cy="49.5" r="0.85" fill="#d81616"/>
<circle cx="648.1" cy="44.9" r="0.85" fill="#d81616"/>
<circle cx="649.3" cy="45.8" r="0.85" fill="#d81616"/>
<circle cx="650.9" cy="47.2" r="0.85" fill="#d81616"/>
<circle cx="649.4" cy="44.9" r="0.85" fill="#d81616"/>
<circle cx="674.7" cy="30.6" r="0.85" fill="#d81616"/>
<circle cx="675.7" cy="40.5" r="0.85" fill="#d81616"/>
<circle cx="674.7" cy="45.0" r="0.85" fill="#d81616"/>
<circle cx="682.7" cy="40.9" r="0.85" fill="#d81616"/>
<circle cx="686.5" cy="41.1" r="0.85" fill="#d81616"/>
<circle cx="689.7" cy="43.1" r="0.85" fill="#d81616"/>
<circle cx="691.8" cy="43.9" r="0.85" fill="#d81616"/>
<circle cx="693.2" cy="37.8" r="0.85" fill="#d81616"/>
<circle cx="618.3" cy="79.9" r="0.85" fill="#d81616"/>
<circle cx="621.4" cy="80.5" r="0.85" fill="#d81616"/>
<circle cx="621.6" cy="80.5" r="0.85" fill="#d81616"/>
<circle cx="629.4" cy="80.1" r="0.85" fill="#d81616"/>
<circle cx="630.1" cy="80.5" r="0.85" fill="#d81616"/>
<circle cx="627.9" cy="81.7" r="0.85" fill="#d81616"/>
<circle cx="620.7" cy="86.0" r="0.85" fill="#d81616"/>
<circle cx="624.7" cy="88.5" r="0.85" fill="#d81616"/>
<circle cx="627.4" cy="85.4" r="0.85" fill="#d81616"/>
<circle cx="646.5" cy="78.1" r="0.85" fill="#d81616"/>
<circle cx="660.7" cy="78.7" r="0.85" fill="#d81616"/>
<circle cx="664.0" cy="80.0" r="0.85" fill="#d81616"/>
<circle cx="665.9" cy="78.7" r="0.85" fill="#d81616"/>
<circle cx="660.6" cy="85.9" r="0.85" fill="#d81616"/>
<circle cx="663.1" cy="85.2" r="0.85" fill="#d81616"/>
<circle cx="649.7" cy="92.7" r="0.85" fill="#d81616"/>
<circle cx="631.2" cy="96.7" r="0.85" fill="#d81616"/>
<circle cx="628.7" cy="102.0" r="0.85" fill="#d81616"/>
<circle cx="671.0" cy="97.9" r="0.85" fill="#d81616"/>
<circle cx="670.3" cy="101.1" r="0.85" fill="#d81616"/>
<circle cx="671.7" cy="102.2" r="0.85" fill="#d81616"/>
<circle cx="673.3" cy="106.2" r="0.85" fill="#d81616"/>
<circle cx="675.8" cy="103.0" r="0.85" fill="#d81616"/>
<circle cx="671.2" cy="107.9" r="0.85" fill="#d81616"/>
<circle cx="671.9" cy="110.4" r="0.85" fill="#d81616"/>
<circle cx="670.5" cy="111.0" r="0.85" fill="#d81616"/>
<circle cx="673.3" cy="112.0" r="0.85" fill="#d81616"/>
<circle cx="674.0" cy="112.4" r="0.85" fill="#d81616"/>
<circle cx="678.3" cy="80.3" r="0.85" fill="#d81616"/>
<circle cx="680.5" cy="78.1" r="0.85" fill="#d81616"/>
<circle cx="679.3" cy="80.9" r="0.85" fill="#d81616"/>
<circle cx="691.8" cy="80.6" r="0.85" fill="#d81616"/>
<circle cx="692.9" cy="80.8" r="0.85" fill="#d81616"/>
<circle cx="692.0" cy="93.7" r="0.85" fill="#d81616"/>
<circle cx="692.2" cy="108.9" r="0.85" fill="#d81616"/>
<circle cx="631.1" cy="42.2" r="0.85" fill="#d81616"/>
<circle cx="631.7" cy="45.2" r="0.85" fill="#d81616"/>
<circle cx="632.4" cy="46.4" r="0.85" fill="#d81616"/>
<circle cx="632.7" cy="47.4" r="0.85" fill="#d81616"/>
<circle cx="633.7" cy="44.7" r="0.85" fill="#d81616"/>
<circle cx="633.9" cy="47.3" r="0.85" fill="#d81616"/>
<circle cx="634.6" cy="45.1" r="0.85" fill="#d81616"/>
<circle cx="634.9" cy="52.1" r="0.85" fill="#d81616"/>
<circle cx="635.4" cy="49.9" r="0.85" fill="#d81616"/>
<circle cx="636.3" cy="50.2" r="0.85" fill="#d81616"/>
<circle cx="636.5" cy="50.7" r="0.85" fill="#d81616"/>
<circle cx="636.9" cy="48.7" r="0.85" fill="#d81616"/>
<circle cx="637.4" cy="53.3" r="0.85" fill="#d81616"/>
<circle cx="638.0" cy="53.8" r="0.85" fill="#d81616"/>
<circle cx="638.6" cy="54.7" r="0.85" fill="#d81616"/>
<circle cx="639.2" cy="58.7" r="0.85" fill="#d81616"/>
<circle cx="639.6" cy="59.0" r="0.85" fill="#d81616"/>
<circle cx="640.4" cy="57.2" r="0.85" fill="#d81616"/>
<circle cx="641.1" cy="58.5" r="0.85" fill="#d81616"/>
<circle cx="641.6" cy="59.6" r="0.85" fill="#d81616"/>
<circle cx="641.8" cy="66.6" r="0.85" fill="#d81616"/>
<circle cx="642.5" cy="55.5" r="0.85" fill="#d81616"/>
<circle cx="643.1" cy="63.0" r="0.85" fill="#d81616"/>
<circle cx="643.6" cy="65.1" r="0.85" fill="#d81616"/>
<circle cx="644.1" cy="65.6" r="0.85" fill="#d81616"/>
<circle cx="644.6" cy="63.1" r="0.85" fill="#d81616"/>
<circle cx="645.1" cy="69.1" r="0.85" fill="#d81616"/>
<circle cx="645.8" cy="61.0" r="0.85" fill="#d81616"/>
<circle cx="646.0" cy="64.9" r="0.85" fill="#d81616"/>
<circle cx="646.8" cy="65.7" r="0.85" fill="#d81616"/>
<circle cx="649.2" cy="47.7" r="0.85" fill="#d81616"/>
<circle cx="650.3" cy="52.2" r="0.85" fill="#d81616"/>
<circle cx="650.6" cy="50.9" r="0.85" fill="#d81616"/>
<circle cx="651.4" cy="54.1" r="0.85" fill="#d81616"/>
<circle cx="652.2" cy="62.5" r="0.85" fill="#d81616"/>
<circle cx="653.0" cy="56.1" r="0.85" fill="#d81616"/>
<circle cx="653.0" cy="56.9" r="0.85" fill="#d81616"/>
<circle cx="654.0" cy="64.9" r="0.85" fill="#d81616"/>
<circle cx="654.4" cy="53.0" r="0.85" fill="#d81616"/>
<circle cx="655.2" cy="54.1" r="0.85" fill="#d81616"/>
<circle cx="655.9" cy="63.6" r="0.85" fill="#d81616"/>
<circle cx="656.5" cy="67.7" r="0.85" fill="#d81616"/>
<circle cx="657.2" cy="62.4" r="0.85" fill="#d81616"/>
<circle cx="657.7" cy="62.4" r="0.85" fill="#d81616"/>
<circle cx="658.3" cy="60.0" r="0.85" fill="#d81616"/>
<circle cx="659.2" cy="63.1" r="0.85" fill="#d81616"/>
<circle cx="660.1" cy="62.5" r="0.85" fill="#d81616"/>
<circle cx="660.5" cy="69.5" r="0.85" fill="#d81616"/>
<circle cx="661.3" cy="62.5" r="0.85" fill="#d81616"/>
<circle cx="662.0" cy="70.2" r="0.85" fill="#d81616"/>
<circle cx="662.5" cy="71.9" r="0.85" fill="#d81616"/>
<circle cx="663.2" cy="65.8" r="0.85" fill="#d81616"/>
<circle cx="664.1" cy="68.1" r="0.85" fill="#d81616"/>
<circle cx="664.5" cy="69.4" r="0.85" fill="#d81616"/>
<circle cx="680.3" cy="41.9" r="0.85" fill="#d81616"/>
<circle cx="680.9" cy="47.6" r="0.85" fill="#d81616"/>
<circle cx="681.8" cy="49.8" r="0.85" fill="#d81616"/>
<circle cx="682.4" cy="51.8" r="0.85" fill="#d81616"/>
<circle cx="682.9" cy="51.9" r="0.85" fill="#d81616"/>
<circle cx="683.3" cy="49.3" r="0.85" fill="#d81616"/>
<circle cx="683.9" cy="52.5" r="0.85" fill="#d81616"/>
<circle cx="684.7" cy="53.9" r="0.85" fill="#d81616"/>
<circle cx="685.2" cy="47.1" r="0.85" fill="#d81616"/>
<circle cx="686.2" cy="51.9" r="0.85" fill="#d81616"/>
<circle cx="686.7" cy="55.0" r="0.85" fill="#d81616"/>
<circle cx="687.4" cy="60.2" r="0.85" fill="#d81616"/>
<circle cx="687.6" cy="59.0" r="0.85" fill="#d81616"/>
<circle cx="688.4" cy="57.3" r="0.85" fill="#d81616"/>
<circle cx="689.1" cy="65.2" r="0.85" fill="#d81616"/>
<circle cx="689.9" cy="60.6" r="0.85" fill="#d81616"/>
<circle cx="617.3" cy="69.7" r="0.85" fill="#d81616"/>
<circle cx="619.3" cy="84.1" r="0.85" fill="#d81616"/>
<circle cx="621.0" cy="78.7" r="0.85" fill="#d81616"/>
<circle cx="620.2" cy="59.7" r="0.85" fill="#d81616"/>
<circle cx="621.5" cy="68.0" r="0.85" fill="#d81616"/>
<circle cx="619.7" cy="58.0" r="0.85" fill="#d81616"/>
<circle cx="618.2" cy="80.3" r="0.85" fill="#d81616"/>
<circle cx="617.2" cy="57.6" r="0.85" fill="#d81616"/>
<circle cx="618.3" cy="65.5" r="0.85" fill="#d81616"/>
<circle cx="619.2" cy="69.5" r="0.85" fill="#d81616"/>
<circle cx="694.2" cy="52.3" r="0.85" fill="#111111"/>
<circle cx="694.5" cy="53.9" r="0.85" fill="#111111"/>
<circle cx="694.7" cy="53.8" r="0.85" fill="#111111"/>
<circle cx="695.1" cy="57.2" r="0.85" fill="#111111"/>
<circle cx="695.5" cy="50.1" r="0.85" fill="#111111"/>
<circle cx="695.8" cy="58.7" r="0.85" fill="#111111"/>
<circle cx="695.8" cy="58.5" r="0.85" fill="#111111"/>
<circle cx="696.3" cy="59.3" r="0.85" fill="#111111"/>
<circle cx="696.5" cy="64.1" r="0.85" fill="#111111"/>
<circle cx="696.9" cy="57.7" r="0.85" fill="#111111"/>
<circle cx="697.1" cy="61.5" r="0.85" fill="#111111"/>
<circle cx="697.5" cy="62.4" r="0.85" fill="#111111"/>
<circle cx="697.7" cy="63.2" r="0.85" fill="#111111"/>
<circle cx="698.0" cy="61.2" r="0.85" fill="#111111"/>
<circle cx="698.3" cy="65.4" r="0.85" fill="#111111"/>
<circle cx="698.6" cy="64.8" r="0.85" fill="#111111"/>
<circle cx="698.8" cy="68.0" r="0.85" fill="#111111"/>
<circle cx="699.1" cy="63.3" r="0.85" fill="#111111"/>
<circle cx="699.3" cy="67.7" r="0.85" fill="#111111"/>
<circle cx="699.8" cy="70.8" r="0.85" fill="#111111"/>
<circle cx="700.0" cy="69.6" r="0.85" fill="#111111"/>
<circle cx="700.4" cy="68.9" r="0.85" fill="#111111"/>
<circle cx="700.6" cy="56.5" r="0.85" fill="#111111"/>
<circle cx="701.0" cy="55.6" r="0.85" fill="#111111"/>
<circle cx="701.1" cy="55.3" r="0.85" fill="#111111"/>
<circle cx="701.5" cy="54.9" r="0.85" fill="#111111"/>
<circle cx="701.8" cy="55.6" r="0.85" fill="#111111"/>
<circle cx="701.8" cy="56.2" r="0.85" fill="#111111"/>
<circle cx="702.2" cy="52.2" r="0.85" fill="#111111"/>
<circle cx="702.7" cy="51.0" r="0.85" fill="#111111"/>
<circle cx="702.9" cy="50.7" r="0.85" fill="#111111"/>
<circle cx="703.0" cy="50.2" r="0.85" fill="#111111"/>
<circle cx="703.2" cy="49.9" r="0.85" fill="#111111"/>
<circle cx="703.7" cy="50.5" r="0.85" fill="#111111"/>
<circle cx="703.8" cy="49.4" r="0.85" fill="#111111"/>
<circle cx="704.1" cy="49.4" r="0.85" fill="#111111"/>
<circle cx="704.3" cy="51.1" r="0.85" fill="#111111"/>
<circle cx="704.5" cy="47.7" r="0.85" fill="#111111"/>
<circle cx="704.7" cy="49.1" r="0.85" fill="#111111"/>
<circle cx="705.2" cy="43.1" r="0.85" fill="#111111"/>
<circle cx="705.3" cy="46.6" r="0.85" fill="#111111"/>
<circle cx="705.8" cy="45.5" r="0.85" fill="#111111"/>
<circle cx="706.0" cy="46.9" r="0.85" fill="#111111"/>
<circle cx="706.1" cy="47.1" r="0.85" fill="#111111"/>
<circle cx="706.4" cy="50.2" r="0.85" fill="#111111"/>
<circle cx="706.7" cy="51.3" r="0.85" fill="#111111"/>
<circle cx="707.2" cy="49.9" r="0.85" fill="#111111"/>
<circle cx="707.4" cy="48.8" r="0.85" fill="#111111"/>
<circle cx="707.4" cy="54.2" r="0.85" fill="#111111"/>
<circle cx="707.6" cy="54.6" r="0.85" fill="#111111"/>
<circle cx="708.1" cy="53.7" r="0.85" fill="#111111"/>
<circle cx="708.1" cy="53.4" r="0.85" fill="#111111"/>
<circle cx="708.6" cy="56.5" r="0.85" fill="#111111"/>
<circle cx="708.9" cy="60.9" r="0.85" fill="#111111"/>
<circle cx="709.2" cy="61.6" r="0.85" fill="#111111"/>
<circle cx="709.4" cy="61.8" r="0.85" fill="#111111"/>
<circle cx="709.6" cy="62.4" r="0.85" fill="#111111"/>
<circle cx="710.0" cy="61.8" r="0.85" fill="#111111"/>
<circle cx="710.2" cy="58.8" r="0.85" fill="#111111"/>
<circle cx="710.2" cy="61.3" r="0.85" fill="#111111"/>
<circle cx="710.5" cy="66.2" r="0.85" fill="#111111"/>
<circle cx="710.8" cy="68.2" r="0.85" fill="#111111"/>
<circle cx="711.3" cy="64.8" r="0.85" fill="#111111"/>
<circle cx="711.4" cy="66.5" r="0.85" fill="#111111"/>
<circle cx="711.6" cy="62.0" r="0.85" fill="#111111"/>
<circle cx="711.9" cy="62.4" r="0.85" fill="#111111"/>
<circle cx="712.1" cy="60.8" r="0.85" fill="#111111"/>
<circle cx="712.4" cy="60.0" r="0.85" fill="#111111"/>
<circle cx="712.8" cy="63.0" r="0.85" fill="#111111"/>
<circle cx="713.2" cy="65.2" r="0.85" fill="#111111"/>
<circle cx="713.4" cy="64.5" r="0.85" fill="#111111"/>
<circle cx="713.8" cy="62.5" r="0.85" fill="#111111"/>
<circle cx="713.8" cy="62.6" r="0.85" fill="#111111"/>
<circle cx="714.0" cy="63.0" r="0.85" fill="#111111"/>
<circle cx="714.2" cy="63.2" r="0.85" fill="#111111"/>
<circle cx="714.8" cy="63.6" r="0.85" fill="#111111"/>
<circle cx="714.8" cy="65.7" r="0.85" fill="#111111"/>
<circle cx="715.0" cy="65.4" r="0.85" fill="#111111"/>
<circle cx="715.3" cy="65.0" r="0.85" fill="#111111"/>
<circle cx="715.7" cy="62.9" r="0.85" fill="#111111"/>
<circle cx="716.1" cy="62.2" r="0.85" fill="#111111"/>
<circle cx="716.2" cy="60.5" r="0.85" fill="#111111"/>
<circle cx="716.5" cy="58.7" r="0.85" fill="#111111"/>
<circle cx="716.8" cy="60.0" r="0.85" fill="#111111"/>
<circle cx="716.8" cy="60.3" r="0.85" fill="#111111"/>
<circle cx="717.4" cy="61.6" r="0.85" fill="#111111"/>
<circle cx="717.6" cy="62.0" r="0.85" fill="#111111"/>
<circle cx="717.8" cy="58.2" r="0.85" fill="#111111"/>
<circle cx="717.9" cy="61.8" r="0.85" fill="#111111"/>
<circle cx="718.3" cy="64.9" r="0.85" fill="#111111"/>
<circle cx="718.5" cy="64.7" r="0.85" fill="#111111"/>
<circle cx="718.8" cy="64.8" r="0.85" fill="#111111"/>
<circle cx="719.0" cy="62.8" r="0.85" fill="#111111"/>
<circle cx="719.5" cy="59.8" r="0.85" fill="#111111"/>
<circle cx="719.4" cy="59.8" r="0.85" fill="#111111"/>
<circle cx="719.9" cy="56.6" r="0.85" fill="#111111"/>
<circle cx="720.0" cy="59.0" r="0.85" fill="#111111"/>
<circle cx="720.6" cy="58.3" r="0.85" fill="#111111"/>
<circle cx="720.8" cy="57.5" r="0.85" fill="#111111"/>
<circle cx="720.9" cy="59.4" r="0.85" fill="#111111"/>
<circle cx="721.2" cy="59.4" r="0.85" fill="#111111"/>
<circle cx="721.6" cy="60.1" r="0.85" fill="#111111"/>
<circle cx="721.6" cy="57.1" r="0.85" fill="#111111"/>
<circle cx="721.9" cy="59.5" r="0.85" fill="#111111"/>
<circle cx="722.3" cy="57.0" r="0.85" fill="#111111"/>
<circle cx="722.7" cy="55.3" r="0.85" fill="#111111"/>
<circle cx="722.6" cy="55.4" r="0.85" fill="#111111"/>
<circle cx="723.1" cy="56.5" r="0.85" fill="#111111"/>
<circle cx="723.1" cy="55.3" r="0.85" fill="#111111"/>
<circle cx="723.4" cy="56.9" r="0.85" fill="#111111"/>
<circle cx="723.8" cy="53.6" r="0.85" fill="#111111"/>
<circle cx="724.3" cy="55.6" r="0.85" fill="#111111"/>
<circle cx="724.5" cy="53.1" r="0.85" fill="#111111"/>
<circle cx="724.5" cy="52.1" r="0.85" fill="#111111"/>
<circle cx="724.9" cy="49.4" r="0.85" fill="#111111"/>
<circle cx="725.1" cy="48.3" r="0.85" fill="#111111"/>
<circle cx="725.3" cy="51.4" r="0.85" fill="#111111"/>
<circle cx="725.7" cy="52.5" r="0.85" fill="#111111"/>
<circle cx="726.0" cy="47.6" r="0.85" fill="#111111"/>
<circle cx="726.2" cy="47.5" r="0.85" fill="#111111"/>
<circle cx="726.5" cy="49.4" r="0.85" fill="#111111"/>
<circle cx="726.8" cy="48.3" r="0.85" fill="#111111"/>
<circle cx="727.0" cy="47.5" r="0.85" fill="#111111"/>
<circle cx="727.4" cy="47.6" r="0.85" fill="#111111"/>
<circle cx="727.4" cy="48.1" r="0.85" fill="#111111"/>
<circle cx="728.0" cy="50.9" r="0.85" fill="#111111"/>
<circle cx="728.3" cy="49.1" r="0.85" fill="#111111"/>
<circle cx="728.5" cy="47.1" r="0.85" fill="#111111"/>
<circle cx="728.6" cy="48.4" r="0.85" fill="#111111"/>
<circle cx="729.1" cy="48.3" r="0.85" fill="#111111"/>
<circle cx="729.1" cy="48.0" r="0.85" fill="#111111"/>
<circle cx="729.2" cy="47.7" r="0.85" fill="#111111"/>
<circle cx="729.6" cy="45.2" r="0.85" fill="#111111"/>
<circle cx="729.8" cy="46.5" r="0.85" fill="#111111"/>
<circle cx="730.2" cy="49.8" r="0.85" fill="#111111"/>
<circle cx="730.4" cy="49.5" r="0.85" fill="#111111"/>
<circle cx="730.9" cy="46.5" r="0.85" fill="#111111"/>
<circle cx="731.1" cy="47.9" r="0.85" fill="#111111"/>
<circle cx="731.1" cy="48.4" r="0.85" fill="#111111"/>
<circle cx="731.3" cy="47.6" r="0.85" fill="#111111"/>
<circle cx="731.8" cy="49.3" r="0.85" fill="#111111"/>
<circle cx="732.2" cy="49.7" r="0.85" fill="#111111"/>
<circle cx="732.3" cy="49.9" r="0.85" fill="#111111"/>
<circle cx="732.7" cy="52.6" r="0.85" fill="#111111"/>
<circle cx="732.6" cy="51.5" r="0.85" fill="#111111"/>
<circle cx="733.2" cy="49.4" r="0.85" fill="#111111"/>
<circle cx="733.5" cy="49.7" r="0.85" fill="#111111"/>
<circle cx="733.7" cy="52.4" r="0.85" fill="#111111"/>
<circle cx="734.0" cy="56.1" r="0.85" fill="#111111"/>
<circle cx="734.1" cy="54.5" r="0.85" fill="#111111"/>
<circle cx="734.4" cy="52.4" r="0.85" fill="#111111"/>
<circle cx="734.5" cy="53.1" r="0.85" fill="#111111"/>
<circle cx="735.1" cy="51.7" r="0.85" fill="#111111"/>
<circle cx="735.1" cy="52.3" r="0.85" fill="#111111"/>
<circle cx="735.4" cy="53.8" r="0.85" fill="#111111"/>
<circle cx="735.9" cy="56.6" r="0.85" fill="#111111"/>
<circle cx="735.9" cy="56.3" r="0.85" fill="#111111"/>
<circle cx="736.2" cy="58.4" r="0.85" fill="#111111"/>
<circle cx="736.4" cy="58.3" r="0.85" fill="#111111"/>
<circle cx="736.7" cy="57.8" r="0.85" fill="#111111"/>
<circle cx="736.9" cy="58.8" r="0.85" fill="#111111"/>
<circle cx="737.4" cy="63.7" r="0.85" fill="#111111"/>
<circle cx="737.5" cy="65.4" r="0.85" fill="#111111"/>
<circle cx="738.0" cy="66.2" r="0.85" fill="#111111"/>
<circle cx="737.9" cy="63.9" r="0.85" fill="#111111"/>
<circle cx="738.5" cy="63.1" r="0.85" fill="#111111"/>
<circle cx="738.6" cy="60.3" r="0.85" fill="#111111"/>
<circle cx="739.0" cy="59.9" r="0.85" fill="#111111"/>
<circle cx="739.2" cy="59.5" r="0.85" fill="#111111"/>
<circle cx="739.4" cy="59.8" r="0.85" fill="#111111"/>
<circle cx="739.8" cy="61.1" r="0.85" fill="#111111"/>
<circle cx="739.8" cy="58.7" r="0.85" fill="#111111"/>
<circle cx="740.4" cy="58.3" r="0.85" fill="#111111"/>
<circle cx="740.6" cy="56.3" r="0.85" fill="#111111"/>
<circle cx="740.9" cy="55.1" r="0.85" fill="#111111"/>
<circle cx="740.9" cy="55.8" r="0.85" fill="#111111"/>
<circle cx="741.3" cy="53.8" r="0.85" fill="#111111"/>
<circle cx="741.6" cy="54.7" r="0.85" fill="#111111"/>
<circle cx="741.7" cy="58.9" r="0.85" fill="#111111"/>
<circle cx="741.9" cy="54.5" r="0.85" fill="#111111"/>
<circle cx="742.5" cy="54.6" r="0.85" fill="#111111"/>
<circle cx="742.6" cy="54.5" r="0.85" fill="#111111"/>
<circle cx="743.0" cy="51.7" r="0.85" fill="#111111"/>
<circle cx="743.0" cy="52.3" r="0.85" fill="#111111"/>
<circle cx="743.4" cy="52.1" r="0.85" fill="#111111"/>
<circle cx="743.5" cy="53.1" r="0.85" fill="#111111"/>
<circle cx="743.9" cy="54.4" r="0.85" fill="#111111"/>
<circle cx="744.3" cy="52.6" r="0.85" fill="#111111"/>
<circle cx="744.4" cy="53.2" r="0.85" fill="#111111"/>
<circle cx="744.8" cy="51.2" r="0.85" fill="#111111"/>
<circle cx="745.1" cy="51.6" r="0.85" fill="#111111"/>
<circle cx="745.1" cy="52.1" r="0.85" fill="#111111"/>
<circle cx="745.5" cy="50.6" r="0.85" fill="#111111"/>
<circle cx="745.7" cy="47.5" r="0.85" fill="#111111"/>
<circle cx="745.9" cy="50.1" r="0.85" fill="#111111"/>
<circle cx="746.4" cy="47.1" r="0.85" fill="#111111"/>
<circle cx="746.4" cy="46.5" r="0.85" fill="#111111"/>
<circle cx="746.7" cy="45.9" r="0.85" fill="#111111"/>
<circle cx="747.0" cy="47.6" r="0.85" fill="#111111"/>
<circle cx="747.2" cy="44.0" r="0.85" fill="#111111"/>
<circle cx="747.5" cy="46.4" r="0.85" fill="#111111"/>
<circle cx="747.7" cy="46.9" r="0.85" fill="#111111"/>
<circle cx="748.0" cy="45.1" r="0.85" fill="#111111"/>
<circle cx="748.4" cy="48.0" r="0.85" fill="#111111"/>
<circle cx="748.5" cy="45.3" r="0.85" fill="#111111"/>
<circle cx="748.8" cy="44.4" r="0.85" fill="#111111"/>
<circle cx="749.3" cy="46.7" r="0.85" fill="#111111"/>
<circle cx="749.5" cy="48.7" r="0.85" fill="#111111"/>
<circle cx="749.6" cy="47.2" r="0.85" fill="#111111"/>
<circle cx="750.1" cy="43.9" r="0.85" fill="#111111"/>
<circle cx="750.2" cy="41.1" r="0.85" fill="#111111"/>
<circle cx="750.5" cy="40.5" r="0.85" fill="#111111"/>
<circle cx="750.6" cy="42.4" r="0.85" fill="#111111"/>
<circle cx="750.9" cy="41.2" r="0.85" fill="#111111"/>
<circle cx="751.5" cy="46.7" r="0.85" fill="#111111"/>
<circle cx="751.6" cy="48.4" r="0.85" fill="#111111"/>
<circle cx="751.9" cy="51.3" r="0.85" fill="#111111"/>
<circle cx="751.9" cy="54.1" r="0.85" fill="#111111"/>
<circle cx="752.4" cy="56.2" r="0.85" fill="#111111"/>
<circle cx="752.6" cy="54.4" r="0.85" fill="#111111"/>
<circle cx="752.8" cy="56.2" r="0.85" fill="#111111"/>
<circle cx="753.0" cy="57.9" r="0.85" fill="#111111"/>
<circle cx="753.6" cy="55.6" r="0.85" fill="#111111"/>
<circle cx="753.9" cy="53.8" r="0.85" fill="#111111"/>
<circle cx="753.9" cy="52.2" r="0.85" fill="#111111"/>
<circle cx="754.2" cy="54.7" r="0.85" fill="#111111"/>
<circle cx="754.3" cy="51.2" r="0.85" fill="#111111"/>
<circle cx="754.7" cy="51.8" r="0.85" fill="#111111"/>
<circle cx="755.2" cy="52.6" r="0.85" fill="#111111"/>
<circle cx="755.3" cy="57.6" r="0.85" fill="#111111"/>
<circle cx="755.6" cy="60.1" r="0.85" fill="#111111"/>
<circle cx="755.9" cy="60.8" r="0.85" fill="#111111"/>
<circle cx="756.1" cy="60.5" r="0.85" fill="#111111"/>
<circle cx="756.4" cy="58.2" r="0.85" fill="#111111"/>
<circle cx="756.7" cy="60.2" r="0.85" fill="#111111"/>
<circle cx="757.0" cy="60.5" r="0.85" fill="#111111"/>
<circle cx="757.3" cy="61.7" r="0.85" fill="#111111"/>
<circle cx="757.3" cy="60.5" r="0.85" fill="#111111"/>
<circle cx="757.7" cy="59.2" r="0.85" fill="#111111"/>
<circle cx="757.9" cy="59.7" r="0.85" fill="#111111"/>
<circle cx="758.0" cy="57.9" r="0.85" fill="#111111"/>
<circle cx="758.5" cy="54.5" r="0.85" fill="#111111"/>
<circle cx="758.5" cy="55.4" r="0.85" fill="#111111"/>
<circle cx="759.1" cy="56.2" r="0.85" fill="#111111"/>
<circle cx="759.1" cy="56.6" r="0.85" fill="#111111"/>
<circle cx="759.6" cy="55.4" r="0.85" fill="#111111"/>
<circle cx="759.8" cy="55.3" r="0.85" fill="#111111"/>
<circle cx="760.0" cy="58.0" r="0.85" fill="#111111"/>
<circle cx="760.3" cy="60.4" r="0.85" fill="#111111"/>
<circle cx="760.6" cy="59.3" r="0.85" fill="#111111"/>
<circle cx="760.7" cy="60.1" r="0.85" fill="#111111"/>
<circle cx="761.2" cy="59.2" r="0.85" fill="#111111"/>
<circle cx="704.5" cy="44.0" r="0.85" fill="#111111"/>
<circle cx="705.5" cy="46.0" r="0.85" fill="#111111"/>
<circle cx="706.5" cy="45.0" r="0.85" fill="#111111"/>
<circle cx="719.0" cy="48.0" r="0.85" fill="#111111"/>
<circle cx="724.0" cy="40.5" r="0.85" fill="#111111"/>
<circle cx="728.0" cy="43.0" r="0.85" fill="#111111"/>
<circle cx="727.5" cy="47.0" r="0.85" fill="#111111"/>
<circle cx="729.0" cy="47.5" r="0.85" fill="#111111"/>
<circle cx="730.0" cy="49.0" r="0.85" fill="#111111"/>
<circle cx="750.6" cy="24.0" r="0.85" fill="#111111"/>
<circle cx="751.0" cy="35.8" r="0.85" fill="#111111"/>
<circle cx="750.0" cy="39.5" r="0.85" fill="#111111"/>
<circle cx="751.5" cy="42.5" r="0.85" fill="#111111"/>
<circle cx="752.0" cy="44.0" r="0.85" fill="#111111"/>
<circle cx="753.0" cy="46.0" r="0.85" fill="#111111"/>
<circle cx="737.5" cy="49.0" r="0.85" fill="#111111"/>
<circle cx="738.5" cy="80.8" r="0.85" fill="#111111"/>
<circle cx="739.5" cy="85.6" r="0.85" fill="#111111"/>
<circle cx="739.0" cy="68.0" r="0.85" fill="#111111"/>
<circle cx="739.5" cy="71.0" r="0.85" fill="#111111"/>
<circle cx="740.0" cy="73.5" r="0.85" fill="#111111"/>
</g>
<rect x="616.90" y="12.90" width="144.30" height="99.95" fill="none" stroke="#8a8a8a" stroke-width="1"/>
<line x1="641.20" y1="112.85" x2="641.20" y2="110.65" stroke="#8a8a8a" stroke-width="0.9"/>
<line x1="641.20" y1="12.90" x2="641.20" y2="15.10" stroke="#8a8a8a" stroke-width="0.9"/>
<line x1="666.50" y1="112.85" x2="666.50" y2="110.65" stroke="#8a8a8a" stroke-width="0.9"/>
<line x1="666.50" y1="12.90" x2="666.50" y2="15.10" stroke="#8a8a8a" stroke-width="0.9"/>
<line x1="691.50" y1="112.85" x2="691.50" y2="110.65" stroke="#8a8a8a" stroke-width="0.9"/>
<line x1="691.50" y1="12.90" x2="691.50" y2="15.10" stroke="#8a8a8a" stroke-width="0.9"/>
<line x1="716.50" y1="112.85" x2="716.50" y2="110.65" stroke="#8a8a8a" stroke-width="0.9"/>
<line x1="716.50" y1="12.90" x2="716.50" y2="15.10" stroke="#8a8a8a" stroke-width="0.9"/>
<line x1="741.50" y1="112.85" x2="741.50" y2="110.65" stroke="#8a8a8a" stroke-width="0.9"/>
<line x1="741.50" y1="12.90" x2="741.50" y2="15.10" stroke="#8a8a8a" stroke-width="0.9"/>
<line x1="616.90" y1="38.10" x2="618.40" y2="38.10" stroke="#8a8a8a" stroke-width="0.8"/>
<line x1="761.20" y1="38.10" x2="759.70" y2="38.10" stroke="#8a8a8a" stroke-width="0.8"/>
<line x1="616.90" y1="63.00" x2="618.40" y2="63.00" stroke="#8a8a8a" stroke-width="0.8"/>
<line x1="761.20" y1="63.00" x2="759.70" y2="63.00" stroke="#8a8a8a" stroke-width="0.8"/>
<line x1="616.90" y1="88.00" x2="618.40" y2="88.00" stroke="#8a8a8a" stroke-width="0.8"/>
<line x1="761.20" y1="88.00" x2="759.70" y2="88.00" stroke="#8a8a8a" stroke-width="0.8"/>
<text x="640.60" y="124.6" font-size="9" fill="#353535" text-anchor="middle">100</text>
<text x="665.90" y="124.6" font-size="9" fill="#353535" text-anchor="middle">200</text>
<text x="690.90" y="124.6" font-size="9" fill="#353535" text-anchor="middle">300</text>
<text x="715.90" y="124.6" font-size="9" fill="#353535" text-anchor="middle">400</text>
<text x="740.90" y="124.6" font-size="9" fill="#353535" text-anchor="middle">500</text>
<text x="611.20" y="40.9" font-size="9" fill="#353535" text-anchor="end"><tspan style="font-family:'Liberation Serif',serif" font-size="8.6">&#960;</tspan>/2</text>
<text x="612.30" y="66.2" font-size="9" fill="#353535" text-anchor="end">0</text>
<text x="611.20" y="90.9" font-size="9" fill="#353535" text-anchor="end">-<tspan style="font-family:'Liberation Serif',serif" font-size="8.6">&#960;</tspan>/2</text>
<text x="687.25" y="136.7" font-size="10" fill="#353535" text-anchor="middle">Samples</text>
<path d="M583.50,62.60 m-5.3,0 a5.3,4.6 0 1,0 10.6,0 a5.3,4.6 0 1,0 -10.6,0 z M583.50,62.60 m-4.5,0 a4.5,3.5 0 1,1 9.0,0 a4.5,3.5 0 1,1 -9.0,0 z" fill="#1e1e1e" fill-rule="evenodd"/>
<rect x="583.00" y="60.20" width="1.0" height="4.8" fill="#1e1e1e"/>
<clipPath id="hD"><rect x="616.90" y="151.60" width="144.30" height="100.90"/></clipPath>
<g clip-path="url(#hD)"><g filter="url(#bl)" shape-rendering="crispEdges">
<rect x="614.00" y="149.60" width="150.00" height="104.90" fill="#0b0103"/>
<rect x="620" y="149.60" width="2" height="8.73" fill="#3c0000"/>
<rect x="622" y="149.60" width="2" height="8.73" fill="#960000"/>
<rect x="624" y="149.60" width="4" height="8.73" fill="#3c0000"/>
<rect x="628" y="149.60" width="2" height="8.73" fill="#960000"/>
<rect x="630" y="149.60" width="1" height="8.73" fill="#3c0000"/>
<rect x="646" y="149.60" width="2" height="8.73" fill="#360000"/>
<rect x="648" y="149.60" width="2" height="8.73" fill="#880000"/>
<rect x="650" y="149.60" width="1" height="8.73" fill="#360000"/>
<rect x="659" y="149.60" width="2" height="8.73" fill="#360000"/>
<rect x="661" y="149.60" width="2" height="8.73" fill="#880000"/>
<rect x="663" y="149.60" width="1" height="8.73" fill="#360000"/>
<rect x="672" y="149.60" width="1" height="8.73" fill="#2c0000"/>
<rect x="673" y="149.60" width="2" height="8.73" fill="#6d0000"/>
<rect x="675" y="149.60" width="1" height="8.73" fill="#2c0000"/>
<rect x="687" y="149.60" width="2" height="8.73" fill="#520000"/>
<rect x="689" y="149.60" width="2" height="8.73" fill="#cc0000"/>
<rect x="691" y="149.60" width="2" height="8.73" fill="#520000"/>
<rect x="620" y="158.33" width="2" height="6.73" fill="#400000"/>
<rect x="622" y="158.33" width="2" height="6.73" fill="#a00000"/>
<rect x="624" y="158.33" width="3" height="6.73" fill="#400000"/>
<rect x="627" y="158.33" width="3" height="6.73" fill="#a00000"/>
<rect x="630" y="158.33" width="2" height="6.73" fill="#400000"/>
<rect x="645" y="158.33" width="2" height="6.73" fill="#3c0000"/>
<rect x="647" y="158.33" width="3" height="6.73" fill="#960000"/>
<rect x="650" y="158.33" width="2" height="6.73" fill="#3c0000"/>
<rect x="658" y="158.33" width="2" height="6.73" fill="#3c0000"/>
<rect x="660" y="158.33" width="3" height="6.73" fill="#960000"/>
<rect x="663" y="158.33" width="2" height="6.73" fill="#3c0000"/>
<rect x="671" y="158.33" width="2" height="6.73" fill="#310000"/>
<rect x="673" y="158.33" width="2" height="6.73" fill="#7a0000"/>
<rect x="675" y="158.33" width="2" height="6.73" fill="#310000"/>
<rect x="687" y="158.33" width="1" height="6.73" fill="#540000"/>
<rect x="688" y="158.33" width="4" height="6.73" fill="#d30000"/>
<rect x="692" y="158.33" width="1" height="6.73" fill="#540000"/>
<rect x="618" y="165.05" width="3" height="6.73" fill="#450000"/>
<rect x="621" y="165.05" width="4" height="6.73" fill="#ab0000"/>
<rect x="625" y="165.05" width="2" height="6.73" fill="#450000"/>
<rect x="627" y="165.05" width="3" height="6.73" fill="#ab0000"/>
<rect x="630" y="165.05" width="3" height="6.73" fill="#450000"/>
<rect x="644" y="165.05" width="3" height="6.73" fill="#410000"/>
<rect x="647" y="165.05" width="4" height="6.73" fill="#a30000"/>
<rect x="651" y="165.05" width="3" height="6.73" fill="#410000"/>
<rect x="657" y="165.05" width="3" height="6.73" fill="#410000"/>
<rect x="660" y="165.05" width="4" height="6.73" fill="#a30000"/>
<rect x="664" y="165.05" width="2" height="6.73" fill="#410000"/>
<rect x="670" y="165.05" width="3" height="6.73" fill="#360000"/>
<rect x="673" y="165.05" width="3" height="6.73" fill="#880000"/>
<rect x="676" y="165.05" width="2" height="6.73" fill="#360000"/>
<rect x="686" y="165.05" width="2" height="6.73" fill="#570000"/>
<rect x="688" y="165.05" width="4" height="6.73" fill="#da0000"/>
<rect x="692" y="165.05" width="2" height="6.73" fill="#570000"/>
<rect x="618" y="171.78" width="3" height="6.73" fill="#490000"/>
<rect x="621" y="171.78" width="4" height="6.73" fill="#b60000"/>
<rect x="625" y="171.78" width="1" height="6.73" fill="#490000"/>
<rect x="626" y="171.78" width="5" height="6.73" fill="#b60000"/>
<rect x="631" y="171.78" width="3" height="6.73" fill="#490000"/>
<rect x="643" y="171.78" width="3" height="6.73" fill="#470000"/>
<rect x="646" y="171.78" width="5" height="6.73" fill="#b10000"/>
<rect x="651" y="171.78" width="4" height="6.73" fill="#470000"/>
<rect x="656" y="171.78" width="3" height="6.73" fill="#470000"/>
<rect x="659" y="171.78" width="5" height="6.73" fill="#b10000"/>
<rect x="664" y="171.78" width="4" height="6.73" fill="#470000"/>
<rect x="670" y="171.78" width="2" height="6.73" fill="#3c0000"/>
<rect x="672" y="171.78" width="4" height="6.73" fill="#960000"/>
<rect x="676" y="171.78" width="3" height="6.73" fill="#3c0000"/>
<rect x="685" y="171.78" width="3" height="6.73" fill="#5a0000"/>
<rect x="688" y="171.78" width="4" height="6.73" fill="#e00000"/>
<rect x="692" y="171.78" width="3" height="6.73" fill="#5a0000"/>
<rect x="614" y="178.51" width="6" height="6.73" fill="#4d0000"/>
<rect x="620" y="178.51" width="11" height="6.73" fill="#c10000"/>
<rect x="631" y="178.51" width="4" height="6.73" fill="#4d0000"/>
<rect x="641" y="178.51" width="5" height="6.73" fill="#4c0000"/>
<rect x="646" y="178.51" width="6" height="6.73" fill="#be0000"/>
<rect x="652" y="178.51" width="7" height="6.73" fill="#4c0000"/>
<rect x="659" y="178.51" width="5" height="6.73" fill="#be0000"/>
<rect x="664" y="178.51" width="5" height="6.73" fill="#4c0000"/>
<rect x="669" y="178.51" width="3" height="6.73" fill="#410000"/>
<rect x="672" y="178.51" width="4" height="6.73" fill="#a30000"/>
<rect x="676" y="178.51" width="4" height="6.73" fill="#410000"/>
<rect x="685" y="178.51" width="2" height="6.73" fill="#5c0000"/>
<rect x="687" y="178.51" width="6" height="6.73" fill="#e70000"/>
<rect x="693" y="178.51" width="2" height="6.73" fill="#5c0000"/>
<rect x="614" y="185.23" width="3" height="6.73" fill="#520000"/>
<rect x="617" y="185.23" width="3" height="6.73" fill="#880000"/>
<rect x="620" y="185.23" width="12" height="6.73" fill="#cc0000"/>
<rect x="632" y="185.23" width="13" height="6.73" fill="#880000"/>
<rect x="645" y="185.23" width="7" height="6.73" fill="#cc0000"/>
<rect x="652" y="185.23" width="6" height="6.73" fill="#880000"/>
<rect x="658" y="185.23" width="7" height="6.73" fill="#cc0000"/>
<rect x="665" y="185.23" width="7" height="6.73" fill="#880000"/>
<rect x="672" y="185.23" width="5" height="6.73" fill="#b10000"/>
<rect x="677" y="185.23" width="10" height="6.73" fill="#880000"/>
<rect x="687" y="185.23" width="5" height="6.73" fill="#ee0000"/>
<rect x="692" y="185.23" width="5" height="6.73" fill="#520000"/>
<rect x="617" y="191.96" width="2" height="6.73" fill="#ff7700"/>
<rect x="633" y="191.96" width="11" height="6.73" fill="#ffa700"/>
<rect x="651" y="191.96" width="7" height="6.73" fill="#ff9900"/>
<rect x="665" y="191.96" width="8" height="6.73" fill="#ffcf00"/>
<rect x="676" y="191.96" width="2" height="6.73" fill="#ffc200"/>
<rect x="678" y="191.96" width="5" height="6.73" fill="#ffeb00"/>
<rect x="683" y="191.96" width="3" height="6.73" fill="#ffc200"/>
<rect x="692" y="191.96" width="5" height="6.73" fill="#cc0000"/>
<rect x="634" y="198.69" width="9" height="6.73" fill="#ff1f00"/>
<rect x="652" y="198.69" width="5" height="6.73" fill="#ff0300"/>
<rect x="665" y="198.69" width="8" height="6.73" fill="#660000"/>
<rect x="676" y="198.69" width="10" height="6.73" fill="#520000"/>
<rect x="694" y="198.69" width="7" height="6.73" fill="#ff3300"/>
<rect x="698" y="205.41" width="2" height="6.73" fill="#ff5500"/>
<rect x="700" y="205.41" width="2" height="6.73" fill="#ffff33"/>
<rect x="702" y="205.41" width="26" height="6.73" fill="#ffffcc"/>
<rect x="728" y="205.41" width="2" height="6.73" fill="#ffff85"/>
<rect x="730" y="205.41" width="31" height="6.73" fill="#ffffcc"/>
<rect x="701" y="212.14" width="27" height="6.73" fill="#300000"/>
<rect x="728" y="212.14" width="2" height="6.73" fill="#880000"/>
<rect x="730" y="212.14" width="31" height="6.73" fill="#300000"/>
</g></g>
<rect x="616.90" y="151.60" width="144.30" height="100.90" fill="none" stroke="#1a1a1a" stroke-width="0.8"/>
<line x1="641.20" y1="152.00" x2="641.20" y2="153.60" stroke="#5a5a5a" stroke-width="0.8"/>
<line x1="641.20" y1="252.10" x2="641.20" y2="250.50" stroke="#5a5a5a" stroke-width="0.8"/>
<line x1="666.50" y1="152.00" x2="666.50" y2="153.60" stroke="#5a5a5a" stroke-width="0.8"/>
<line x1="666.50" y1="252.10" x2="666.50" y2="250.50" stroke="#5a5a5a" stroke-width="0.8"/>
<line x1="691.50" y1="152.00" x2="691.50" y2="153.60" stroke="#5a5a5a" stroke-width="0.8"/>
<line x1="691.50" y1="252.10" x2="691.50" y2="250.50" stroke="#5a5a5a" stroke-width="0.8"/>
<line x1="716.50" y1="152.00" x2="716.50" y2="153.60" stroke="#5a5a5a" stroke-width="0.8"/>
<line x1="716.50" y1="252.10" x2="716.50" y2="250.50" stroke="#5a5a5a" stroke-width="0.8"/>
<line x1="741.50" y1="152.00" x2="741.50" y2="153.60" stroke="#5a5a5a" stroke-width="0.8"/>
<line x1="741.50" y1="252.10" x2="741.50" y2="250.50" stroke="#5a5a5a" stroke-width="0.8"/>
<text x="640.60" y="264.2" font-size="9" fill="#353535" text-anchor="middle">100</text>
<text x="665.90" y="264.2" font-size="9" fill="#353535" text-anchor="middle">200</text>
<text x="690.90" y="264.2" font-size="9" fill="#353535" text-anchor="middle">300</text>
<text x="715.90" y="264.2" font-size="9" fill="#353535" text-anchor="middle">400</text>
<text x="740.90" y="264.2" font-size="9" fill="#353535" text-anchor="middle">500</text>
<text x="612.60" y="185.07" font-size="9" fill="#353535" text-anchor="end">5</text>
<text x="612.60" y="218.70" font-size="9" fill="#353535" text-anchor="end">10</text>
<text x="612.60" y="252.34" font-size="9" fill="#353535" text-anchor="end">15</text>
<text x="687.25" y="276.0" font-size="10" fill="#353535" text-anchor="middle">Samples</text>
<text transform="translate(595.80,201.65) rotate(-90)" font-size="12" fill="#353535" text-anchor="middle" letter-spacing="0.82" style="font-family:'Liberation Serif',serif"><tspan font-style="italic">&#954;</tspan><tspan dx="2.2"> state number</tspan></text>
</g>
</svg></body></html>
